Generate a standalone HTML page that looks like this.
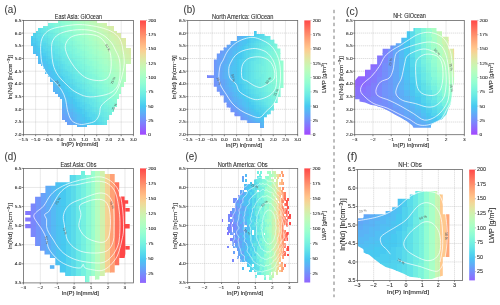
<!DOCTYPE html>
<html><head><meta charset="utf-8"><style>html,body{margin:0;padding:0;background:#fff;overflow:hidden}svg{display:block;will-change:transform}</style></head>
<body><svg width="500" height="305" viewBox="0 0 500 305" font-family='"Liberation Sans", sans-serif'>
<defs><clipPath id="cb"><path d="M236.50 35.80 L253.80 35.80 L253.80 30.90 L256.70 30.90 L256.70 33.90 L264.60 33.90 L264.60 35.80 L270.50 35.80 L270.50 39.80 L274.40 39.80 L274.40 43.70 L277.40 43.70 L277.40 48.60 L280.40 48.60 L280.40 60.40 L283.50 60.40 L283.50 88.00 L280.60 88.00 L280.60 97.00 L277.70 97.00 L277.70 103.00 L273.80 103.00 L273.80 110.40 L270.80 110.40 L270.80 114.30 L266.90 114.30 L266.90 117.30 L264.00 117.30 L264.00 128.00 L260.00 128.00 L260.00 123.10 L247.20 123.10 L247.20 120.20 L240.40 120.20 L240.40 116.30 L234.50 116.30 L234.50 112.30 L230.50 112.30 L230.50 107.40 L226.60 107.40 L226.60 102.50 L223.70 102.50 L223.70 95.60 L219.70 95.60 L219.70 91.70 L216.80 91.70 L216.80 86.80 L213.80 86.80 L213.80 78.00 L207.00 78.00 L207.00 75.20 L213.90 75.20 L213.90 59.40 L216.80 59.40 L216.80 53.50 L219.80 53.50 L219.80 50.50 L223.70 50.50 L223.70 47.60 L226.70 47.60 L226.70 44.70 L230.60 44.70 L230.60 40.70 L236.50 40.70Z"/></clipPath><clipPath id="cc"><path d="M413.40 27.90 L436.50 27.90 L436.50 31.20 L442.00 31.20 L442.00 36.70 L448.60 36.70 L448.60 48.80 L454.10 48.80 L454.10 80.00 L453.00 86.00 L451.90 97.00 L450.80 104.00 L448.60 108.00 L446.40 114.60 L442.00 119.00 L437.60 121.20 L431.00 124.50 L431.00 127.80 L413.40 127.80 L412.30 125.60 L406.80 121.20 L401.30 117.90 L394.70 114.60 L389.20 111.30 L382.60 108.00 L376.00 105.80 L370.50 104.70 L365.00 102.50 L359.50 101.40 L359.50 99.20 L355.10 99.20 L355.10 80.50 L358.40 76.30 L365.00 76.30 L365.00 69.70 L370.50 69.70 L370.50 64.20 L377.10 64.20 L377.10 55.40 L382.60 55.40 L382.60 48.80 L390.30 48.80 L390.30 45.50 L395.80 45.50 L395.80 43.30 L401.30 43.30 L401.30 37.80 L406.80 37.80 L406.80 31.20 L413.40 31.20Z"/></clipPath><clipPath id="cd"><path d="M80.50 171.00 L85.00 171.00 L85.00 175.00 L90.40 175.00 L90.40 171.00 L104.80 171.00 L104.80 174.10 L114.70 174.10 L114.70 182.20 L119.20 182.20 L119.20 196.60 L124.60 196.60 L124.60 200.20 L128.20 200.20 L128.20 203.80 L125.30 203.80 L125.30 224.00 L129.70 224.00 L129.70 228.40 L125.30 228.40 L125.30 253.70 L124.60 258.00 L119.20 258.00 L119.20 265.20 L114.70 265.20 L114.70 272.40 L104.80 272.40 L104.80 276.00 L99.40 276.00 L99.40 279.60 L95.00 279.60 L95.00 276.00 L89.50 276.00 L89.50 282.30 L85.00 282.30 L85.00 276.00 L65.20 276.00 L65.20 272.40 L59.80 272.40 L59.80 265.20 L55.30 265.20 L55.30 258.00 L49.90 258.00 L49.90 254.40 L44.50 254.40 L44.50 250.80 L40.00 250.80 L40.00 246.00 L35.10 246.00 L35.10 237.00 L30.70 237.00 L30.70 228.20 L25.20 228.20 L25.20 211.10 L30.70 211.10 L30.70 203.40 L35.10 203.40 L35.10 196.80 L40.60 196.80 L40.60 193.00 L45.40 193.00 L45.40 185.80 L55.30 185.80 L55.30 182.20 L69.70 182.20 L69.70 175.00 L80.50 175.00Z"/></clipPath><clipPath id="cf"><path d="M357.80 218.20 L363.60 218.20 L363.60 214.20 L385.60 214.20 L385.60 210.90 L392.20 210.90 L392.20 207.20 L397.70 207.20 L397.70 198.80 L409.80 198.80 L409.80 194.40 L415.30 194.40 L415.30 190.70 L437.30 190.70 L437.30 194.40 L442.80 194.40 L442.80 214.20 L449.40 214.20 L449.40 257.00 L442.80 257.00 L442.80 275.70 L438.40 276.80 L431.80 279.00 L420.80 279.00 L420.80 277.90 L409.80 276.80 L403.20 273.50 L397.70 271.30 L392.20 269.10 L385.60 266.90 L380.10 263.60 L374.60 259.20 L369.10 254.80 L363.60 252.60 L363.60 249.30 L357.80 246.00Z"/></clipPath><linearGradient id="cbga" x1="0" y1="0" x2="0" y2="1"><stop offset="0.000" stop-color="#ff4747"/><stop offset="0.050" stop-color="#ff6456"/><stop offset="0.100" stop-color="#ff8064"/><stop offset="0.150" stop-color="#ff9b72"/><stop offset="0.200" stop-color="#ffb380"/><stop offset="0.250" stop-color="#ffc98e"/><stop offset="0.300" stop-color="#eddc9b"/><stop offset="0.350" stop-color="#daeba7"/><stop offset="0.400" stop-color="#c8f6b3"/><stop offset="0.450" stop-color="#b6fdbf"/><stop offset="0.500" stop-color="#a3ffc9"/><stop offset="0.550" stop-color="#91fdd3"/><stop offset="0.600" stop-color="#7ef6dc"/><stop offset="0.650" stop-color="#6cebe4"/><stop offset="0.700" stop-color="#5adceb"/><stop offset="0.750" stop-color="#47c9f1"/><stop offset="0.800" stop-color="#5ab3f6"/><stop offset="0.850" stop-color="#6c9bfa"/><stop offset="0.900" stop-color="#7e80fd"/><stop offset="0.950" stop-color="#9164fe"/><stop offset="1.000" stop-color="#a347ff"/></linearGradient><linearGradient id="cbgb" x1="0" y1="0" x2="0" y2="1"><stop offset="0.000" stop-color="#ff4747"/><stop offset="0.050" stop-color="#ff6456"/><stop offset="0.100" stop-color="#ff8064"/><stop offset="0.150" stop-color="#ff9b72"/><stop offset="0.200" stop-color="#ffb380"/><stop offset="0.250" stop-color="#ffc98e"/><stop offset="0.300" stop-color="#eddc9b"/><stop offset="0.350" stop-color="#daeba7"/><stop offset="0.400" stop-color="#c8f6b3"/><stop offset="0.450" stop-color="#b6fdbf"/><stop offset="0.500" stop-color="#a3ffc9"/><stop offset="0.550" stop-color="#91fdd3"/><stop offset="0.600" stop-color="#7ef6dc"/><stop offset="0.650" stop-color="#6cebe4"/><stop offset="0.700" stop-color="#5adceb"/><stop offset="0.750" stop-color="#47c9f1"/><stop offset="0.800" stop-color="#5ab3f6"/><stop offset="0.850" stop-color="#6c9bfa"/><stop offset="0.900" stop-color="#7e80fd"/><stop offset="0.950" stop-color="#9164fe"/><stop offset="1.000" stop-color="#a347ff"/></linearGradient><linearGradient id="cbgc" x1="0" y1="0" x2="0" y2="1"><stop offset="0.000" stop-color="#ff4747"/><stop offset="0.050" stop-color="#ff6456"/><stop offset="0.100" stop-color="#ff8064"/><stop offset="0.150" stop-color="#ff9b72"/><stop offset="0.200" stop-color="#ffb380"/><stop offset="0.250" stop-color="#ffc98e"/><stop offset="0.300" stop-color="#eddc9b"/><stop offset="0.350" stop-color="#daeba7"/><stop offset="0.400" stop-color="#c8f6b3"/><stop offset="0.450" stop-color="#b6fdbf"/><stop offset="0.500" stop-color="#a3ffc9"/><stop offset="0.550" stop-color="#91fdd3"/><stop offset="0.600" stop-color="#7ef6dc"/><stop offset="0.650" stop-color="#6cebe4"/><stop offset="0.700" stop-color="#5adceb"/><stop offset="0.750" stop-color="#47c9f1"/><stop offset="0.800" stop-color="#5ab3f6"/><stop offset="0.850" stop-color="#6c9bfa"/><stop offset="0.900" stop-color="#7e80fd"/><stop offset="0.950" stop-color="#9164fe"/><stop offset="1.000" stop-color="#a347ff"/></linearGradient><linearGradient id="cbgd" x1="0" y1="0" x2="0" y2="1"><stop offset="0.000" stop-color="#ff4747"/><stop offset="0.050" stop-color="#ff6355"/><stop offset="0.100" stop-color="#ff7d63"/><stop offset="0.150" stop-color="#ff9770"/><stop offset="0.200" stop-color="#ffaf7d"/><stop offset="0.250" stop-color="#ffc48a"/><stop offset="0.300" stop-color="#f2d797"/><stop offset="0.350" stop-color="#e1e6a3"/><stop offset="0.400" stop-color="#cff2af"/><stop offset="0.450" stop-color="#befaba"/><stop offset="0.500" stop-color="#acfec4"/><stop offset="0.550" stop-color="#9bffce"/><stop offset="0.600" stop-color="#89fbd7"/><stop offset="0.650" stop-color="#78f3df"/><stop offset="0.700" stop-color="#67e7e6"/><stop offset="0.750" stop-color="#55d8ed"/><stop offset="0.800" stop-color="#4bc5f2"/><stop offset="0.850" stop-color="#5db0f7"/><stop offset="0.900" stop-color="#6e98fa"/><stop offset="0.950" stop-color="#7f7ffd"/><stop offset="1.000" stop-color="#9164fe"/></linearGradient><linearGradient id="cbge" x1="0" y1="0" x2="0" y2="1"><stop offset="0.000" stop-color="#ff4747"/><stop offset="0.050" stop-color="#ff6355"/><stop offset="0.100" stop-color="#ff7d63"/><stop offset="0.150" stop-color="#ff9770"/><stop offset="0.200" stop-color="#ffaf7d"/><stop offset="0.250" stop-color="#ffc48a"/><stop offset="0.300" stop-color="#f2d797"/><stop offset="0.350" stop-color="#e1e6a3"/><stop offset="0.400" stop-color="#cff2af"/><stop offset="0.450" stop-color="#befaba"/><stop offset="0.500" stop-color="#acfec4"/><stop offset="0.550" stop-color="#9bffce"/><stop offset="0.600" stop-color="#89fbd7"/><stop offset="0.650" stop-color="#78f3df"/><stop offset="0.700" stop-color="#67e7e6"/><stop offset="0.750" stop-color="#55d8ed"/><stop offset="0.800" stop-color="#4bc5f2"/><stop offset="0.850" stop-color="#5db0f7"/><stop offset="0.900" stop-color="#6e98fa"/><stop offset="0.950" stop-color="#7f7ffd"/><stop offset="1.000" stop-color="#9164fe"/></linearGradient><linearGradient id="cbgf" x1="0" y1="0" x2="0" y2="1"><stop offset="0.000" stop-color="#ff4747"/><stop offset="0.050" stop-color="#ff6355"/><stop offset="0.100" stop-color="#ff7d63"/><stop offset="0.150" stop-color="#ff9770"/><stop offset="0.200" stop-color="#ffaf7d"/><stop offset="0.250" stop-color="#ffc48a"/><stop offset="0.300" stop-color="#f2d797"/><stop offset="0.350" stop-color="#e1e6a3"/><stop offset="0.400" stop-color="#cff2af"/><stop offset="0.450" stop-color="#befaba"/><stop offset="0.500" stop-color="#acfec4"/><stop offset="0.550" stop-color="#9bffce"/><stop offset="0.600" stop-color="#89fbd7"/><stop offset="0.650" stop-color="#78f3df"/><stop offset="0.700" stop-color="#67e7e6"/><stop offset="0.750" stop-color="#55d8ed"/><stop offset="0.800" stop-color="#4bc5f2"/><stop offset="0.850" stop-color="#5db0f7"/><stop offset="0.900" stop-color="#6e98fa"/><stop offset="0.950" stop-color="#7f7ffd"/><stop offset="1.000" stop-color="#9164fe"/></linearGradient></defs>
<rect width="500" height="305" fill="#fff"/>
<path d="M35.62 20.40V134.70M47.84 20.40V134.70M60.07 20.40V134.70M72.29 20.40V134.70M84.51 20.40V134.70M96.73 20.40V134.70M108.96 20.40V134.70M121.18 20.40V134.70M23.40 122.00H133.40M23.40 109.30H133.40M23.40 96.60H133.40M23.40 83.90H133.40M23.40 71.20H133.40M23.40 58.50H133.40M23.40 45.80H133.40M23.40 33.10H133.40" stroke="#c8c8c8" stroke-width="0.5" stroke-dasharray="1.2,0.8" fill="none"/>
<path d="M199.92 20.40V134.70M212.14 20.40V134.70M224.37 20.40V134.70M236.59 20.40V134.70M248.81 20.40V134.70M261.03 20.40V134.70M273.26 20.40V134.70M285.48 20.40V134.70M187.70 122.00H297.70M187.70 109.30H297.70M187.70 96.60H297.70M187.70 83.90H297.70M187.70 71.20H297.70M187.70 58.50H297.70M187.70 45.80H297.70M187.70 33.10H297.70" stroke="#c8c8c8" stroke-width="0.5" stroke-dasharray="1.2,0.8" fill="none"/>
<path d="M372.97 20.40V134.70M391.23 20.40V134.70M409.50 20.40V134.70M427.77 20.40V134.70M446.03 20.40V134.70M354.70 122.00H464.30M354.70 109.30H464.30M354.70 96.60H464.30M354.70 83.90H464.30M354.70 71.20H464.30M354.70 58.50H464.30M354.70 45.80H464.30M354.70 33.10H464.30" stroke="#c8c8c8" stroke-width="0.5" stroke-dasharray="1.2,0.8" fill="none"/>
<path d="M40.32 168.40V282.90M57.25 168.40V282.90M74.17 168.40V282.90M91.09 168.40V282.90M108.02 168.40V282.90M124.94 168.40V282.90M23.40 263.82H133.40M23.40 244.73H133.40M23.40 225.65H133.40M23.40 206.57H133.40M23.40 187.48H133.40" stroke="#c8c8c8" stroke-width="0.5" stroke-dasharray="1.2,0.8" fill="none"/>
<path d="M204.62 168.40V282.50M221.55 168.40V282.50M238.47 168.40V282.50M255.39 168.40V282.50M272.32 168.40V282.50M289.24 168.40V282.50M187.70 263.48H297.70M187.70 244.47H297.70M187.70 225.45H297.70M187.70 206.43H297.70M187.70 187.42H297.70" stroke="#c8c8c8" stroke-width="0.5" stroke-dasharray="1.2,0.8" fill="none"/>
<path d="M373.67 169.60V280.40M389.84 169.60V280.40M406.01 169.60V280.40M422.18 169.60V280.40M438.35 169.60V280.40M454.52 169.60V280.40M357.50 261.93H462.60M357.50 243.47H462.60M357.50 225.00H462.60M357.50 206.53H462.60M357.50 188.07H462.60" stroke="#c8c8c8" stroke-width="0.5" stroke-dasharray="1.2,0.8" fill="none"/>
<g shape-rendering="crispEdges"><path fill="#88fad8" d="M57.6 20.4h2.74v2.84h-2.74zM60.1 22.9h2.74v2.84h-2.74zM60.1 25.5h2.74v2.84h-2.74zM62.5 28.0h2.74v2.84h-2.74zM64.9 30.6h2.74v2.84h-2.74zM64.9 33.1h2.74v2.84h-2.74zM67.4 33.1h2.74v2.84h-2.74zM67.4 35.6h2.74v2.84h-2.74zM69.8 38.2h2.74v2.84h-2.74zM72.3 40.7h2.74v2.84h-2.74zM72.3 43.3h2.74v2.84h-2.74zM74.7 45.8h2.74v2.84h-2.74zM77.2 48.3h2.74v2.84h-2.74zM77.2 50.9h2.74v2.84h-2.74zM79.6 50.9h2.74v2.84h-2.74zM79.6 53.4h2.74v2.84h-2.74zM82.1 56.0h2.74v2.84h-2.74zM84.5 58.5h2.74v2.84h-2.74zM84.5 61.0h2.74v2.84h-2.74zM86.9 63.6h2.74v2.84h-2.74zM89.4 66.1h2.74v2.84h-2.74zM89.4 68.7h2.74v2.84h-2.74zM91.8 68.7h2.74v2.84h-2.74zM91.8 71.2h2.74v2.84h-2.74zM94.3 73.7h2.74v2.84h-2.74zM96.7 76.3h2.74v2.84h-2.74zM96.7 78.8h2.74v2.84h-2.74zM99.2 81.4h2.74v2.84h-2.74zM101.6 83.9h2.74v2.84h-2.74zM101.6 86.4h2.74v2.84h-2.74zM104.1 86.4h2.74v2.84h-2.74zM104.1 89.0h2.74v2.84h-2.74zM106.5 91.5h2.74v2.84h-2.74zM108.9 94.1h2.74v2.84h-2.74zM108.9 96.6h2.74v2.84h-2.74zM111.4 99.1h2.74v2.84h-2.74zM113.8 101.7h2.74v2.84h-2.74zM113.8 104.2h2.74v2.84h-2.74z"/><path fill="#8cfbd5" d="M60.1 20.4h2.74v2.84h-2.74zM62.5 22.9h2.74v2.84h-2.74zM62.5 25.5h2.74v2.84h-2.74zM64.9 25.5h2.74v2.84h-2.74zM64.9 28.0h2.74v2.84h-2.74zM67.4 30.6h2.74v2.84h-2.74zM69.8 33.1h2.74v2.84h-2.74zM69.8 35.6h2.74v2.84h-2.74zM72.3 38.2h2.74v2.84h-2.74zM74.7 40.7h2.74v2.84h-2.74zM74.7 43.3h2.74v2.84h-2.74zM77.2 43.3h2.74v2.84h-2.74zM77.2 45.8h2.74v2.84h-2.74zM79.6 48.3h2.74v2.84h-2.74zM82.1 50.9h2.74v2.84h-2.74zM82.1 53.4h2.74v2.84h-2.74zM84.5 56.0h2.74v2.84h-2.74zM86.9 58.5h2.74v2.84h-2.74zM86.9 61.0h2.74v2.84h-2.74zM89.4 61.0h2.74v2.84h-2.74zM89.4 63.6h2.74v2.84h-2.74zM91.8 66.1h2.74v2.84h-2.74zM94.3 68.7h2.74v2.84h-2.74zM94.3 71.2h2.74v2.84h-2.74zM96.7 73.7h2.74v2.84h-2.74zM99.2 76.3h2.74v2.84h-2.74zM99.2 78.8h2.74v2.84h-2.74zM101.6 78.8h2.74v2.84h-2.74zM101.6 81.4h2.74v2.84h-2.74zM104.1 83.9h2.74v2.84h-2.74zM106.5 86.4h2.74v2.84h-2.74zM106.5 89.0h2.74v2.84h-2.74zM108.9 91.5h2.74v2.84h-2.74zM111.4 94.1h2.74v2.84h-2.74zM111.4 96.6h2.74v2.84h-2.74zM113.8 96.6h2.74v2.84h-2.74zM113.8 99.1h2.74v2.84h-2.74z"/><path fill="#91fdd3" d="M62.5 20.4h2.74v2.84h-2.74zM64.9 22.9h2.74v2.84h-2.74zM67.4 25.5h2.74v2.84h-2.74zM67.4 28.0h2.74v2.84h-2.74zM69.8 30.6h2.74v2.84h-2.74zM72.3 33.1h2.74v2.84h-2.74zM72.3 35.6h2.74v2.84h-2.74zM74.7 35.6h2.74v2.84h-2.74zM74.7 38.2h2.74v2.84h-2.74zM77.2 40.7h2.74v2.84h-2.74zM79.6 43.3h2.74v2.84h-2.74zM79.6 45.8h2.74v2.84h-2.74zM82.1 48.3h2.74v2.84h-2.74zM84.5 50.9h2.74v2.84h-2.74zM84.5 53.4h2.74v2.84h-2.74zM86.9 53.4h2.74v2.84h-2.74zM86.9 56.0h2.74v2.84h-2.74zM89.4 58.5h2.74v2.84h-2.74zM91.8 61.0h2.74v2.84h-2.74zM91.8 63.6h2.74v2.84h-2.74zM94.3 66.1h2.74v2.84h-2.74zM96.7 68.7h2.74v2.84h-2.74zM96.7 71.2h2.74v2.84h-2.74zM99.2 71.2h2.74v2.84h-2.74zM99.2 73.7h2.74v2.84h-2.74zM101.6 76.3h2.74v2.84h-2.74zM104.1 78.8h2.74v2.84h-2.74zM104.1 81.4h2.74v2.84h-2.74zM106.5 83.9h2.74v2.84h-2.74zM108.9 86.4h2.74v2.84h-2.74zM108.9 89.0h2.74v2.84h-2.74zM111.4 89.0h2.74v2.84h-2.74zM111.4 91.5h2.74v2.84h-2.74zM113.8 94.1h2.74v2.84h-2.74zM116.3 96.6h2.74v2.84h-2.74z"/><path fill="#95fed1" d="M64.9 20.4h2.74v2.84h-2.74zM67.4 20.4h2.74v2.84h-2.74zM67.4 22.9h2.74v2.84h-2.74zM69.8 25.5h2.74v2.84h-2.74zM69.8 28.0h2.74v2.84h-2.74zM72.3 28.0h2.74v2.84h-2.74zM72.3 30.6h2.74v2.84h-2.74zM74.7 33.1h2.74v2.84h-2.74zM77.2 35.6h2.74v2.84h-2.74zM77.2 38.2h2.74v2.84h-2.74zM79.6 40.7h2.74v2.84h-2.74zM82.1 43.3h2.74v2.84h-2.74zM82.1 45.8h2.74v2.84h-2.74zM84.5 45.8h2.74v2.84h-2.74zM84.5 48.3h2.74v2.84h-2.74zM86.9 50.9h2.74v2.84h-2.74zM89.4 53.4h2.74v2.84h-2.74zM89.4 56.0h2.74v2.84h-2.74zM91.8 58.5h2.74v2.84h-2.74zM94.3 61.0h2.74v2.84h-2.74zM94.3 63.6h2.74v2.84h-2.74zM96.7 63.6h2.74v2.84h-2.74zM96.7 66.1h2.74v2.84h-2.74zM99.2 68.7h2.74v2.84h-2.74zM101.6 71.2h2.74v2.84h-2.74zM101.6 73.7h2.74v2.84h-2.74zM104.1 76.3h2.74v2.84h-2.74zM106.5 78.8h2.74v2.84h-2.74zM106.5 81.4h2.74v2.84h-2.74zM108.9 81.4h2.74v2.84h-2.74zM108.9 83.9h2.74v2.84h-2.74zM111.4 86.4h2.74v2.84h-2.74zM113.8 89.0h2.74v2.84h-2.74zM113.8 91.5h2.74v2.84h-2.74zM116.3 94.1h2.74v2.84h-2.74z"/><path fill="#9afece" d="M69.8 20.4h2.74v2.84h-2.74zM69.8 22.9h2.74v2.84h-2.74zM72.3 25.5h2.74v2.84h-2.74zM74.7 28.0h2.74v2.84h-2.74zM74.7 30.6h2.74v2.84h-2.74zM77.2 30.6h2.74v2.84h-2.74zM77.2 33.1h2.74v2.84h-2.74zM79.6 35.6h2.74v2.84h-2.74zM79.6 38.2h2.74v2.84h-2.74zM82.1 38.2h2.74v2.84h-2.74zM82.1 40.7h2.74v2.84h-2.74zM84.5 43.3h2.74v2.84h-2.74zM86.9 45.8h2.74v2.84h-2.74zM86.9 48.3h2.74v2.84h-2.74zM89.4 48.3h2.74v2.84h-2.74zM89.4 50.9h2.74v2.84h-2.74zM91.8 53.4h2.74v2.84h-2.74zM91.8 56.0h2.74v2.84h-2.74zM94.3 56.0h2.74v2.84h-2.74zM94.3 58.5h2.74v2.84h-2.74zM96.7 61.0h2.74v2.84h-2.74zM99.2 63.6h2.74v2.84h-2.74zM99.2 66.1h2.74v2.84h-2.74zM101.6 68.7h2.74v2.84h-2.74zM104.1 71.2h2.74v2.84h-2.74zM104.1 73.7h2.74v2.84h-2.74zM106.5 73.7h2.74v2.84h-2.74zM106.5 76.3h2.74v2.84h-2.74zM108.9 78.8h2.74v2.84h-2.74zM111.4 81.4h2.74v2.84h-2.74zM111.4 83.9h2.74v2.84h-2.74zM113.8 86.4h2.74v2.84h-2.74zM116.3 89.0h2.74v2.84h-2.74zM116.3 91.5h2.74v2.84h-2.74zM118.7 91.5h2.74v2.84h-2.74z"/><path fill="#9fffcc" d="M72.3 20.4h2.74v2.84h-2.74zM72.3 22.9h2.74v2.84h-2.74zM74.7 22.9h2.74v2.84h-2.74zM74.7 25.5h2.74v2.84h-2.74zM77.2 28.0h2.74v2.84h-2.74zM79.6 30.6h2.74v2.84h-2.74zM79.6 33.1h2.74v2.84h-2.74zM82.1 35.6h2.74v2.84h-2.74zM84.5 38.2h2.74v2.84h-2.74zM84.5 40.7h2.74v2.84h-2.74zM86.9 40.7h2.74v2.84h-2.74zM86.9 43.3h2.74v2.84h-2.74zM89.4 45.8h2.74v2.84h-2.74zM91.8 48.3h2.74v2.84h-2.74zM91.8 50.9h2.74v2.84h-2.74zM94.3 53.4h2.74v2.84h-2.74zM96.7 56.0h2.74v2.84h-2.74zM96.7 58.5h2.74v2.84h-2.74zM99.2 58.5h2.74v2.84h-2.74zM99.2 61.0h2.74v2.84h-2.74zM101.6 63.6h2.74v2.84h-2.74zM101.6 66.1h2.74v2.84h-2.74zM104.1 66.1h2.74v2.84h-2.74zM104.1 68.7h2.74v2.84h-2.74zM106.5 71.2h2.74v2.84h-2.74zM108.9 73.7h2.74v2.84h-2.74zM108.9 76.3h2.74v2.84h-2.74zM111.4 78.8h2.74v2.84h-2.74zM113.8 81.4h2.74v2.84h-2.74zM113.8 83.9h2.74v2.84h-2.74zM116.3 83.9h2.74v2.84h-2.74zM116.3 86.4h2.74v2.84h-2.74zM118.7 89.0h2.74v2.84h-2.74z"/><path fill="#a3ffc9" d="M74.7 20.4h2.74v2.84h-2.74zM77.2 22.9h2.74v2.84h-2.74zM77.2 25.5h2.74v2.84h-2.74zM79.6 28.0h2.74v2.84h-2.74zM82.1 30.6h2.74v2.84h-2.74zM82.1 33.1h2.74v2.84h-2.74zM84.5 33.1h2.74v2.84h-2.74zM84.5 35.6h2.74v2.84h-2.74zM86.9 38.2h2.74v2.84h-2.74zM89.4 40.7h2.74v2.84h-2.74zM89.4 43.3h2.74v2.84h-2.74zM91.8 45.8h2.74v2.84h-2.74zM94.3 48.3h2.74v2.84h-2.74zM94.3 50.9h2.74v2.84h-2.74zM96.7 50.9h2.74v2.84h-2.74zM96.7 53.4h2.74v2.84h-2.74zM99.2 56.0h2.74v2.84h-2.74zM101.6 58.5h2.74v2.84h-2.74zM101.6 61.0h2.74v2.84h-2.74zM104.1 63.6h2.74v2.84h-2.74zM106.5 66.1h2.74v2.84h-2.74zM106.5 68.7h2.74v2.84h-2.74zM108.9 68.7h2.74v2.84h-2.74zM108.9 71.2h2.74v2.84h-2.74zM111.4 73.7h2.74v2.84h-2.74zM111.4 76.3h2.74v2.84h-2.74zM113.8 76.3h2.74v2.84h-2.74zM113.8 78.8h2.74v2.84h-2.74zM116.3 81.4h2.74v2.84h-2.74zM118.7 83.9h2.74v2.84h-2.74zM118.7 86.4h2.74v2.84h-2.74z"/><path fill="#a8ffc7" d="M77.2 20.4h2.74v2.84h-2.74zM79.6 22.9h2.74v2.84h-2.74zM79.6 25.5h2.74v2.84h-2.74zM82.1 25.5h2.74v2.84h-2.74zM82.1 28.0h2.74v2.84h-2.74zM84.5 30.6h2.74v2.84h-2.74zM86.9 33.1h2.74v2.84h-2.74zM86.9 35.6h2.74v2.84h-2.74zM89.4 38.2h2.74v2.84h-2.74zM91.8 40.7h2.74v2.84h-2.74zM91.8 43.3h2.74v2.84h-2.74zM94.3 43.3h2.74v2.84h-2.74zM94.3 45.8h2.74v2.84h-2.74zM96.7 48.3h2.74v2.84h-2.74zM99.2 50.9h2.74v2.84h-2.74zM99.2 53.4h2.74v2.84h-2.74zM101.6 56.0h2.74v2.84h-2.74zM104.1 58.5h2.74v2.84h-2.74zM104.1 61.0h2.74v2.84h-2.74zM106.5 61.0h2.74v2.84h-2.74zM106.5 63.6h2.74v2.84h-2.74zM108.9 66.1h2.74v2.84h-2.74zM111.4 68.7h2.74v2.84h-2.74zM111.4 71.2h2.74v2.84h-2.74zM113.8 73.7h2.74v2.84h-2.74zM116.3 76.3h2.74v2.84h-2.74zM116.3 78.8h2.74v2.84h-2.74zM118.7 78.8h2.74v2.84h-2.74zM118.7 81.4h2.74v2.84h-2.74zM121.2 83.9h2.74v2.84h-2.74z"/><path fill="#acfec4" d="M79.6 20.4h2.74v2.84h-2.74zM82.1 22.9h2.74v2.84h-2.74zM84.5 25.5h2.74v2.84h-2.74zM84.5 28.0h2.74v2.84h-2.74zM86.9 30.6h2.74v2.84h-2.74zM89.4 33.1h2.74v2.84h-2.74zM89.4 35.6h2.74v2.84h-2.74zM91.8 35.6h2.74v2.84h-2.74zM91.8 38.2h2.74v2.84h-2.74zM94.3 40.7h2.74v2.84h-2.74zM96.7 43.3h2.74v2.84h-2.74zM96.7 45.8h2.74v2.84h-2.74zM99.2 48.3h2.74v2.84h-2.74zM101.6 50.9h2.74v2.84h-2.74zM101.6 53.4h2.74v2.84h-2.74zM104.1 53.4h2.74v2.84h-2.74zM104.1 56.0h2.74v2.84h-2.74zM106.5 58.5h2.74v2.84h-2.74zM108.9 61.0h2.74v2.84h-2.74zM108.9 63.6h2.74v2.84h-2.74zM111.4 66.1h2.74v2.84h-2.74zM113.8 68.7h2.74v2.84h-2.74zM113.8 71.2h2.74v2.84h-2.74zM116.3 71.2h2.74v2.84h-2.74zM116.3 73.7h2.74v2.84h-2.74zM118.7 76.3h2.74v2.84h-2.74zM121.2 78.8h2.74v2.84h-2.74zM121.2 81.4h2.74v2.84h-2.74z"/><path fill="#b1fec1" d="M82.1 20.4h2.74v2.84h-2.74zM84.5 22.9h2.74v2.84h-2.74zM86.9 25.5h2.74v2.84h-2.74zM86.9 28.0h2.74v2.84h-2.74zM89.4 28.0h2.74v2.84h-2.74zM89.4 30.6h2.74v2.84h-2.74zM91.8 33.1h2.74v2.84h-2.74zM94.3 35.6h2.74v2.84h-2.74zM94.3 38.2h2.74v2.84h-2.74zM96.7 40.7h2.74v2.84h-2.74zM99.2 43.3h2.74v2.84h-2.74zM99.2 45.8h2.74v2.84h-2.74zM101.6 45.8h2.74v2.84h-2.74zM101.6 48.3h2.74v2.84h-2.74zM104.1 50.9h2.74v2.84h-2.74zM106.5 53.4h2.74v2.84h-2.74zM106.5 56.0h2.74v2.84h-2.74zM108.9 58.5h2.74v2.84h-2.74zM111.4 61.0h2.74v2.84h-2.74zM111.4 63.6h2.74v2.84h-2.74zM113.8 63.6h2.74v2.84h-2.74zM113.8 66.1h2.74v2.84h-2.74zM116.3 68.7h2.74v2.84h-2.74zM118.7 71.2h2.74v2.84h-2.74zM118.7 73.7h2.74v2.84h-2.74zM121.2 76.3h2.74v2.84h-2.74zM123.6 78.8h2.74v2.84h-2.74z"/><path fill="#b6fdbf" d="M84.5 20.4h2.74v2.84h-2.74zM86.9 20.4h2.74v2.84h-2.74zM86.9 22.9h2.74v2.84h-2.74zM89.4 25.5h2.74v2.84h-2.74zM91.8 28.0h2.74v2.84h-2.74zM91.8 30.6h2.74v2.84h-2.74zM94.3 30.6h2.74v2.84h-2.74zM94.3 33.1h2.74v2.84h-2.74zM96.7 35.6h2.74v2.84h-2.74zM96.7 38.2h2.74v2.84h-2.74zM99.2 38.2h2.74v2.84h-2.74zM99.2 40.7h2.74v2.84h-2.74zM101.6 43.3h2.74v2.84h-2.74zM104.1 45.8h2.74v2.84h-2.74zM104.1 48.3h2.74v2.84h-2.74zM106.5 50.9h2.74v2.84h-2.74zM108.9 53.4h2.74v2.84h-2.74zM108.9 56.0h2.74v2.84h-2.74zM111.4 56.0h2.74v2.84h-2.74zM111.4 58.5h2.74v2.84h-2.74zM113.8 61.0h2.74v2.84h-2.74zM116.3 63.6h2.74v2.84h-2.74zM116.3 66.1h2.74v2.84h-2.74zM118.7 68.7h2.74v2.84h-2.74zM121.2 71.2h2.74v2.84h-2.74zM121.2 73.7h2.74v2.84h-2.74zM123.6 73.7h2.74v2.84h-2.74zM123.6 76.3h2.74v2.84h-2.74z"/><path fill="#bafbbc" d="M89.4 20.4h2.74v2.84h-2.74zM89.4 22.9h2.74v2.84h-2.74zM91.8 22.9h2.74v2.84h-2.74zM91.8 25.5h2.74v2.84h-2.74zM94.3 28.0h2.74v2.84h-2.74zM96.7 30.6h2.74v2.84h-2.74zM96.7 33.1h2.74v2.84h-2.74zM99.2 35.6h2.74v2.84h-2.74zM101.6 38.2h2.74v2.84h-2.74zM101.6 40.7h2.74v2.84h-2.74zM104.1 40.7h2.74v2.84h-2.74zM104.1 43.3h2.74v2.84h-2.74zM106.5 45.8h2.74v2.84h-2.74zM106.5 48.3h2.74v2.84h-2.74zM108.9 48.3h2.74v2.84h-2.74zM108.9 50.9h2.74v2.84h-2.74zM111.4 53.4h2.74v2.84h-2.74zM113.8 56.0h2.74v2.84h-2.74zM113.8 58.5h2.74v2.84h-2.74zM116.3 61.0h2.74v2.84h-2.74zM118.7 63.6h2.74v2.84h-2.74zM118.7 66.1h2.74v2.84h-2.74zM121.2 66.1h2.74v2.84h-2.74zM121.2 68.7h2.74v2.84h-2.74zM123.6 71.2h2.74v2.84h-2.74z"/><path fill="#bffab9" d="M91.8 20.4h2.74v2.84h-2.74zM94.3 22.9h2.74v2.84h-2.74zM94.3 25.5h2.74v2.84h-2.74zM96.7 28.0h2.74v2.84h-2.74zM99.2 30.6h2.74v2.84h-2.74zM99.2 33.1h2.74v2.84h-2.74zM101.6 33.1h2.74v2.84h-2.74zM101.6 35.6h2.74v2.84h-2.74zM104.1 38.2h2.74v2.84h-2.74zM106.5 40.7h2.74v2.84h-2.74zM106.5 43.3h2.74v2.84h-2.74zM108.9 45.8h2.74v2.84h-2.74zM111.4 48.3h2.74v2.84h-2.74zM111.4 50.9h2.74v2.84h-2.74zM113.8 50.9h2.74v2.84h-2.74zM113.8 53.4h2.74v2.84h-2.74zM116.3 56.0h2.74v2.84h-2.74zM116.3 58.5h2.74v2.84h-2.74zM118.7 58.5h2.74v2.84h-2.74zM118.7 61.0h2.74v2.84h-2.74zM121.2 63.6h2.74v2.84h-2.74zM123.6 66.1h2.74v2.84h-2.74zM123.6 68.7h2.74v2.84h-2.74z"/><path fill="#c3f8b6" d="M94.3 20.4h2.74v2.84h-2.74zM96.7 22.9h2.74v2.84h-2.74zM96.7 25.5h2.74v2.84h-2.74zM99.2 25.5h2.74v2.84h-2.74zM99.2 28.0h2.74v2.84h-2.74zM101.6 30.6h2.74v2.84h-2.74zM104.1 33.1h2.74v2.84h-2.74zM104.1 35.6h2.74v2.84h-2.74zM106.5 38.2h2.74v2.84h-2.74zM108.9 40.7h2.74v2.84h-2.74zM108.9 43.3h2.74v2.84h-2.74zM111.4 43.3h2.74v2.84h-2.74zM111.4 45.8h2.74v2.84h-2.74zM113.8 48.3h2.74v2.84h-2.74zM116.3 50.9h2.74v2.84h-2.74zM116.3 53.4h2.74v2.84h-2.74zM118.7 56.0h2.74v2.84h-2.74zM121.2 58.5h2.74v2.84h-2.74zM121.2 61.0h2.74v2.84h-2.74zM123.6 61.0h2.74v2.84h-2.74zM123.6 63.6h2.74v2.84h-2.74z"/><path fill="#75f1e0" d="M47.8 22.9h2.74v2.84h-2.74zM50.3 25.5h2.74v2.84h-2.74zM50.3 28.0h2.74v2.84h-2.74zM52.7 28.0h2.74v2.84h-2.74zM52.7 30.6h2.74v2.84h-2.74zM55.2 33.1h2.74v2.84h-2.74zM55.2 35.6h2.74v2.84h-2.74zM57.6 35.6h2.74v2.84h-2.74zM57.6 38.2h2.74v2.84h-2.74zM60.1 40.7h2.74v2.84h-2.74zM62.5 43.3h2.74v2.84h-2.74zM62.5 45.8h2.74v2.84h-2.74zM64.9 48.3h2.74v2.84h-2.74zM67.4 50.9h2.74v2.84h-2.74zM67.4 53.4h2.74v2.84h-2.74zM69.8 53.4h2.74v2.84h-2.74zM69.8 56.0h2.74v2.84h-2.74zM72.3 58.5h2.74v2.84h-2.74zM74.7 61.0h2.74v2.84h-2.74zM74.7 63.6h2.74v2.84h-2.74zM77.2 66.1h2.74v2.84h-2.74zM79.6 68.7h2.74v2.84h-2.74zM79.6 71.2h2.74v2.84h-2.74zM82.1 71.2h2.74v2.84h-2.74zM82.1 73.7h2.74v2.84h-2.74zM84.5 76.3h2.74v2.84h-2.74zM86.9 78.8h2.74v2.84h-2.74zM86.9 81.4h2.74v2.84h-2.74zM89.4 83.9h2.74v2.84h-2.74zM91.8 86.4h2.74v2.84h-2.74zM91.8 89.0h2.74v2.84h-2.74zM94.3 89.0h2.74v2.84h-2.74zM94.3 91.5h2.74v2.84h-2.74zM96.7 94.1h2.74v2.84h-2.74zM99.2 96.6h2.74v2.84h-2.74zM99.2 99.1h2.74v2.84h-2.74zM101.6 101.7h2.74v2.84h-2.74zM104.1 104.2h2.74v2.84h-2.74zM104.1 106.8h2.74v2.84h-2.74zM106.5 106.8h2.74v2.84h-2.74zM106.5 109.3h2.74v2.84h-2.74zM108.9 111.8h2.74v2.84h-2.74z"/><path fill="#7af4de" d="M50.3 22.9h2.74v2.84h-2.74zM52.7 25.5h2.74v2.84h-2.74zM55.2 28.0h2.74v2.84h-2.74zM55.2 30.6h2.74v2.84h-2.74zM57.6 33.1h2.74v2.84h-2.74zM60.1 35.6h2.74v2.84h-2.74zM60.1 38.2h2.74v2.84h-2.74zM62.5 38.2h2.74v2.84h-2.74zM62.5 40.7h2.74v2.84h-2.74zM64.9 43.3h2.74v2.84h-2.74zM64.9 45.8h2.74v2.84h-2.74zM67.4 45.8h2.74v2.84h-2.74zM67.4 48.3h2.74v2.84h-2.74zM69.8 50.9h2.74v2.84h-2.74zM72.3 53.4h2.74v2.84h-2.74zM72.3 56.0h2.74v2.84h-2.74zM74.7 56.0h2.74v2.84h-2.74zM74.7 58.5h2.74v2.84h-2.74zM77.2 61.0h2.74v2.84h-2.74zM77.2 63.6h2.74v2.84h-2.74zM79.6 63.6h2.74v2.84h-2.74zM79.6 66.1h2.74v2.84h-2.74zM82.1 68.7h2.74v2.84h-2.74zM84.5 71.2h2.74v2.84h-2.74zM84.5 73.7h2.74v2.84h-2.74zM86.9 76.3h2.74v2.84h-2.74zM89.4 78.8h2.74v2.84h-2.74zM89.4 81.4h2.74v2.84h-2.74zM91.8 81.4h2.74v2.84h-2.74zM91.8 83.9h2.74v2.84h-2.74zM94.3 86.4h2.74v2.84h-2.74zM96.7 89.0h2.74v2.84h-2.74zM96.7 91.5h2.74v2.84h-2.74zM99.2 94.1h2.74v2.84h-2.74zM101.6 96.6h2.74v2.84h-2.74zM101.6 99.1h2.74v2.84h-2.74zM104.1 99.1h2.74v2.84h-2.74zM104.1 101.7h2.74v2.84h-2.74zM106.5 104.2h2.74v2.84h-2.74zM108.9 106.8h2.74v2.84h-2.74zM108.9 109.3h2.74v2.84h-2.74z"/><path fill="#7ef6dc" d="M52.7 22.9h2.74v2.84h-2.74zM55.2 25.5h2.74v2.84h-2.74zM57.6 28.0h2.74v2.84h-2.74zM57.6 30.6h2.74v2.84h-2.74zM60.1 30.6h2.74v2.84h-2.74zM60.1 33.1h2.74v2.84h-2.74zM62.5 35.6h2.74v2.84h-2.74zM64.9 38.2h2.74v2.84h-2.74zM64.9 40.7h2.74v2.84h-2.74zM67.4 43.3h2.74v2.84h-2.74zM69.8 45.8h2.74v2.84h-2.74zM69.8 48.3h2.74v2.84h-2.74zM72.3 48.3h2.74v2.84h-2.74zM72.3 50.9h2.74v2.84h-2.74zM74.7 53.4h2.74v2.84h-2.74zM77.2 56.0h2.74v2.84h-2.74zM77.2 58.5h2.74v2.84h-2.74zM79.6 61.0h2.74v2.84h-2.74zM82.1 63.6h2.74v2.84h-2.74zM82.1 66.1h2.74v2.84h-2.74zM84.5 66.1h2.74v2.84h-2.74zM84.5 68.7h2.74v2.84h-2.74zM86.9 71.2h2.74v2.84h-2.74zM86.9 73.7h2.74v2.84h-2.74zM89.4 73.7h2.74v2.84h-2.74zM89.4 76.3h2.74v2.84h-2.74zM91.8 78.8h2.74v2.84h-2.74zM94.3 81.4h2.74v2.84h-2.74zM94.3 83.9h2.74v2.84h-2.74zM96.7 86.4h2.74v2.84h-2.74zM99.2 89.0h2.74v2.84h-2.74zM99.2 91.5h2.74v2.84h-2.74zM101.6 91.5h2.74v2.84h-2.74zM101.6 94.1h2.74v2.84h-2.74zM104.1 96.6h2.74v2.84h-2.74zM106.5 99.1h2.74v2.84h-2.74zM106.5 101.7h2.74v2.84h-2.74zM108.9 104.2h2.74v2.84h-2.74zM111.4 106.8h2.74v2.84h-2.74zM111.4 109.3h2.74v2.84h-2.74z"/><path fill="#83f8da" d="M55.2 22.9h2.74v2.84h-2.74zM57.6 22.9h2.74v2.84h-2.74zM57.6 25.5h2.74v2.84h-2.74zM60.1 28.0h2.74v2.84h-2.74zM62.5 30.6h2.74v2.84h-2.74zM62.5 33.1h2.74v2.84h-2.74zM64.9 35.6h2.74v2.84h-2.74zM67.4 38.2h2.74v2.84h-2.74zM67.4 40.7h2.74v2.84h-2.74zM69.8 40.7h2.74v2.84h-2.74zM69.8 43.3h2.74v2.84h-2.74zM72.3 45.8h2.74v2.84h-2.74zM74.7 48.3h2.74v2.84h-2.74zM74.7 50.9h2.74v2.84h-2.74zM77.2 53.4h2.74v2.84h-2.74zM79.6 56.0h2.74v2.84h-2.74zM79.6 58.5h2.74v2.84h-2.74zM82.1 58.5h2.74v2.84h-2.74zM82.1 61.0h2.74v2.84h-2.74zM84.5 63.6h2.74v2.84h-2.74zM86.9 66.1h2.74v2.84h-2.74zM86.9 68.7h2.74v2.84h-2.74zM89.4 71.2h2.74v2.84h-2.74zM91.8 73.7h2.74v2.84h-2.74zM91.8 76.3h2.74v2.84h-2.74zM94.3 76.3h2.74v2.84h-2.74zM94.3 78.8h2.74v2.84h-2.74zM96.7 81.4h2.74v2.84h-2.74zM96.7 83.9h2.74v2.84h-2.74zM99.2 83.9h2.74v2.84h-2.74zM99.2 86.4h2.74v2.84h-2.74zM101.6 89.0h2.74v2.84h-2.74zM104.1 91.5h2.74v2.84h-2.74zM104.1 94.1h2.74v2.84h-2.74zM106.5 94.1h2.74v2.84h-2.74zM106.5 96.6h2.74v2.84h-2.74zM108.9 99.1h2.74v2.84h-2.74zM108.9 101.7h2.74v2.84h-2.74zM111.4 101.7h2.74v2.84h-2.74zM111.4 104.2h2.74v2.84h-2.74z"/><path fill="#c8f6b3" d="M99.2 22.9h2.74v2.84h-2.74zM101.6 25.5h2.74v2.84h-2.74zM101.6 28.0h2.74v2.84h-2.74zM104.1 30.6h2.74v2.84h-2.74zM106.5 33.1h2.74v2.84h-2.74zM106.5 35.6h2.74v2.84h-2.74zM108.9 35.6h2.74v2.84h-2.74zM108.9 38.2h2.74v2.84h-2.74zM111.4 40.7h2.74v2.84h-2.74zM113.8 43.3h2.74v2.84h-2.74zM113.8 45.8h2.74v2.84h-2.74zM116.3 48.3h2.74v2.84h-2.74zM118.7 50.9h2.74v2.84h-2.74zM118.7 53.4h2.74v2.84h-2.74zM121.2 53.4h2.74v2.84h-2.74zM121.2 56.0h2.74v2.84h-2.74zM123.6 58.5h2.74v2.84h-2.74zM126.0 61.0h2.74v2.84h-2.74z"/><path fill="#cdf4b0" d="M101.6 22.9h2.74v2.84h-2.74zM104.1 25.5h2.74v2.84h-2.74zM104.1 28.0h2.74v2.84h-2.74zM106.5 28.0h2.74v2.84h-2.74zM106.5 30.6h2.74v2.84h-2.74zM108.9 33.1h2.74v2.84h-2.74zM111.4 35.6h2.74v2.84h-2.74zM111.4 38.2h2.74v2.84h-2.74zM113.8 40.7h2.74v2.84h-2.74zM116.3 43.3h2.74v2.84h-2.74zM116.3 45.8h2.74v2.84h-2.74zM118.7 45.8h2.74v2.84h-2.74zM118.7 48.3h2.74v2.84h-2.74zM121.2 50.9h2.74v2.84h-2.74zM123.6 53.4h2.74v2.84h-2.74zM123.6 56.0h2.74v2.84h-2.74zM126.0 58.5h2.74v2.84h-2.74zM128.5 61.0h2.74v2.84h-2.74z"/><path fill="#d1f1ad" d="M104.1 22.9h2.74v2.84h-2.74zM106.5 25.5h2.74v2.84h-2.74zM108.9 28.0h2.74v2.84h-2.74zM108.9 30.6h2.74v2.84h-2.74zM111.4 33.1h2.74v2.84h-2.74zM113.8 35.6h2.74v2.84h-2.74zM113.8 38.2h2.74v2.84h-2.74zM116.3 38.2h2.74v2.84h-2.74zM116.3 40.7h2.74v2.84h-2.74zM118.7 43.3h2.74v2.84h-2.74zM121.2 45.8h2.74v2.84h-2.74zM121.2 48.3h2.74v2.84h-2.74zM123.6 50.9h2.74v2.84h-2.74zM126.0 53.4h2.74v2.84h-2.74zM126.0 56.0h2.74v2.84h-2.74zM128.5 56.0h2.74v2.84h-2.74zM128.5 58.5h2.74v2.84h-2.74z"/><path fill="#6cebe4" d="M43.0 25.5h2.74v2.84h-2.74zM45.4 28.0h2.74v2.84h-2.74zM47.8 30.6h2.74v2.84h-2.74zM47.8 33.1h2.74v2.84h-2.74zM50.3 33.1h2.74v2.84h-2.74zM50.3 35.6h2.74v2.84h-2.74zM52.7 38.2h2.74v2.84h-2.74zM55.2 40.7h2.74v2.84h-2.74zM55.2 43.3h2.74v2.84h-2.74zM57.6 45.8h2.74v2.84h-2.74zM60.1 48.3h2.74v2.84h-2.74zM60.1 50.9h2.74v2.84h-2.74zM62.5 50.9h2.74v2.84h-2.74zM62.5 53.4h2.74v2.84h-2.74zM64.9 56.0h2.74v2.84h-2.74zM67.4 58.5h2.74v2.84h-2.74zM67.4 61.0h2.74v2.84h-2.74zM69.8 63.6h2.74v2.84h-2.74zM72.3 66.1h2.74v2.84h-2.74zM72.3 68.7h2.74v2.84h-2.74zM74.7 68.7h2.74v2.84h-2.74zM74.7 71.2h2.74v2.84h-2.74zM77.2 73.7h2.74v2.84h-2.74zM79.6 76.3h2.74v2.84h-2.74zM79.6 78.8h2.74v2.84h-2.74zM82.1 81.4h2.74v2.84h-2.74zM84.5 83.9h2.74v2.84h-2.74zM84.5 86.4h2.74v2.84h-2.74zM86.9 86.4h2.74v2.84h-2.74zM86.9 89.0h2.74v2.84h-2.74zM89.4 91.5h2.74v2.84h-2.74zM91.8 94.1h2.74v2.84h-2.74zM91.8 96.6h2.74v2.84h-2.74zM94.3 99.1h2.74v2.84h-2.74zM96.7 101.7h2.74v2.84h-2.74zM96.7 104.2h2.74v2.84h-2.74zM99.2 104.2h2.74v2.84h-2.74zM99.2 106.8h2.74v2.84h-2.74zM101.6 109.3h2.74v2.84h-2.74zM104.1 111.8h2.74v2.84h-2.74zM104.1 114.4h2.74v2.84h-2.74zM106.5 116.9h2.74v2.84h-2.74z"/><path fill="#71eee2" d="M45.4 25.5h2.74v2.84h-2.74zM47.8 25.5h2.74v2.84h-2.74zM47.8 28.0h2.74v2.84h-2.74zM50.3 30.6h2.74v2.84h-2.74zM52.7 33.1h2.74v2.84h-2.74zM52.7 35.6h2.74v2.84h-2.74zM55.2 38.2h2.74v2.84h-2.74zM57.6 40.7h2.74v2.84h-2.74zM57.6 43.3h2.74v2.84h-2.74zM60.1 43.3h2.74v2.84h-2.74zM60.1 45.8h2.74v2.84h-2.74zM62.5 48.3h2.74v2.84h-2.74zM64.9 50.9h2.74v2.84h-2.74zM64.9 53.4h2.74v2.84h-2.74zM67.4 56.0h2.74v2.84h-2.74zM69.8 58.5h2.74v2.84h-2.74zM69.8 61.0h2.74v2.84h-2.74zM72.3 61.0h2.74v2.84h-2.74zM72.3 63.6h2.74v2.84h-2.74zM74.7 66.1h2.74v2.84h-2.74zM77.2 68.7h2.74v2.84h-2.74zM77.2 71.2h2.74v2.84h-2.74zM79.6 73.7h2.74v2.84h-2.74zM82.1 76.3h2.74v2.84h-2.74zM82.1 78.8h2.74v2.84h-2.74zM84.5 78.8h2.74v2.84h-2.74zM84.5 81.4h2.74v2.84h-2.74zM86.9 83.9h2.74v2.84h-2.74zM89.4 86.4h2.74v2.84h-2.74zM89.4 89.0h2.74v2.84h-2.74zM91.8 91.5h2.74v2.84h-2.74zM94.3 94.1h2.74v2.84h-2.74zM94.3 96.6h2.74v2.84h-2.74zM96.7 96.6h2.74v2.84h-2.74zM96.7 99.1h2.74v2.84h-2.74zM99.2 101.7h2.74v2.84h-2.74zM101.6 104.2h2.74v2.84h-2.74zM101.6 106.8h2.74v2.84h-2.74zM104.1 109.3h2.74v2.84h-2.74zM106.5 111.8h2.74v2.84h-2.74zM106.5 114.4h2.74v2.84h-2.74z"/><path fill="#d6eeaa" d="M108.9 25.5h2.74v2.84h-2.74zM111.4 28.0h2.74v2.84h-2.74zM111.4 30.6h2.74v2.84h-2.74zM113.8 30.6h2.74v2.84h-2.74zM113.8 33.1h2.74v2.84h-2.74zM116.3 35.6h2.74v2.84h-2.74zM118.7 38.2h2.74v2.84h-2.74zM118.7 40.7h2.74v2.84h-2.74zM121.2 43.3h2.74v2.84h-2.74zM123.6 45.8h2.74v2.84h-2.74zM123.6 48.3h2.74v2.84h-2.74zM126.0 48.3h2.74v2.84h-2.74zM126.0 50.9h2.74v2.84h-2.74zM128.5 53.4h2.74v2.84h-2.74z"/><path fill="#daeba7" d="M111.4 25.5h2.74v2.84h-2.74zM116.3 33.1h2.74v2.84h-2.74zM118.7 33.1h2.74v2.84h-2.74zM118.7 35.6h2.74v2.84h-2.74zM121.2 38.2h2.74v2.84h-2.74zM121.2 40.7h2.74v2.84h-2.74zM123.6 40.7h2.74v2.84h-2.74zM123.6 43.3h2.74v2.84h-2.74zM128.5 48.3h2.74v2.84h-2.74zM128.5 50.9h2.74v2.84h-2.74z"/><path fill="#5ee0e9" d="M38.1 28.0h2.74v2.84h-2.74zM38.1 30.6h2.74v2.84h-2.74zM40.5 33.1h2.74v2.84h-2.74zM43.0 35.6h2.74v2.84h-2.74zM43.0 38.2h2.74v2.84h-2.74zM45.4 38.2h2.74v2.84h-2.74zM45.4 40.7h2.74v2.84h-2.74zM47.8 43.3h2.74v2.84h-2.74zM50.3 45.8h2.74v2.84h-2.74zM50.3 48.3h2.74v2.84h-2.74zM52.7 50.9h2.74v2.84h-2.74zM55.2 53.4h2.74v2.84h-2.74zM55.2 56.0h2.74v2.84h-2.74zM57.6 56.0h2.74v2.84h-2.74zM57.6 58.5h2.74v2.84h-2.74zM60.1 61.0h2.74v2.84h-2.74zM62.5 63.6h2.74v2.84h-2.74zM62.5 66.1h2.74v2.84h-2.74zM64.9 68.7h2.74v2.84h-2.74zM67.4 71.2h2.74v2.84h-2.74zM67.4 73.7h2.74v2.84h-2.74zM69.8 73.7h2.74v2.84h-2.74zM69.8 76.3h2.74v2.84h-2.74zM72.3 78.8h2.74v2.84h-2.74zM72.3 81.4h2.74v2.84h-2.74zM74.7 81.4h2.74v2.84h-2.74zM74.7 83.9h2.74v2.84h-2.74zM77.2 86.4h2.74v2.84h-2.74zM79.6 89.0h2.74v2.84h-2.74zM79.6 91.5h2.74v2.84h-2.74zM82.1 94.1h2.74v2.84h-2.74zM84.5 96.6h2.74v2.84h-2.74zM84.5 99.1h2.74v2.84h-2.74zM86.9 99.1h2.74v2.84h-2.74zM86.9 101.7h2.74v2.84h-2.74zM89.4 104.2h2.74v2.84h-2.74zM91.8 106.8h2.74v2.84h-2.74zM91.8 109.3h2.74v2.84h-2.74zM94.3 111.8h2.74v2.84h-2.74zM96.7 114.4h2.74v2.84h-2.74zM96.7 116.9h2.74v2.84h-2.74zM99.2 116.9h2.74v2.84h-2.74zM99.2 119.5h2.74v2.84h-2.74zM101.6 122.0h2.74v2.84h-2.74z"/><path fill="#63e4e8" d="M40.5 28.0h2.74v2.84h-2.74zM40.5 30.6h2.74v2.84h-2.74zM43.0 30.6h2.74v2.84h-2.74zM43.0 33.1h2.74v2.84h-2.74zM45.4 35.6h2.74v2.84h-2.74zM47.8 38.2h2.74v2.84h-2.74zM47.8 40.7h2.74v2.84h-2.74zM50.3 43.3h2.74v2.84h-2.74zM52.7 45.8h2.74v2.84h-2.74zM52.7 48.3h2.74v2.84h-2.74zM55.2 48.3h2.74v2.84h-2.74zM55.2 50.9h2.74v2.84h-2.74zM57.6 53.4h2.74v2.84h-2.74zM60.1 56.0h2.74v2.84h-2.74zM60.1 58.5h2.74v2.84h-2.74zM62.5 61.0h2.74v2.84h-2.74zM64.9 63.6h2.74v2.84h-2.74zM64.9 66.1h2.74v2.84h-2.74zM67.4 66.1h2.74v2.84h-2.74zM67.4 68.7h2.74v2.84h-2.74zM69.8 71.2h2.74v2.84h-2.74zM72.3 73.7h2.74v2.84h-2.74zM72.3 76.3h2.74v2.84h-2.74zM74.7 78.8h2.74v2.84h-2.74zM77.2 81.4h2.74v2.84h-2.74zM77.2 83.9h2.74v2.84h-2.74zM79.6 83.9h2.74v2.84h-2.74zM79.6 86.4h2.74v2.84h-2.74zM82.1 89.0h2.74v2.84h-2.74zM82.1 91.5h2.74v2.84h-2.74zM84.5 91.5h2.74v2.84h-2.74zM84.5 94.1h2.74v2.84h-2.74zM86.9 96.6h2.74v2.84h-2.74zM89.4 99.1h2.74v2.84h-2.74zM89.4 101.7h2.74v2.84h-2.74zM91.8 101.7h2.74v2.84h-2.74zM91.8 104.2h2.74v2.84h-2.74zM94.3 106.8h2.74v2.84h-2.74zM94.3 109.3h2.74v2.84h-2.74zM96.7 109.3h2.74v2.84h-2.74zM96.7 111.8h2.74v2.84h-2.74zM99.2 114.4h2.74v2.84h-2.74zM101.6 116.9h2.74v2.84h-2.74zM101.6 119.5h2.74v2.84h-2.74zM104.1 122.0h2.74v2.84h-2.74z"/><path fill="#68e8e6" d="M43.0 28.0h2.74v2.84h-2.74zM45.4 30.6h2.74v2.84h-2.74zM45.4 33.1h2.74v2.84h-2.74zM47.8 35.6h2.74v2.84h-2.74zM50.3 38.2h2.74v2.84h-2.74zM50.3 40.7h2.74v2.84h-2.74zM52.7 40.7h2.74v2.84h-2.74zM52.7 43.3h2.74v2.84h-2.74zM55.2 45.8h2.74v2.84h-2.74zM57.6 48.3h2.74v2.84h-2.74zM57.6 50.9h2.74v2.84h-2.74zM60.1 53.4h2.74v2.84h-2.74zM62.5 56.0h2.74v2.84h-2.74zM62.5 58.5h2.74v2.84h-2.74zM64.9 58.5h2.74v2.84h-2.74zM64.9 61.0h2.74v2.84h-2.74zM67.4 63.6h2.74v2.84h-2.74zM69.8 66.1h2.74v2.84h-2.74zM69.8 68.7h2.74v2.84h-2.74zM72.3 71.2h2.74v2.84h-2.74zM74.7 73.7h2.74v2.84h-2.74zM74.7 76.3h2.74v2.84h-2.74zM77.2 76.3h2.74v2.84h-2.74zM77.2 78.8h2.74v2.84h-2.74zM79.6 81.4h2.74v2.84h-2.74zM82.1 83.9h2.74v2.84h-2.74zM82.1 86.4h2.74v2.84h-2.74zM84.5 89.0h2.74v2.84h-2.74zM86.9 91.5h2.74v2.84h-2.74zM86.9 94.1h2.74v2.84h-2.74zM89.4 94.1h2.74v2.84h-2.74zM89.4 96.6h2.74v2.84h-2.74zM91.8 99.1h2.74v2.84h-2.74zM94.3 101.7h2.74v2.84h-2.74zM94.3 104.2h2.74v2.84h-2.74zM96.7 106.8h2.74v2.84h-2.74zM99.2 109.3h2.74v2.84h-2.74zM99.2 111.8h2.74v2.84h-2.74zM101.6 111.8h2.74v2.84h-2.74zM101.6 114.4h2.74v2.84h-2.74zM104.1 116.9h2.74v2.84h-2.74zM104.1 119.5h2.74v2.84h-2.74z"/><path fill="#5adceb" d="M35.6 30.6h2.74v2.84h-2.74zM38.1 33.1h2.74v2.84h-2.74zM40.5 35.6h2.74v2.84h-2.74zM40.5 38.2h2.74v2.84h-2.74zM43.0 40.7h2.74v2.84h-2.74zM45.4 43.3h2.74v2.84h-2.74zM45.4 45.8h2.74v2.84h-2.74zM47.8 45.8h2.74v2.84h-2.74zM47.8 48.3h2.74v2.84h-2.74zM50.3 50.9h2.74v2.84h-2.74zM50.3 53.4h2.74v2.84h-2.74zM52.7 53.4h2.74v2.84h-2.74zM52.7 56.0h2.74v2.84h-2.74zM55.2 58.5h2.74v2.84h-2.74zM57.6 61.0h2.74v2.84h-2.74zM57.6 63.6h2.74v2.84h-2.74zM60.1 63.6h2.74v2.84h-2.74zM60.1 66.1h2.74v2.84h-2.74zM62.5 68.7h2.74v2.84h-2.74zM62.5 71.2h2.74v2.84h-2.74zM64.9 71.2h2.74v2.84h-2.74zM64.9 73.7h2.74v2.84h-2.74zM67.4 76.3h2.74v2.84h-2.74zM69.8 78.8h2.74v2.84h-2.74zM69.8 81.4h2.74v2.84h-2.74zM72.3 83.9h2.74v2.84h-2.74zM74.7 86.4h2.74v2.84h-2.74zM74.7 89.0h2.74v2.84h-2.74zM77.2 89.0h2.74v2.84h-2.74zM77.2 91.5h2.74v2.84h-2.74zM79.6 94.1h2.74v2.84h-2.74zM82.1 96.6h2.74v2.84h-2.74zM82.1 99.1h2.74v2.84h-2.74zM84.5 101.7h2.74v2.84h-2.74zM86.9 104.2h2.74v2.84h-2.74zM86.9 106.8h2.74v2.84h-2.74zM89.4 106.8h2.74v2.84h-2.74zM89.4 109.3h2.74v2.84h-2.74zM91.8 111.8h2.74v2.84h-2.74zM94.3 114.4h2.74v2.84h-2.74zM94.3 116.9h2.74v2.84h-2.74zM96.7 119.5h2.74v2.84h-2.74zM99.2 122.0h2.74v2.84h-2.74z"/><path fill="#51d3ee" d="M33.2 33.1h2.74v2.84h-2.74zM33.2 35.6h2.74v2.84h-2.74zM35.6 38.2h2.74v2.84h-2.74zM38.1 40.7h2.74v2.84h-2.74zM38.1 43.3h2.74v2.84h-2.74zM40.5 45.8h2.74v2.84h-2.74zM43.0 48.3h2.74v2.84h-2.74zM43.0 50.9h2.74v2.84h-2.74zM45.4 50.9h2.74v2.84h-2.74zM45.4 53.4h2.74v2.84h-2.74zM47.8 56.0h2.74v2.84h-2.74zM50.3 58.5h2.74v2.84h-2.74zM50.3 61.0h2.74v2.84h-2.74zM52.7 63.6h2.74v2.84h-2.74zM55.2 66.1h2.74v2.84h-2.74zM55.2 68.7h2.74v2.84h-2.74zM57.6 68.7h2.74v2.84h-2.74zM57.6 71.2h2.74v2.84h-2.74zM60.1 73.7h2.74v2.84h-2.74zM62.5 76.3h2.74v2.84h-2.74zM62.5 78.8h2.74v2.84h-2.74zM64.9 81.4h2.74v2.84h-2.74zM67.4 83.9h2.74v2.84h-2.74zM67.4 86.4h2.74v2.84h-2.74zM69.8 86.4h2.74v2.84h-2.74zM69.8 89.0h2.74v2.84h-2.74zM72.3 91.5h2.74v2.84h-2.74zM74.7 94.1h2.74v2.84h-2.74zM74.7 96.6h2.74v2.84h-2.74zM77.2 99.1h2.74v2.84h-2.74zM79.6 101.7h2.74v2.84h-2.74zM79.6 104.2h2.74v2.84h-2.74zM82.1 104.2h2.74v2.84h-2.74zM82.1 106.8h2.74v2.84h-2.74zM84.5 109.3h2.74v2.84h-2.74zM86.9 111.8h2.74v2.84h-2.74zM86.9 114.4h2.74v2.84h-2.74zM89.4 116.9h2.74v2.84h-2.74zM91.8 119.5h2.74v2.84h-2.74zM91.8 122.0h2.74v2.84h-2.74zM94.3 122.0h2.74v2.84h-2.74z"/><path fill="#55d8ed" d="M35.6 33.1h2.74v2.84h-2.74zM35.6 35.6h2.74v2.84h-2.74zM38.1 35.6h2.74v2.84h-2.74zM38.1 38.2h2.74v2.84h-2.74zM40.5 40.7h2.74v2.84h-2.74zM40.5 43.3h2.74v2.84h-2.74zM43.0 43.3h2.74v2.84h-2.74zM43.0 45.8h2.74v2.84h-2.74zM45.4 48.3h2.74v2.84h-2.74zM47.8 50.9h2.74v2.84h-2.74zM47.8 53.4h2.74v2.84h-2.74zM50.3 56.0h2.74v2.84h-2.74zM52.7 58.5h2.74v2.84h-2.74zM52.7 61.0h2.74v2.84h-2.74zM55.2 61.0h2.74v2.84h-2.74zM55.2 63.6h2.74v2.84h-2.74zM57.6 66.1h2.74v2.84h-2.74zM60.1 68.7h2.74v2.84h-2.74zM60.1 71.2h2.74v2.84h-2.74zM62.5 73.7h2.74v2.84h-2.74zM64.9 76.3h2.74v2.84h-2.74zM64.9 78.8h2.74v2.84h-2.74zM67.4 78.8h2.74v2.84h-2.74zM67.4 81.4h2.74v2.84h-2.74zM69.8 83.9h2.74v2.84h-2.74zM72.3 86.4h2.74v2.84h-2.74zM72.3 89.0h2.74v2.84h-2.74zM74.7 91.5h2.74v2.84h-2.74zM77.2 94.1h2.74v2.84h-2.74zM77.2 96.6h2.74v2.84h-2.74zM79.6 96.6h2.74v2.84h-2.74zM79.6 99.1h2.74v2.84h-2.74zM82.1 101.7h2.74v2.84h-2.74zM84.5 104.2h2.74v2.84h-2.74zM84.5 106.8h2.74v2.84h-2.74zM86.9 109.3h2.74v2.84h-2.74zM89.4 111.8h2.74v2.84h-2.74zM89.4 114.4h2.74v2.84h-2.74zM91.8 114.4h2.74v2.84h-2.74zM91.8 116.9h2.74v2.84h-2.74zM94.3 119.5h2.74v2.84h-2.74zM96.7 122.0h2.74v2.84h-2.74z"/><path fill="#4ccef0" d="M30.7 35.6h2.74v2.84h-2.74zM33.2 38.2h2.74v2.84h-2.74zM33.2 40.7h2.74v2.84h-2.74zM35.6 40.7h2.74v2.84h-2.74zM35.6 43.3h2.74v2.84h-2.74zM38.1 45.8h2.74v2.84h-2.74zM40.5 48.3h2.74v2.84h-2.74zM40.5 50.9h2.74v2.84h-2.74zM43.0 53.4h2.74v2.84h-2.74zM45.4 56.0h2.74v2.84h-2.74zM45.4 58.5h2.74v2.84h-2.74zM47.8 58.5h2.74v2.84h-2.74zM47.8 61.0h2.74v2.84h-2.74zM50.3 63.6h2.74v2.84h-2.74zM52.7 66.1h2.74v2.84h-2.74zM52.7 68.7h2.74v2.84h-2.74zM55.2 71.2h2.74v2.84h-2.74zM57.6 73.7h2.74v2.84h-2.74zM57.6 76.3h2.74v2.84h-2.74zM60.1 76.3h2.74v2.84h-2.74zM60.1 78.8h2.74v2.84h-2.74zM62.5 81.4h2.74v2.84h-2.74zM64.9 83.9h2.74v2.84h-2.74zM64.9 86.4h2.74v2.84h-2.74zM67.4 89.0h2.74v2.84h-2.74zM69.8 91.5h2.74v2.84h-2.74zM69.8 94.1h2.74v2.84h-2.74zM72.3 94.1h2.74v2.84h-2.74zM72.3 96.6h2.74v2.84h-2.74zM74.7 99.1h2.74v2.84h-2.74zM77.2 101.7h2.74v2.84h-2.74zM77.2 104.2h2.74v2.84h-2.74zM79.6 106.8h2.74v2.84h-2.74zM82.1 109.3h2.74v2.84h-2.74zM82.1 111.8h2.74v2.84h-2.74zM84.5 111.8h2.74v2.84h-2.74zM84.5 114.4h2.74v2.84h-2.74zM86.9 116.9h2.74v2.84h-2.74zM89.4 119.5h2.74v2.84h-2.74zM89.4 122.0h2.74v2.84h-2.74z"/><path fill="#47c9f1" d="M30.7 38.2h2.74v2.84h-2.74zM30.7 40.7h2.74v2.84h-2.74zM33.2 43.3h2.74v2.84h-2.74zM35.6 45.8h2.74v2.84h-2.74zM35.6 48.3h2.74v2.84h-2.74zM38.1 48.3h2.74v2.84h-2.74zM38.1 50.9h2.74v2.84h-2.74zM40.5 53.4h2.74v2.84h-2.74zM43.0 56.0h2.74v2.84h-2.74zM43.0 58.5h2.74v2.84h-2.74zM45.4 61.0h2.74v2.84h-2.74zM47.8 63.6h2.74v2.84h-2.74zM47.8 66.1h2.74v2.84h-2.74zM50.3 66.1h2.74v2.84h-2.74zM50.3 68.7h2.74v2.84h-2.74zM52.7 71.2h2.74v2.84h-2.74zM55.2 73.7h2.74v2.84h-2.74zM55.2 76.3h2.74v2.84h-2.74zM57.6 78.8h2.74v2.84h-2.74zM60.1 81.4h2.74v2.84h-2.74zM60.1 83.9h2.74v2.84h-2.74zM62.5 83.9h2.74v2.84h-2.74zM62.5 86.4h2.74v2.84h-2.74zM64.9 89.0h2.74v2.84h-2.74zM67.4 91.5h2.74v2.84h-2.74zM67.4 94.1h2.74v2.84h-2.74zM69.8 96.6h2.74v2.84h-2.74zM72.3 99.1h2.74v2.84h-2.74zM72.3 101.7h2.74v2.84h-2.74zM74.7 101.7h2.74v2.84h-2.74zM74.7 104.2h2.74v2.84h-2.74zM77.2 106.8h2.74v2.84h-2.74zM77.2 109.3h2.74v2.84h-2.74zM79.6 109.3h2.74v2.84h-2.74zM79.6 111.8h2.74v2.84h-2.74zM82.1 114.4h2.74v2.84h-2.74zM84.5 116.9h2.74v2.84h-2.74zM84.5 119.5h2.74v2.84h-2.74zM86.9 119.5h2.74v2.84h-2.74zM86.9 122.0h2.74v2.84h-2.74z"/><path fill="#dfe8a4" d="M123.6 38.2h2.74v2.84h-2.74z"/><path fill="#4cc4f2" d="M30.7 43.3h2.74v2.84h-2.74zM33.2 45.8h2.74v2.84h-2.74zM33.2 48.3h2.74v2.84h-2.74zM35.6 50.9h2.74v2.84h-2.74zM38.1 53.4h2.74v2.84h-2.74zM38.1 56.0h2.74v2.84h-2.74zM40.5 56.0h2.74v2.84h-2.74zM40.5 58.5h2.74v2.84h-2.74zM43.0 61.0h2.74v2.84h-2.74zM45.4 63.6h2.74v2.84h-2.74zM45.4 66.1h2.74v2.84h-2.74zM47.8 68.7h2.74v2.84h-2.74zM50.3 71.2h2.74v2.84h-2.74zM50.3 73.7h2.74v2.84h-2.74zM52.7 73.7h2.74v2.84h-2.74zM52.7 76.3h2.74v2.84h-2.74zM55.2 78.8h2.74v2.84h-2.74zM57.6 81.4h2.74v2.84h-2.74zM57.6 83.9h2.74v2.84h-2.74zM60.1 86.4h2.74v2.84h-2.74zM62.5 89.0h2.74v2.84h-2.74zM62.5 91.5h2.74v2.84h-2.74zM64.9 91.5h2.74v2.84h-2.74zM64.9 94.1h2.74v2.84h-2.74zM67.4 96.6h2.74v2.84h-2.74zM67.4 99.1h2.74v2.84h-2.74zM69.8 99.1h2.74v2.84h-2.74zM69.8 101.7h2.74v2.84h-2.74zM72.3 104.2h2.74v2.84h-2.74zM74.7 106.8h2.74v2.84h-2.74zM74.7 109.3h2.74v2.84h-2.74zM77.2 111.8h2.74v2.84h-2.74zM79.6 114.4h2.74v2.84h-2.74zM79.6 116.9h2.74v2.84h-2.74zM82.1 116.9h2.74v2.84h-2.74zM82.1 119.5h2.74v2.84h-2.74zM84.5 122.0h2.74v2.84h-2.74z"/><path fill="#51bff4" d="M33.2 50.9h2.74v2.84h-2.74zM35.6 53.4h2.74v2.84h-2.74zM38.1 58.5h2.74v2.84h-2.74zM40.5 61.0h2.74v2.84h-2.74zM40.5 63.6h2.74v2.84h-2.74zM43.0 63.6h2.74v2.84h-2.74zM43.0 66.1h2.74v2.84h-2.74zM45.4 68.7h2.74v2.84h-2.74zM45.4 71.2h2.74v2.84h-2.74zM47.8 71.2h2.74v2.84h-2.74zM47.8 73.7h2.74v2.84h-2.74zM50.3 76.3h2.74v2.84h-2.74zM52.7 78.8h2.74v2.84h-2.74zM52.7 81.4h2.74v2.84h-2.74zM55.2 81.4h2.74v2.84h-2.74zM55.2 83.9h2.74v2.84h-2.74zM57.6 86.4h2.74v2.84h-2.74zM57.6 89.0h2.74v2.84h-2.74zM60.1 89.0h2.74v2.84h-2.74zM60.1 91.5h2.74v2.84h-2.74zM62.5 94.1h2.74v2.84h-2.74zM64.9 96.6h2.74v2.84h-2.74zM64.9 99.1h2.74v2.84h-2.74zM67.4 101.7h2.74v2.84h-2.74zM69.8 104.2h2.74v2.84h-2.74zM69.8 106.8h2.74v2.84h-2.74zM72.3 106.8h2.74v2.84h-2.74zM72.3 109.3h2.74v2.84h-2.74zM74.7 111.8h2.74v2.84h-2.74zM77.2 114.4h2.74v2.84h-2.74zM77.2 116.9h2.74v2.84h-2.74zM79.6 119.5h2.74v2.84h-2.74zM82.1 122.0h2.74v2.84h-2.74zM82.1 124.5h2.74v2.84h-2.74zM84.5 124.5h2.74v2.84h-2.74z"/><path fill="#55b9f5" d="M38.1 61.0h2.74v2.84h-2.74zM50.3 78.8h2.74v2.84h-2.74zM52.7 83.9h2.74v2.84h-2.74zM55.2 86.4h2.74v2.84h-2.74zM55.2 89.0h2.74v2.84h-2.74zM57.6 91.5h2.74v2.84h-2.74zM60.1 94.1h2.74v2.84h-2.74zM60.1 96.6h2.74v2.84h-2.74zM62.5 96.6h2.74v2.84h-2.74zM62.5 99.1h2.74v2.84h-2.74zM64.9 101.7h2.74v2.84h-2.74zM67.4 104.2h2.74v2.84h-2.74zM67.4 106.8h2.74v2.84h-2.74zM69.8 109.3h2.74v2.84h-2.74zM72.3 111.8h2.74v2.84h-2.74zM72.3 114.4h2.74v2.84h-2.74zM74.7 114.4h2.74v2.84h-2.74zM74.7 116.9h2.74v2.84h-2.74zM77.2 119.5h2.74v2.84h-2.74zM79.6 122.0h2.74v2.84h-2.74zM79.6 124.5h2.74v2.84h-2.74z"/><path fill="#5ab3f6" d="M52.7 86.4h2.74v2.84h-2.74zM52.7 89.0h2.74v2.84h-2.74zM55.2 91.5h2.74v2.84h-2.74zM57.6 94.1h2.74v2.84h-2.74zM62.5 101.7h2.74v2.84h-2.74zM62.5 104.2h2.74v2.84h-2.74zM64.9 104.2h2.74v2.84h-2.74zM64.9 106.8h2.74v2.84h-2.74zM67.4 109.3h2.74v2.84h-2.74zM69.8 111.8h2.74v2.84h-2.74zM69.8 114.4h2.74v2.84h-2.74zM72.3 116.9h2.74v2.84h-2.74zM74.7 119.5h2.74v2.84h-2.74zM74.7 122.0h2.74v2.84h-2.74zM77.2 122.0h2.74v2.84h-2.74zM77.2 124.5h2.74v2.84h-2.74z"/><path fill="#5eadf7" d="M62.5 106.8h2.74v2.84h-2.74zM64.9 109.3h2.74v2.84h-2.74zM64.9 111.8h2.74v2.84h-2.74zM67.4 111.8h2.74v2.84h-2.74zM67.4 114.4h2.74v2.84h-2.74zM69.8 116.9h2.74v2.84h-2.74zM72.3 119.5h2.74v2.84h-2.74zM72.3 122.0h2.74v2.84h-2.74z"/><path fill="#63a7f8" d="M62.5 109.3h2.74v2.84h-2.74zM62.5 111.8h2.74v2.84h-2.74zM64.9 114.4h2.74v2.84h-2.74zM67.4 116.9h2.74v2.84h-2.74zM67.4 119.5h2.74v2.84h-2.74zM69.8 119.5h2.74v2.84h-2.74zM69.8 122.0h2.74v2.84h-2.74z"/><path fill="#68a1f9" d="M62.5 114.4h2.74v2.84h-2.74zM62.5 116.9h2.74v2.84h-2.74zM64.9 116.9h2.74v2.84h-2.74zM64.9 119.5h2.74v2.84h-2.74zM67.4 122.0h2.74v2.84h-2.74z"/></g>
<path d="M40.60 46.60C40.42 50.82 41.03 58.10 41.70 62.00C42.37 65.90 43.32 67.50 44.60 70.00C45.88 72.50 47.68 75.00 49.40 77.00C51.12 79.00 52.87 79.83 54.90 82.00C56.93 84.17 59.80 87.03 61.60 90.00C63.40 92.97 64.75 96.53 65.70 99.80C66.65 103.07 66.35 106.20 67.30 109.60C68.25 113.00 69.35 117.75 71.40 120.20C73.45 122.65 76.87 123.75 79.60 124.30C82.33 124.85 85.20 124.05 87.80 123.50C90.40 122.95 93.28 122.50 95.20 121.00C97.12 119.50 98.35 116.95 99.30 114.50C100.25 112.05 99.53 108.75 100.90 106.30C102.27 103.85 105.32 101.72 107.50 99.80C109.68 97.88 112.23 96.72 114.00 94.80C115.77 92.88 116.85 91.10 118.10 88.30C119.35 85.50 120.48 82.02 121.50 78.00C122.52 73.98 123.93 68.70 124.20 64.20C124.47 59.70 123.83 55.22 123.10 51.00C122.37 46.78 121.82 42.20 119.80 38.90C117.78 35.60 115.03 33.28 111.00 31.20C106.97 29.12 101.10 27.50 95.60 26.40C90.10 25.30 83.87 24.53 78.00 24.60C72.13 24.67 65.17 25.88 60.40 26.80C55.63 27.72 52.33 28.45 49.40 30.10C46.47 31.75 44.27 33.95 42.80 36.70C41.33 39.45 40.78 42.38 40.60 46.60Z" fill="none" stroke="#fff" stroke-width="0.75" stroke-opacity="0.95"/>
<path d="M51.60 46.60C51.42 50.45 51.97 57.77 52.70 62.00C53.43 66.23 54.62 69.17 56.00 72.00C57.38 74.83 59.17 76.83 61.00 79.00C62.83 81.17 64.72 82.92 67.00 85.00C69.28 87.08 71.40 89.57 74.70 91.50C78.00 93.43 82.58 95.87 86.80 96.60C91.02 97.33 95.97 96.57 100.00 95.90C104.03 95.23 108.07 94.25 111.00 92.60C113.93 90.95 116.10 88.93 117.60 86.00C119.10 83.07 119.68 79.33 120.00 75.00C120.32 70.67 120.27 64.17 119.50 60.00C118.73 55.83 116.82 52.97 115.40 50.00C113.98 47.03 113.20 44.78 111.00 42.20C108.80 39.62 105.87 36.52 102.20 34.50C98.53 32.48 93.77 30.83 89.00 30.10C84.23 29.37 78.37 29.55 73.60 30.10C68.83 30.65 63.70 31.93 60.40 33.40C57.10 34.87 55.27 36.70 53.80 38.90C52.33 41.10 51.78 42.75 51.60 46.60Z" fill="none" stroke="#fff" stroke-width="0.75" stroke-opacity="0.95"/>
<path d="M65.30 45.70C65.68 43.33 67.07 40.53 68.80 38.80C70.53 37.07 72.65 36.07 75.70 35.30C78.75 34.53 83.28 34.00 87.10 34.20C90.92 34.40 95.53 34.97 98.60 36.50C101.67 38.03 103.58 40.73 105.50 43.40C107.42 46.07 109.15 49.07 110.10 52.50C111.05 55.93 111.20 60.55 111.20 64.00C111.20 67.45 110.87 70.72 110.10 73.20C109.33 75.68 108.52 77.67 106.60 78.90C104.68 80.13 101.85 80.70 98.60 80.60C95.35 80.50 90.53 79.83 87.10 78.30C83.67 76.77 80.67 74.08 78.00 71.40C75.33 68.72 73.02 65.27 71.10 62.20C69.18 59.13 67.47 55.75 66.50 53.00C65.53 50.25 64.92 48.07 65.30 45.70Z" fill="none" stroke="#fff" stroke-width="0.75" stroke-opacity="0.95"/>
<g clip-path="url(#cb)"><g shape-rendering="crispEdges"><path fill="#47c9f1" d="M253.7 30.6h2.74v2.84h-2.74zM248.8 35.6h2.74v2.84h-2.74zM246.4 38.2h2.74v2.84h-2.74zM246.4 40.7h2.74v2.84h-2.74zM243.9 43.3h2.74v2.84h-2.74zM241.5 45.8h2.74v2.84h-2.74zM241.5 48.3h2.74v2.84h-2.74zM239.0 50.9h2.74v2.84h-2.74zM239.0 53.4h2.74v2.84h-2.74zM236.6 56.0h2.74v2.84h-2.74zM239.0 56.0h2.74v2.84h-2.74zM236.6 58.5h2.74v2.84h-2.74zM236.6 61.0h2.74v2.84h-2.74zM236.6 63.6h2.74v2.84h-2.74zM236.6 66.1h2.74v2.84h-2.74zM236.6 68.7h2.74v2.84h-2.74zM236.6 71.2h2.74v2.84h-2.74zM236.6 73.7h2.74v2.84h-2.74zM236.6 76.3h2.74v2.84h-2.74zM236.6 78.8h2.74v2.84h-2.74zM236.6 81.4h2.74v2.84h-2.74zM239.0 83.9h2.74v2.84h-2.74zM239.0 86.4h2.74v2.84h-2.74zM239.0 89.0h2.74v2.84h-2.74zM241.5 91.5h2.74v2.84h-2.74zM241.5 94.1h2.74v2.84h-2.74zM243.9 94.1h2.74v2.84h-2.74zM243.9 96.6h2.74v2.84h-2.74zM246.4 99.1h2.74v2.84h-2.74zM248.8 101.7h2.74v2.84h-2.74zM248.8 104.2h2.74v2.84h-2.74zM251.2 104.2h2.74v2.84h-2.74zM251.2 106.8h2.74v2.84h-2.74zM253.7 109.3h2.74v2.84h-2.74zM256.1 111.8h2.74v2.84h-2.74zM258.6 114.4h2.74v2.84h-2.74zM263.5 116.9h2.74v2.84h-2.74z"/><path fill="#4ccef0" d="M256.1 30.6h2.74v2.84h-2.74zM253.7 33.1h2.74v2.84h-2.74zM251.2 35.6h2.74v2.84h-2.74zM248.8 38.2h2.74v2.84h-2.74zM248.8 40.7h2.74v2.84h-2.74zM246.4 43.3h2.74v2.84h-2.74zM243.9 45.8h2.74v2.84h-2.74zM243.9 48.3h2.74v2.84h-2.74zM241.5 50.9h2.74v2.84h-2.74zM241.5 53.4h2.74v2.84h-2.74zM241.5 56.0h2.74v2.84h-2.74zM239.0 58.5h2.74v2.84h-2.74zM239.0 61.0h2.74v2.84h-2.74zM239.0 63.6h2.74v2.84h-2.74zM239.0 66.1h2.74v2.84h-2.74zM239.0 68.7h2.74v2.84h-2.74zM239.0 71.2h2.74v2.84h-2.74zM239.0 73.7h2.74v2.84h-2.74zM239.0 76.3h2.74v2.84h-2.74zM239.0 78.8h2.74v2.84h-2.74zM239.0 81.4h2.74v2.84h-2.74zM241.5 83.9h2.74v2.84h-2.74zM241.5 86.4h2.74v2.84h-2.74zM241.5 89.0h2.74v2.84h-2.74zM243.9 89.0h2.74v2.84h-2.74zM243.9 91.5h2.74v2.84h-2.74zM246.4 94.1h2.74v2.84h-2.74zM246.4 96.6h2.74v2.84h-2.74zM248.8 99.1h2.74v2.84h-2.74zM251.2 101.7h2.74v2.84h-2.74zM253.7 104.2h2.74v2.84h-2.74zM253.7 106.8h2.74v2.84h-2.74zM256.1 109.3h2.74v2.84h-2.74zM258.6 111.8h2.74v2.84h-2.74zM261.0 114.4h2.74v2.84h-2.74zM263.5 114.4h2.74v2.84h-2.74zM265.9 116.9h2.74v2.84h-2.74z"/><path fill="#51d3ee" d="M256.1 33.1h2.74v2.84h-2.74zM253.7 35.6h2.74v2.84h-2.74zM251.2 38.2h2.74v2.84h-2.74zM253.7 38.2h2.74v2.84h-2.74zM251.2 40.7h2.74v2.84h-2.74zM248.8 43.3h2.74v2.84h-2.74zM246.4 45.8h2.74v2.84h-2.74zM248.8 45.8h2.74v2.84h-2.74zM246.4 48.3h2.74v2.84h-2.74zM243.9 50.9h2.74v2.84h-2.74zM243.9 53.4h2.74v2.84h-2.74zM243.9 56.0h2.74v2.84h-2.74zM241.5 58.5h2.74v2.84h-2.74zM241.5 61.0h2.74v2.84h-2.74zM241.5 63.6h2.74v2.84h-2.74zM241.5 66.1h2.74v2.84h-2.74zM241.5 68.7h2.74v2.84h-2.74zM241.5 71.2h2.74v2.84h-2.74zM241.5 73.7h2.74v2.84h-2.74zM241.5 76.3h2.74v2.84h-2.74zM241.5 78.8h2.74v2.84h-2.74zM241.5 81.4h2.74v2.84h-2.74zM243.9 83.9h2.74v2.84h-2.74zM243.9 86.4h2.74v2.84h-2.74zM246.4 89.0h2.74v2.84h-2.74zM246.4 91.5h2.74v2.84h-2.74zM248.8 94.1h2.74v2.84h-2.74zM248.8 96.6h2.74v2.84h-2.74zM251.2 99.1h2.74v2.84h-2.74zM253.7 101.7h2.74v2.84h-2.74zM256.1 104.2h2.74v2.84h-2.74zM256.1 106.8h2.74v2.84h-2.74zM258.6 106.8h2.74v2.84h-2.74zM258.6 109.3h2.74v2.84h-2.74zM261.0 109.3h2.74v2.84h-2.74zM261.0 111.8h2.74v2.84h-2.74zM263.5 111.8h2.74v2.84h-2.74zM265.9 114.4h2.74v2.84h-2.74z"/><path fill="#55d8ed" d="M258.6 33.1h2.74v2.84h-2.74zM256.1 35.6h2.74v2.84h-2.74zM256.1 38.2h2.74v2.84h-2.74zM253.7 40.7h2.74v2.84h-2.74zM251.2 43.3h2.74v2.84h-2.74zM251.2 45.8h2.74v2.84h-2.74zM248.8 48.3h2.74v2.84h-2.74zM246.4 50.9h2.74v2.84h-2.74zM248.8 50.9h2.74v2.84h-2.74zM246.4 53.4h2.74v2.84h-2.74zM246.4 56.0h2.74v2.84h-2.74zM243.9 58.5h2.74v2.84h-2.74zM243.9 61.0h2.74v2.84h-2.74zM243.9 63.6h2.74v2.84h-2.74zM243.9 66.1h2.74v2.84h-2.74zM243.9 68.7h2.74v2.84h-2.74zM243.9 71.2h2.74v2.84h-2.74zM243.9 73.7h2.74v2.84h-2.74zM243.9 76.3h2.74v2.84h-2.74zM243.9 78.8h2.74v2.84h-2.74zM243.9 81.4h2.74v2.84h-2.74zM246.4 81.4h2.74v2.84h-2.74zM246.4 83.9h2.74v2.84h-2.74zM246.4 86.4h2.74v2.84h-2.74zM248.8 89.0h2.74v2.84h-2.74zM248.8 91.5h2.74v2.84h-2.74zM251.2 94.1h2.74v2.84h-2.74zM251.2 96.6h2.74v2.84h-2.74zM253.7 99.1h2.74v2.84h-2.74zM256.1 101.7h2.74v2.84h-2.74zM258.6 104.2h2.74v2.84h-2.74zM261.0 106.8h2.74v2.84h-2.74zM263.5 109.3h2.74v2.84h-2.74zM265.9 111.8h2.74v2.84h-2.74z"/><path fill="#5adceb" d="M261.0 33.1h2.74v2.84h-2.74zM258.6 35.6h2.74v2.84h-2.74zM261.0 35.6h2.74v2.84h-2.74zM258.6 38.2h2.74v2.84h-2.74zM256.1 40.7h2.74v2.84h-2.74zM253.7 43.3h2.74v2.84h-2.74zM253.7 45.8h2.74v2.84h-2.74zM251.2 48.3h2.74v2.84h-2.74zM251.2 50.9h2.74v2.84h-2.74zM248.8 53.4h2.74v2.84h-2.74zM248.8 56.0h2.74v2.84h-2.74zM246.4 58.5h2.74v2.84h-2.74zM248.8 58.5h2.74v2.84h-2.74zM246.4 61.0h2.74v2.84h-2.74zM246.4 63.6h2.74v2.84h-2.74zM246.4 66.1h2.74v2.84h-2.74zM246.4 68.7h2.74v2.84h-2.74zM246.4 71.2h2.74v2.84h-2.74zM246.4 73.7h2.74v2.84h-2.74zM246.4 76.3h2.74v2.84h-2.74zM246.4 78.8h2.74v2.84h-2.74zM248.8 81.4h2.74v2.84h-2.74zM248.8 83.9h2.74v2.84h-2.74zM248.8 86.4h2.74v2.84h-2.74zM251.2 89.0h2.74v2.84h-2.74zM251.2 91.5h2.74v2.84h-2.74zM253.7 94.1h2.74v2.84h-2.74zM253.7 96.6h2.74v2.84h-2.74zM256.1 96.6h2.74v2.84h-2.74zM256.1 99.1h2.74v2.84h-2.74zM258.6 101.7h2.74v2.84h-2.74zM261.0 104.2h2.74v2.84h-2.74zM263.5 106.8h2.74v2.84h-2.74zM265.9 109.3h2.74v2.84h-2.74zM268.4 111.8h2.74v2.84h-2.74z"/><path fill="#5ee0e9" d="M263.5 33.1h2.74v2.84h-2.74zM263.5 35.6h2.74v2.84h-2.74zM261.0 38.2h2.74v2.84h-2.74zM258.6 40.7h2.74v2.84h-2.74zM256.1 43.3h2.74v2.84h-2.74zM256.1 45.8h2.74v2.84h-2.74zM253.7 48.3h2.74v2.84h-2.74zM253.7 50.9h2.74v2.84h-2.74zM251.2 53.4h2.74v2.84h-2.74zM251.2 56.0h2.74v2.84h-2.74zM251.2 58.5h2.74v2.84h-2.74zM248.8 61.0h2.74v2.84h-2.74zM248.8 63.6h2.74v2.84h-2.74zM248.8 66.1h2.74v2.84h-2.74zM248.8 68.7h2.74v2.84h-2.74zM248.8 71.2h2.74v2.84h-2.74zM248.8 73.7h2.74v2.84h-2.74zM248.8 76.3h2.74v2.84h-2.74zM248.8 78.8h2.74v2.84h-2.74zM251.2 81.4h2.74v2.84h-2.74zM251.2 83.9h2.74v2.84h-2.74zM251.2 86.4h2.74v2.84h-2.74zM253.7 89.0h2.74v2.84h-2.74zM253.7 91.5h2.74v2.84h-2.74zM256.1 94.1h2.74v2.84h-2.74zM258.6 96.6h2.74v2.84h-2.74zM258.6 99.1h2.74v2.84h-2.74zM261.0 101.7h2.74v2.84h-2.74zM263.5 104.2h2.74v2.84h-2.74zM265.9 106.8h2.74v2.84h-2.74zM268.4 109.3h2.74v2.84h-2.74z"/><path fill="#5eadf7" d="M236.6 35.6h2.74v2.84h-2.74zM231.7 40.7h2.74v2.84h-2.74zM229.2 43.3h2.74v2.84h-2.74zM231.7 43.3h2.74v2.84h-2.74zM229.2 45.8h2.74v2.84h-2.74zM226.8 48.3h2.74v2.84h-2.74zM226.8 50.9h2.74v2.84h-2.74zM224.4 53.4h2.74v2.84h-2.74zM224.4 56.0h2.74v2.84h-2.74zM224.4 58.5h2.74v2.84h-2.74zM221.9 61.0h2.74v2.84h-2.74zM224.4 61.0h2.74v2.84h-2.74zM221.9 63.6h2.74v2.84h-2.74zM221.9 66.1h2.74v2.84h-2.74zM221.9 68.7h2.74v2.84h-2.74zM221.9 71.2h2.74v2.84h-2.74zM221.9 73.7h2.74v2.84h-2.74zM221.9 76.3h2.74v2.84h-2.74zM224.4 78.8h2.74v2.84h-2.74zM224.4 81.4h2.74v2.84h-2.74zM224.4 83.9h2.74v2.84h-2.74zM224.4 86.4h2.74v2.84h-2.74zM226.8 86.4h2.74v2.84h-2.74zM226.8 89.0h2.74v2.84h-2.74zM226.8 91.5h2.74v2.84h-2.74zM229.2 91.5h2.74v2.84h-2.74zM229.2 94.1h2.74v2.84h-2.74zM231.7 96.6h2.74v2.84h-2.74zM231.7 99.1h2.74v2.84h-2.74zM234.1 101.7h2.74v2.84h-2.74zM236.6 104.2h2.74v2.84h-2.74zM239.0 106.8h2.74v2.84h-2.74zM241.5 109.3h2.74v2.84h-2.74zM243.9 111.8h2.74v2.84h-2.74zM246.4 114.4h2.74v2.84h-2.74zM248.8 116.9h2.74v2.84h-2.74zM251.2 119.5h2.74v2.84h-2.74zM256.1 122.0h2.74v2.84h-2.74zM258.6 124.5h2.74v2.84h-2.74zM261.0 127.1h2.74v2.84h-2.74z"/><path fill="#5ab3f6" d="M239.0 35.6h2.74v2.84h-2.74zM236.6 38.2h2.74v2.84h-2.74zM234.1 40.7h2.74v2.84h-2.74zM234.1 43.3h2.74v2.84h-2.74zM231.7 45.8h2.74v2.84h-2.74zM229.2 48.3h2.74v2.84h-2.74zM229.2 50.9h2.74v2.84h-2.74zM226.8 53.4h2.74v2.84h-2.74zM229.2 53.4h2.74v2.84h-2.74zM226.8 56.0h2.74v2.84h-2.74zM226.8 58.5h2.74v2.84h-2.74zM226.8 61.0h2.74v2.84h-2.74zM224.4 63.6h2.74v2.84h-2.74zM224.4 66.1h2.74v2.84h-2.74zM224.4 68.7h2.74v2.84h-2.74zM224.4 71.2h2.74v2.84h-2.74zM224.4 73.7h2.74v2.84h-2.74zM224.4 76.3h2.74v2.84h-2.74zM226.8 78.8h2.74v2.84h-2.74zM226.8 81.4h2.74v2.84h-2.74zM226.8 83.9h2.74v2.84h-2.74zM229.2 86.4h2.74v2.84h-2.74zM229.2 89.0h2.74v2.84h-2.74zM231.7 91.5h2.74v2.84h-2.74zM231.7 94.1h2.74v2.84h-2.74zM234.1 96.6h2.74v2.84h-2.74zM234.1 99.1h2.74v2.84h-2.74zM236.6 99.1h2.74v2.84h-2.74zM236.6 101.7h2.74v2.84h-2.74zM239.0 104.2h2.74v2.84h-2.74zM241.5 106.8h2.74v2.84h-2.74zM243.9 109.3h2.74v2.84h-2.74zM246.4 111.8h2.74v2.84h-2.74zM248.8 114.4h2.74v2.84h-2.74zM251.2 116.9h2.74v2.84h-2.74zM253.7 119.5h2.74v2.84h-2.74zM258.6 122.0h2.74v2.84h-2.74zM261.0 124.5h2.74v2.84h-2.74zM263.5 127.1h2.74v2.84h-2.74z"/><path fill="#55b9f5" d="M241.5 35.6h2.74v2.84h-2.74zM239.0 38.2h2.74v2.84h-2.74zM236.6 40.7h2.74v2.84h-2.74zM236.6 43.3h2.74v2.84h-2.74zM234.1 45.8h2.74v2.84h-2.74zM231.7 48.3h2.74v2.84h-2.74zM234.1 48.3h2.74v2.84h-2.74zM231.7 50.9h2.74v2.84h-2.74zM231.7 53.4h2.74v2.84h-2.74zM229.2 56.0h2.74v2.84h-2.74zM229.2 58.5h2.74v2.84h-2.74zM229.2 61.0h2.74v2.84h-2.74zM226.8 63.6h2.74v2.84h-2.74zM229.2 63.6h2.74v2.84h-2.74zM226.8 66.1h2.74v2.84h-2.74zM226.8 68.7h2.74v2.84h-2.74zM226.8 71.2h2.74v2.84h-2.74zM226.8 73.7h2.74v2.84h-2.74zM226.8 76.3h2.74v2.84h-2.74zM229.2 76.3h2.74v2.84h-2.74zM229.2 78.8h2.74v2.84h-2.74zM229.2 81.4h2.74v2.84h-2.74zM229.2 83.9h2.74v2.84h-2.74zM231.7 86.4h2.74v2.84h-2.74zM231.7 89.0h2.74v2.84h-2.74zM234.1 91.5h2.74v2.84h-2.74zM234.1 94.1h2.74v2.84h-2.74zM236.6 96.6h2.74v2.84h-2.74zM239.0 99.1h2.74v2.84h-2.74zM239.0 101.7h2.74v2.84h-2.74zM241.5 104.2h2.74v2.84h-2.74zM243.9 106.8h2.74v2.84h-2.74zM246.4 109.3h2.74v2.84h-2.74zM248.8 111.8h2.74v2.84h-2.74zM251.2 114.4h2.74v2.84h-2.74zM253.7 116.9h2.74v2.84h-2.74zM256.1 119.5h2.74v2.84h-2.74zM258.6 119.5h2.74v2.84h-2.74zM261.0 122.0h2.74v2.84h-2.74zM263.5 124.5h2.74v2.84h-2.74z"/><path fill="#51bff4" d="M243.9 35.6h2.74v2.84h-2.74zM241.5 38.2h2.74v2.84h-2.74zM239.0 40.7h2.74v2.84h-2.74zM239.0 43.3h2.74v2.84h-2.74zM236.6 45.8h2.74v2.84h-2.74zM236.6 48.3h2.74v2.84h-2.74zM234.1 50.9h2.74v2.84h-2.74zM234.1 53.4h2.74v2.84h-2.74zM231.7 56.0h2.74v2.84h-2.74zM231.7 58.5h2.74v2.84h-2.74zM231.7 61.0h2.74v2.84h-2.74zM231.7 63.6h2.74v2.84h-2.74zM229.2 66.1h2.74v2.84h-2.74zM229.2 68.7h2.74v2.84h-2.74zM229.2 71.2h2.74v2.84h-2.74zM229.2 73.7h2.74v2.84h-2.74zM231.7 73.7h2.74v2.84h-2.74zM231.7 76.3h2.74v2.84h-2.74zM231.7 78.8h2.74v2.84h-2.74zM231.7 81.4h2.74v2.84h-2.74zM231.7 83.9h2.74v2.84h-2.74zM234.1 86.4h2.74v2.84h-2.74zM234.1 89.0h2.74v2.84h-2.74zM236.6 91.5h2.74v2.84h-2.74zM236.6 94.1h2.74v2.84h-2.74zM239.0 96.6h2.74v2.84h-2.74zM241.5 99.1h2.74v2.84h-2.74zM241.5 101.7h2.74v2.84h-2.74zM243.9 101.7h2.74v2.84h-2.74zM243.9 104.2h2.74v2.84h-2.74zM246.4 106.8h2.74v2.84h-2.74zM248.8 109.3h2.74v2.84h-2.74zM251.2 111.8h2.74v2.84h-2.74zM253.7 114.4h2.74v2.84h-2.74zM256.1 116.9h2.74v2.84h-2.74zM261.0 119.5h2.74v2.84h-2.74zM263.5 122.0h2.74v2.84h-2.74z"/><path fill="#4cc4f2" d="M246.4 35.6h2.74v2.84h-2.74zM243.9 38.2h2.74v2.84h-2.74zM241.5 40.7h2.74v2.84h-2.74zM243.9 40.7h2.74v2.84h-2.74zM241.5 43.3h2.74v2.84h-2.74zM239.0 45.8h2.74v2.84h-2.74zM239.0 48.3h2.74v2.84h-2.74zM236.6 50.9h2.74v2.84h-2.74zM236.6 53.4h2.74v2.84h-2.74zM234.1 56.0h2.74v2.84h-2.74zM234.1 58.5h2.74v2.84h-2.74zM234.1 61.0h2.74v2.84h-2.74zM234.1 63.6h2.74v2.84h-2.74zM231.7 66.1h2.74v2.84h-2.74zM234.1 66.1h2.74v2.84h-2.74zM231.7 68.7h2.74v2.84h-2.74zM234.1 68.7h2.74v2.84h-2.74zM231.7 71.2h2.74v2.84h-2.74zM234.1 71.2h2.74v2.84h-2.74zM234.1 73.7h2.74v2.84h-2.74zM234.1 76.3h2.74v2.84h-2.74zM234.1 78.8h2.74v2.84h-2.74zM234.1 81.4h2.74v2.84h-2.74zM234.1 83.9h2.74v2.84h-2.74zM236.6 83.9h2.74v2.84h-2.74zM236.6 86.4h2.74v2.84h-2.74zM236.6 89.0h2.74v2.84h-2.74zM239.0 91.5h2.74v2.84h-2.74zM239.0 94.1h2.74v2.84h-2.74zM241.5 96.6h2.74v2.84h-2.74zM243.9 99.1h2.74v2.84h-2.74zM246.4 101.7h2.74v2.84h-2.74zM246.4 104.2h2.74v2.84h-2.74zM248.8 106.8h2.74v2.84h-2.74zM251.2 109.3h2.74v2.84h-2.74zM253.7 111.8h2.74v2.84h-2.74zM256.1 114.4h2.74v2.84h-2.74zM258.6 116.9h2.74v2.84h-2.74zM261.0 116.9h2.74v2.84h-2.74zM263.5 119.5h2.74v2.84h-2.74z"/><path fill="#63e4e8" d="M265.9 35.6h2.74v2.84h-2.74zM263.5 38.2h2.74v2.84h-2.74zM261.0 40.7h2.74v2.84h-2.74zM258.6 43.3h2.74v2.84h-2.74zM258.6 45.8h2.74v2.84h-2.74zM256.1 48.3h2.74v2.84h-2.74zM256.1 50.9h2.74v2.84h-2.74zM253.7 53.4h2.74v2.84h-2.74zM253.7 56.0h2.74v2.84h-2.74zM253.7 58.5h2.74v2.84h-2.74zM251.2 61.0h2.74v2.84h-2.74zM251.2 63.6h2.74v2.84h-2.74zM251.2 66.1h2.74v2.84h-2.74zM251.2 68.7h2.74v2.84h-2.74zM251.2 71.2h2.74v2.84h-2.74zM251.2 73.7h2.74v2.84h-2.74zM251.2 76.3h2.74v2.84h-2.74zM251.2 78.8h2.74v2.84h-2.74zM253.7 78.8h2.74v2.84h-2.74zM253.7 81.4h2.74v2.84h-2.74zM253.7 83.9h2.74v2.84h-2.74zM253.7 86.4h2.74v2.84h-2.74zM256.1 86.4h2.74v2.84h-2.74zM256.1 89.0h2.74v2.84h-2.74zM256.1 91.5h2.74v2.84h-2.74zM258.6 91.5h2.74v2.84h-2.74zM258.6 94.1h2.74v2.84h-2.74zM261.0 96.6h2.74v2.84h-2.74zM261.0 99.1h2.74v2.84h-2.74zM263.5 101.7h2.74v2.84h-2.74zM265.9 104.2h2.74v2.84h-2.74zM268.4 106.8h2.74v2.84h-2.74zM270.8 109.3h2.74v2.84h-2.74z"/><path fill="#68e8e6" d="M268.4 35.6h2.74v2.84h-2.74zM265.9 38.2h2.74v2.84h-2.74zM263.5 40.7h2.74v2.84h-2.74zM261.0 43.3h2.74v2.84h-2.74zM263.5 43.3h2.74v2.84h-2.74zM261.0 45.8h2.74v2.84h-2.74zM258.6 48.3h2.74v2.84h-2.74zM258.6 50.9h2.74v2.84h-2.74zM256.1 53.4h2.74v2.84h-2.74zM256.1 56.0h2.74v2.84h-2.74zM256.1 58.5h2.74v2.84h-2.74zM253.7 61.0h2.74v2.84h-2.74zM256.1 61.0h2.74v2.84h-2.74zM253.7 63.6h2.74v2.84h-2.74zM253.7 66.1h2.74v2.84h-2.74zM253.7 68.7h2.74v2.84h-2.74zM253.7 71.2h2.74v2.84h-2.74zM253.7 73.7h2.74v2.84h-2.74zM253.7 76.3h2.74v2.84h-2.74zM256.1 78.8h2.74v2.84h-2.74zM256.1 81.4h2.74v2.84h-2.74zM256.1 83.9h2.74v2.84h-2.74zM258.6 86.4h2.74v2.84h-2.74zM258.6 89.0h2.74v2.84h-2.74zM261.0 91.5h2.74v2.84h-2.74zM261.0 94.1h2.74v2.84h-2.74zM263.5 96.6h2.74v2.84h-2.74zM263.5 99.1h2.74v2.84h-2.74zM265.9 99.1h2.74v2.84h-2.74zM265.9 101.7h2.74v2.84h-2.74zM268.4 104.2h2.74v2.84h-2.74zM270.8 106.8h2.74v2.84h-2.74zM273.2 109.3h2.74v2.84h-2.74z"/><path fill="#6cebe4" d="M268.4 38.2h2.74v2.84h-2.74zM265.9 40.7h2.74v2.84h-2.74zM265.9 43.3h2.74v2.84h-2.74zM263.5 45.8h2.74v2.84h-2.74zM261.0 48.3h2.74v2.84h-2.74zM261.0 50.9h2.74v2.84h-2.74zM258.6 53.4h2.74v2.84h-2.74zM261.0 53.4h2.74v2.84h-2.74zM258.6 56.0h2.74v2.84h-2.74zM258.6 58.5h2.74v2.84h-2.74zM258.6 61.0h2.74v2.84h-2.74zM256.1 63.6h2.74v2.84h-2.74zM256.1 66.1h2.74v2.84h-2.74zM256.1 68.7h2.74v2.84h-2.74zM256.1 71.2h2.74v2.84h-2.74zM256.1 73.7h2.74v2.84h-2.74zM256.1 76.3h2.74v2.84h-2.74zM258.6 76.3h2.74v2.84h-2.74zM258.6 78.8h2.74v2.84h-2.74zM258.6 81.4h2.74v2.84h-2.74zM258.6 83.9h2.74v2.84h-2.74zM261.0 86.4h2.74v2.84h-2.74zM261.0 89.0h2.74v2.84h-2.74zM263.5 91.5h2.74v2.84h-2.74zM263.5 94.1h2.74v2.84h-2.74zM265.9 96.6h2.74v2.84h-2.74zM268.4 99.1h2.74v2.84h-2.74zM268.4 101.7h2.74v2.84h-2.74zM270.8 104.2h2.74v2.84h-2.74zM273.2 106.8h2.74v2.84h-2.74z"/><path fill="#71eee2" d="M270.8 38.2h2.74v2.84h-2.74zM268.4 40.7h2.74v2.84h-2.74zM268.4 43.3h2.74v2.84h-2.74zM265.9 45.8h2.74v2.84h-2.74zM263.5 48.3h2.74v2.84h-2.74zM265.9 48.3h2.74v2.84h-2.74zM263.5 50.9h2.74v2.84h-2.74zM263.5 53.4h2.74v2.84h-2.74zM261.0 56.0h2.74v2.84h-2.74zM261.0 58.5h2.74v2.84h-2.74zM261.0 61.0h2.74v2.84h-2.74zM258.6 63.6h2.74v2.84h-2.74zM261.0 63.6h2.74v2.84h-2.74zM258.6 66.1h2.74v2.84h-2.74zM258.6 68.7h2.74v2.84h-2.74zM258.6 71.2h2.74v2.84h-2.74zM258.6 73.7h2.74v2.84h-2.74zM261.0 73.7h2.74v2.84h-2.74zM261.0 76.3h2.74v2.84h-2.74zM261.0 78.8h2.74v2.84h-2.74zM261.0 81.4h2.74v2.84h-2.74zM261.0 83.9h2.74v2.84h-2.74zM263.5 86.4h2.74v2.84h-2.74zM263.5 89.0h2.74v2.84h-2.74zM265.9 91.5h2.74v2.84h-2.74zM265.9 94.1h2.74v2.84h-2.74zM268.4 96.6h2.74v2.84h-2.74zM270.8 99.1h2.74v2.84h-2.74zM270.8 101.7h2.74v2.84h-2.74zM273.2 104.2h2.74v2.84h-2.74z"/><path fill="#75f1e0" d="M273.2 38.2h2.74v2.84h-2.74zM270.8 40.7h2.74v2.84h-2.74zM273.2 40.7h2.74v2.84h-2.74zM270.8 43.3h2.74v2.84h-2.74zM268.4 45.8h2.74v2.84h-2.74zM268.4 48.3h2.74v2.84h-2.74zM265.9 50.9h2.74v2.84h-2.74zM265.9 53.4h2.74v2.84h-2.74zM263.5 56.0h2.74v2.84h-2.74zM263.5 58.5h2.74v2.84h-2.74zM263.5 61.0h2.74v2.84h-2.74zM263.5 63.6h2.74v2.84h-2.74zM261.0 66.1h2.74v2.84h-2.74zM263.5 66.1h2.74v2.84h-2.74zM261.0 68.7h2.74v2.84h-2.74zM263.5 68.7h2.74v2.84h-2.74zM261.0 71.2h2.74v2.84h-2.74zM263.5 71.2h2.74v2.84h-2.74zM263.5 73.7h2.74v2.84h-2.74zM263.5 76.3h2.74v2.84h-2.74zM263.5 78.8h2.74v2.84h-2.74zM263.5 81.4h2.74v2.84h-2.74zM263.5 83.9h2.74v2.84h-2.74zM265.9 83.9h2.74v2.84h-2.74zM265.9 86.4h2.74v2.84h-2.74zM265.9 89.0h2.74v2.84h-2.74zM268.4 91.5h2.74v2.84h-2.74zM268.4 94.1h2.74v2.84h-2.74zM270.8 96.6h2.74v2.84h-2.74zM273.2 99.1h2.74v2.84h-2.74zM273.2 101.7h2.74v2.84h-2.74zM275.7 101.7h2.74v2.84h-2.74z"/><path fill="#63a7f8" d="M229.2 40.7h2.74v2.84h-2.74zM226.8 43.3h2.74v2.84h-2.74zM226.8 45.8h2.74v2.84h-2.74zM224.4 48.3h2.74v2.84h-2.74zM224.4 50.9h2.74v2.84h-2.74zM221.9 53.4h2.74v2.84h-2.74zM221.9 56.0h2.74v2.84h-2.74zM221.9 58.5h2.74v2.84h-2.74zM219.5 61.0h2.74v2.84h-2.74zM219.5 63.6h2.74v2.84h-2.74zM219.5 66.1h2.74v2.84h-2.74zM219.5 68.7h2.74v2.84h-2.74zM219.5 71.2h2.74v2.84h-2.74zM219.5 73.7h2.74v2.84h-2.74zM219.5 76.3h2.74v2.84h-2.74zM219.5 78.8h2.74v2.84h-2.74zM221.9 78.8h2.74v2.84h-2.74zM221.9 81.4h2.74v2.84h-2.74zM221.9 83.9h2.74v2.84h-2.74zM221.9 86.4h2.74v2.84h-2.74zM224.4 89.0h2.74v2.84h-2.74zM224.4 91.5h2.74v2.84h-2.74zM226.8 94.1h2.74v2.84h-2.74zM229.2 96.6h2.74v2.84h-2.74zM229.2 99.1h2.74v2.84h-2.74zM231.7 101.7h2.74v2.84h-2.74zM234.1 104.2h2.74v2.84h-2.74zM236.6 106.8h2.74v2.84h-2.74zM239.0 109.3h2.74v2.84h-2.74zM241.5 111.8h2.74v2.84h-2.74zM243.9 114.4h2.74v2.84h-2.74zM246.4 116.9h2.74v2.84h-2.74zM248.8 119.5h2.74v2.84h-2.74zM251.2 122.0h2.74v2.84h-2.74zM253.7 122.0h2.74v2.84h-2.74zM258.6 127.1h2.74v2.84h-2.74z"/><path fill="#68a1f9" d="M224.4 43.3h2.74v2.84h-2.74zM224.4 45.8h2.74v2.84h-2.74zM221.9 48.3h2.74v2.84h-2.74zM221.9 50.9h2.74v2.84h-2.74zM219.5 53.4h2.74v2.84h-2.74zM219.5 56.0h2.74v2.84h-2.74zM217.0 58.5h2.74v2.84h-2.74zM219.5 58.5h2.74v2.84h-2.74zM217.0 61.0h2.74v2.84h-2.74zM217.0 63.6h2.74v2.84h-2.74zM217.0 66.1h2.74v2.84h-2.74zM217.0 68.7h2.74v2.84h-2.74zM217.0 71.2h2.74v2.84h-2.74zM217.0 73.7h2.74v2.84h-2.74zM217.0 76.3h2.74v2.84h-2.74zM217.0 78.8h2.74v2.84h-2.74zM219.5 81.4h2.74v2.84h-2.74zM219.5 83.9h2.74v2.84h-2.74zM219.5 86.4h2.74v2.84h-2.74zM221.9 89.0h2.74v2.84h-2.74zM221.9 91.5h2.74v2.84h-2.74zM224.4 94.1h2.74v2.84h-2.74zM226.8 96.6h2.74v2.84h-2.74zM226.8 99.1h2.74v2.84h-2.74zM229.2 101.7h2.74v2.84h-2.74zM231.7 104.2h2.74v2.84h-2.74zM234.1 106.8h2.74v2.84h-2.74zM236.6 109.3h2.74v2.84h-2.74zM239.0 111.8h2.74v2.84h-2.74zM241.5 114.4h2.74v2.84h-2.74zM243.9 116.9h2.74v2.84h-2.74zM246.4 119.5h2.74v2.84h-2.74zM248.8 122.0h2.74v2.84h-2.74z"/><path fill="#7af4de" d="M273.2 43.3h2.74v2.84h-2.74zM270.8 45.8h2.74v2.84h-2.74zM270.8 48.3h2.74v2.84h-2.74zM268.4 50.9h2.74v2.84h-2.74zM268.4 53.4h2.74v2.84h-2.74zM265.9 56.0h2.74v2.84h-2.74zM265.9 58.5h2.74v2.84h-2.74zM265.9 61.0h2.74v2.84h-2.74zM265.9 63.6h2.74v2.84h-2.74zM265.9 66.1h2.74v2.84h-2.74zM265.9 68.7h2.74v2.84h-2.74zM265.9 71.2h2.74v2.84h-2.74zM265.9 73.7h2.74v2.84h-2.74zM265.9 76.3h2.74v2.84h-2.74zM265.9 78.8h2.74v2.84h-2.74zM265.9 81.4h2.74v2.84h-2.74zM268.4 83.9h2.74v2.84h-2.74zM268.4 86.4h2.74v2.84h-2.74zM268.4 89.0h2.74v2.84h-2.74zM270.8 91.5h2.74v2.84h-2.74zM270.8 94.1h2.74v2.84h-2.74zM273.2 94.1h2.74v2.84h-2.74zM273.2 96.6h2.74v2.84h-2.74zM275.7 99.1h2.74v2.84h-2.74z"/><path fill="#7ef6dc" d="M275.7 43.3h2.74v2.84h-2.74zM273.2 45.8h2.74v2.84h-2.74zM273.2 48.3h2.74v2.84h-2.74zM270.8 50.9h2.74v2.84h-2.74zM270.8 53.4h2.74v2.84h-2.74zM268.4 56.0h2.74v2.84h-2.74zM270.8 56.0h2.74v2.84h-2.74zM268.4 58.5h2.74v2.84h-2.74zM268.4 61.0h2.74v2.84h-2.74zM268.4 63.6h2.74v2.84h-2.74zM268.4 66.1h2.74v2.84h-2.74zM268.4 68.7h2.74v2.84h-2.74zM268.4 71.2h2.74v2.84h-2.74zM268.4 73.7h2.74v2.84h-2.74zM268.4 76.3h2.74v2.84h-2.74zM268.4 78.8h2.74v2.84h-2.74zM268.4 81.4h2.74v2.84h-2.74zM270.8 83.9h2.74v2.84h-2.74zM270.8 86.4h2.74v2.84h-2.74zM270.8 89.0h2.74v2.84h-2.74zM273.2 89.0h2.74v2.84h-2.74zM273.2 91.5h2.74v2.84h-2.74zM275.7 94.1h2.74v2.84h-2.74zM275.7 96.6h2.74v2.84h-2.74z"/><path fill="#6c9bfa" d="M221.9 45.8h2.74v2.84h-2.74zM219.5 48.3h2.74v2.84h-2.74zM219.5 50.9h2.74v2.84h-2.74zM217.0 53.4h2.74v2.84h-2.74zM217.0 56.0h2.74v2.84h-2.74zM214.6 58.5h2.74v2.84h-2.74zM214.6 61.0h2.74v2.84h-2.74zM214.6 63.6h2.74v2.84h-2.74zM214.6 66.1h2.74v2.84h-2.74zM214.6 68.7h2.74v2.84h-2.74zM214.6 71.2h2.74v2.84h-2.74zM214.6 73.7h2.74v2.84h-2.74zM214.6 76.3h2.74v2.84h-2.74zM214.6 78.8h2.74v2.84h-2.74zM217.0 81.4h2.74v2.84h-2.74zM217.0 83.9h2.74v2.84h-2.74zM217.0 86.4h2.74v2.84h-2.74zM219.5 89.0h2.74v2.84h-2.74zM219.5 91.5h2.74v2.84h-2.74zM221.9 94.1h2.74v2.84h-2.74zM221.9 96.6h2.74v2.84h-2.74zM224.4 96.6h2.74v2.84h-2.74zM224.4 99.1h2.74v2.84h-2.74zM226.8 101.7h2.74v2.84h-2.74zM229.2 104.2h2.74v2.84h-2.74zM231.7 106.8h2.74v2.84h-2.74zM234.1 109.3h2.74v2.84h-2.74zM236.6 111.8h2.74v2.84h-2.74zM239.0 114.4h2.74v2.84h-2.74zM241.5 116.9h2.74v2.84h-2.74zM243.9 119.5h2.74v2.84h-2.74zM246.4 122.0h2.74v2.84h-2.74z"/><path fill="#83f8da" d="M275.7 45.8h2.74v2.84h-2.74zM275.7 48.3h2.74v2.84h-2.74zM273.2 50.9h2.74v2.84h-2.74zM273.2 53.4h2.74v2.84h-2.74zM273.2 56.0h2.74v2.84h-2.74zM270.8 58.5h2.74v2.84h-2.74zM270.8 61.0h2.74v2.84h-2.74zM270.8 63.6h2.74v2.84h-2.74zM270.8 66.1h2.74v2.84h-2.74zM270.8 68.7h2.74v2.84h-2.74zM270.8 71.2h2.74v2.84h-2.74zM270.8 73.7h2.74v2.84h-2.74zM270.8 76.3h2.74v2.84h-2.74zM270.8 78.8h2.74v2.84h-2.74zM270.8 81.4h2.74v2.84h-2.74zM273.2 83.9h2.74v2.84h-2.74zM273.2 86.4h2.74v2.84h-2.74zM275.7 89.0h2.74v2.84h-2.74zM275.7 91.5h2.74v2.84h-2.74zM278.1 94.1h2.74v2.84h-2.74zM278.1 96.6h2.74v2.84h-2.74z"/><path fill="#88fad8" d="M278.1 48.3h2.74v2.84h-2.74zM275.7 50.9h2.74v2.84h-2.74zM278.1 50.9h2.74v2.84h-2.74zM275.7 53.4h2.74v2.84h-2.74zM275.7 56.0h2.74v2.84h-2.74zM273.2 58.5h2.74v2.84h-2.74zM273.2 61.0h2.74v2.84h-2.74zM273.2 63.6h2.74v2.84h-2.74zM273.2 66.1h2.74v2.84h-2.74zM273.2 68.7h2.74v2.84h-2.74zM273.2 71.2h2.74v2.84h-2.74zM273.2 73.7h2.74v2.84h-2.74zM273.2 76.3h2.74v2.84h-2.74zM273.2 78.8h2.74v2.84h-2.74zM273.2 81.4h2.74v2.84h-2.74zM275.7 81.4h2.74v2.84h-2.74zM275.7 83.9h2.74v2.84h-2.74zM275.7 86.4h2.74v2.84h-2.74zM278.1 89.0h2.74v2.84h-2.74zM278.1 91.5h2.74v2.84h-2.74z"/><path fill="#7194fb" d="M214.6 53.4h2.74v2.84h-2.74zM214.6 56.0h2.74v2.84h-2.74zM212.1 58.5h2.74v2.84h-2.74zM212.1 61.0h2.74v2.84h-2.74zM212.1 63.6h2.74v2.84h-2.74zM212.1 66.1h2.74v2.84h-2.74zM212.1 68.7h2.74v2.84h-2.74zM212.1 71.2h2.74v2.84h-2.74zM212.1 73.7h2.74v2.84h-2.74zM212.1 76.3h2.74v2.84h-2.74zM212.1 78.8h2.74v2.84h-2.74zM212.1 81.4h2.74v2.84h-2.74zM214.6 81.4h2.74v2.84h-2.74zM214.6 83.9h2.74v2.84h-2.74zM214.6 86.4h2.74v2.84h-2.74zM217.0 89.0h2.74v2.84h-2.74zM217.0 91.5h2.74v2.84h-2.74zM219.5 94.1h2.74v2.84h-2.74zM221.9 99.1h2.74v2.84h-2.74zM224.4 101.7h2.74v2.84h-2.74zM226.8 104.2h2.74v2.84h-2.74zM229.2 106.8h2.74v2.84h-2.74zM229.2 109.3h2.74v2.84h-2.74zM231.7 109.3h2.74v2.84h-2.74zM231.7 111.8h2.74v2.84h-2.74zM234.1 111.8h2.74v2.84h-2.74zM236.6 114.4h2.74v2.84h-2.74zM239.0 116.9h2.74v2.84h-2.74zM241.5 119.5h2.74v2.84h-2.74z"/><path fill="#8cfbd5" d="M278.1 53.4h2.74v2.84h-2.74zM278.1 56.0h2.74v2.84h-2.74zM275.7 58.5h2.74v2.84h-2.74zM278.1 58.5h2.74v2.84h-2.74zM275.7 61.0h2.74v2.84h-2.74zM275.7 63.6h2.74v2.84h-2.74zM275.7 66.1h2.74v2.84h-2.74zM275.7 68.7h2.74v2.84h-2.74zM275.7 71.2h2.74v2.84h-2.74zM275.7 73.7h2.74v2.84h-2.74zM275.7 76.3h2.74v2.84h-2.74zM275.7 78.8h2.74v2.84h-2.74zM278.1 81.4h2.74v2.84h-2.74zM278.1 83.9h2.74v2.84h-2.74zM278.1 86.4h2.74v2.84h-2.74z"/><path fill="#91fdd3" d="M280.6 58.5h2.74v2.84h-2.74zM278.1 61.0h2.74v2.84h-2.74zM278.1 63.6h2.74v2.84h-2.74zM278.1 66.1h2.74v2.84h-2.74zM278.1 68.7h2.74v2.84h-2.74zM278.1 71.2h2.74v2.84h-2.74zM278.1 73.7h2.74v2.84h-2.74zM278.1 76.3h2.74v2.84h-2.74zM278.1 78.8h2.74v2.84h-2.74zM280.6 81.4h2.74v2.84h-2.74zM280.6 83.9h2.74v2.84h-2.74zM280.6 86.4h2.74v2.84h-2.74z"/><path fill="#95fed1" d="M283.0 58.5h2.74v2.84h-2.74zM280.6 61.0h2.74v2.84h-2.74zM280.6 63.6h2.74v2.84h-2.74zM280.6 66.1h2.74v2.84h-2.74zM280.6 68.7h2.74v2.84h-2.74zM280.6 71.2h2.74v2.84h-2.74zM280.6 73.7h2.74v2.84h-2.74zM280.6 76.3h2.74v2.84h-2.74zM280.6 78.8h2.74v2.84h-2.74zM283.0 78.8h2.74v2.84h-2.74zM283.0 81.4h2.74v2.84h-2.74zM283.0 83.9h2.74v2.84h-2.74zM283.0 86.4h2.74v2.84h-2.74z"/><path fill="#9afece" d="M283.0 61.0h2.74v2.84h-2.74zM283.0 63.6h2.74v2.84h-2.74zM283.0 66.1h2.74v2.84h-2.74zM283.0 68.7h2.74v2.84h-2.74zM283.0 71.2h2.74v2.84h-2.74zM283.0 73.7h2.74v2.84h-2.74zM283.0 76.3h2.74v2.84h-2.74z"/><path fill="#7e80fd" d="M204.8 73.7h2.74v2.84h-2.74zM204.8 76.3h2.74v2.84h-2.74z"/><path fill="#7a87fc" d="M207.3 73.7h2.74v2.84h-2.74zM207.3 76.3h2.74v2.84h-2.74z"/><path fill="#758efb" d="M209.7 73.7h2.74v2.84h-2.74zM209.7 76.3h2.74v2.84h-2.74zM212.1 83.9h2.74v2.84h-2.74zM212.1 86.4h2.74v2.84h-2.74zM214.6 89.0h2.74v2.84h-2.74zM214.6 91.5h2.74v2.84h-2.74zM221.9 101.7h2.74v2.84h-2.74zM224.4 104.2h2.74v2.84h-2.74zM224.4 106.8h2.74v2.84h-2.74zM226.8 106.8h2.74v2.84h-2.74zM229.2 111.8h2.74v2.84h-2.74zM234.1 114.4h2.74v2.84h-2.74zM239.0 119.5h2.74v2.84h-2.74z"/></g></g>
<path d="M218.90 78.00C218.73 74.73 219.27 69.43 220.00 66.40C220.73 63.37 222.02 62.37 223.30 59.80C224.58 57.23 225.68 53.75 227.70 51.00C229.72 48.25 232.65 45.32 235.40 43.30C238.15 41.28 241.27 39.88 244.20 38.90C247.13 37.92 250.07 37.22 253.00 37.40C255.93 37.58 259.05 38.83 261.80 40.00C264.55 41.17 267.30 42.57 269.50 44.40C271.70 46.23 273.35 48.07 275.00 51.00C276.65 53.93 278.48 57.50 279.40 62.00C280.32 66.50 280.68 72.90 280.50 78.00C280.32 83.10 279.40 88.33 278.30 92.60C277.20 96.87 275.92 100.48 273.90 103.60C271.88 106.72 268.58 108.98 266.20 111.30C263.82 113.62 262.30 116.88 259.60 117.50C256.90 118.12 253.27 116.25 250.00 115.00C246.73 113.75 243.00 112.00 240.00 110.00C237.00 108.00 234.33 105.67 232.00 103.00C229.67 100.33 227.83 96.83 226.00 94.00C224.17 91.17 222.18 88.67 221.00 86.00C219.82 83.33 219.07 81.27 218.90 78.00Z" fill="none" stroke="#fff" stroke-width="0.75" stroke-opacity="0.95"/>
<path d="M229.90 78.00C228.70 75.43 228.62 71.27 228.80 68.60C228.98 65.93 229.90 64.20 231.00 62.00C232.10 59.80 233.57 57.23 235.40 55.40C237.23 53.57 239.43 52.10 242.00 51.00C244.57 49.90 248.23 49.17 250.80 48.80C253.37 48.43 254.83 48.25 257.40 48.80C259.97 49.35 263.63 50.27 266.20 52.10C268.77 53.93 271.15 56.68 272.80 59.80C274.45 62.92 275.55 66.43 276.10 70.80C276.65 75.17 276.83 82.18 276.10 86.00C275.37 89.82 273.72 91.68 271.70 93.70C269.68 95.72 266.75 97.12 264.00 98.10C261.25 99.08 258.20 99.95 255.20 99.60C252.20 99.25 248.70 97.43 246.00 96.00C243.30 94.57 240.67 93.00 239.00 91.00C237.33 89.00 237.52 86.17 236.00 84.00C234.48 81.83 231.10 80.57 229.90 78.00Z" fill="none" stroke="#fff" stroke-width="0.75" stroke-opacity="0.95"/>
<path d="M242.00 78.00C241.17 75.57 241.27 69.43 242.00 66.40C242.73 63.37 244.57 61.33 246.40 59.80C248.23 58.27 250.43 57.63 253.00 57.20C255.57 56.77 259.05 56.58 261.80 57.20C264.55 57.82 267.48 59.00 269.50 60.90C271.52 62.80 273.07 65.75 273.90 68.60C274.73 71.45 275.23 75.65 274.50 78.00C273.77 80.35 271.25 81.37 269.50 82.70C267.75 84.03 265.65 85.20 264.00 86.00C262.35 86.80 261.43 87.67 259.60 87.50C257.77 87.33 255.10 86.08 253.00 85.00C250.90 83.92 248.83 82.17 247.00 81.00C245.17 79.83 242.83 80.43 242.00 78.00Z" fill="none" stroke="#fff" stroke-width="0.75" stroke-opacity="0.95"/>
<g clip-path="url(#cc)"><g shape-rendering="crispEdges"><path fill="#5adceb" d="M409.5 27.0h5.78v3.60h-5.78zM409.5 30.3h5.78v3.60h-5.78zM409.5 33.6h5.78v3.60h-5.78zM409.5 36.9h5.78v3.60h-5.78zM409.5 40.2h5.78v3.60h-5.78zM409.5 43.5h5.78v3.60h-5.78zM409.5 46.8h5.78v3.60h-5.78zM409.5 50.1h5.78v3.60h-5.78zM409.5 53.4h5.78v3.60h-5.78zM415.0 73.2h5.78v3.60h-5.78zM415.0 76.5h5.78v3.60h-5.78zM420.5 89.7h5.78v3.60h-5.78zM425.9 99.6h5.78v3.60h-5.78zM431.4 106.2h5.78v3.60h-5.78zM436.9 112.8h5.78v3.60h-5.78z"/><path fill="#71eee2" d="M415.0 27.0h5.78v3.60h-5.78zM415.0 30.3h5.78v3.60h-5.78zM420.5 63.3h5.78v3.60h-5.78zM425.9 79.8h5.78v3.60h-5.78zM431.4 89.7h5.78v3.60h-5.78zM436.9 99.6h5.78v3.60h-5.78zM442.4 106.2h5.78v3.60h-5.78z"/><path fill="#83f8da" d="M420.5 27.0h5.78v3.60h-5.78zM420.5 30.3h5.78v3.60h-5.78zM420.5 33.6h5.78v3.60h-5.78zM425.9 60.0h5.78v3.60h-5.78zM431.4 76.5h5.78v3.60h-5.78zM436.9 86.4h5.78v3.60h-5.78zM447.9 102.9h5.78v3.60h-5.78z"/><path fill="#9afece" d="M425.9 27.0h5.78v3.60h-5.78zM431.4 53.4h5.78v3.60h-5.78zM436.9 69.9h5.78v3.60h-5.78zM442.4 79.8h5.78v3.60h-5.78zM447.9 89.7h5.78v3.60h-5.78z"/><path fill="#acfec4" d="M431.4 27.0h5.78v3.60h-5.78zM431.4 30.3h5.78v3.60h-5.78zM436.9 53.4h5.78v3.60h-5.78zM442.4 66.6h5.78v3.60h-5.78zM447.9 79.8h5.78v3.60h-5.78z"/><path fill="#47c9f1" d="M404.0 30.3h5.78v3.60h-5.78zM404.0 33.6h5.78v3.60h-5.78zM404.0 36.9h5.78v3.60h-5.78zM404.0 40.2h5.78v3.60h-5.78zM404.0 43.5h5.78v3.60h-5.78zM404.0 46.8h5.78v3.60h-5.78zM404.0 50.1h5.78v3.60h-5.78zM404.0 53.4h5.78v3.60h-5.78zM404.0 56.7h5.78v3.60h-5.78zM404.0 60.0h5.78v3.60h-5.78zM404.0 63.3h5.78v3.60h-5.78zM404.0 66.6h5.78v3.60h-5.78zM409.5 83.1h5.78v3.60h-5.78zM409.5 86.4h5.78v3.60h-5.78zM415.0 96.3h5.78v3.60h-5.78zM420.5 106.2h5.78v3.60h-5.78zM425.9 112.8h5.78v3.60h-5.78zM431.4 116.1h5.78v3.60h-5.78z"/><path fill="#95fed1" d="M425.9 30.3h5.78v3.60h-5.78zM425.9 33.6h5.78v3.60h-5.78zM431.4 56.7h5.78v3.60h-5.78zM431.4 60.0h5.78v3.60h-5.78zM436.9 73.2h5.78v3.60h-5.78zM442.4 83.1h5.78v3.60h-5.78zM447.9 93.0h5.78v3.60h-5.78z"/><path fill="#c3f8b6" d="M436.9 30.3h5.78v3.60h-5.78zM442.4 50.1h5.78v3.60h-5.78zM447.9 63.3h5.78v3.60h-5.78zM453.3 76.5h5.78v3.60h-5.78z"/><path fill="#6cebe4" d="M415.0 33.6h5.78v3.60h-5.78zM415.0 36.9h5.78v3.60h-5.78zM415.0 40.2h5.78v3.60h-5.78zM415.0 43.5h5.78v3.60h-5.78zM420.5 66.6h5.78v3.60h-5.78zM420.5 69.9h5.78v3.60h-5.78zM425.9 83.1h5.78v3.60h-5.78zM431.4 93.0h5.78v3.60h-5.78z"/><path fill="#a8ffc7" d="M431.4 33.6h5.78v3.60h-5.78zM431.4 36.9h5.78v3.60h-5.78zM436.9 56.7h5.78v3.60h-5.78zM442.4 69.9h5.78v3.60h-5.78z"/><path fill="#bffab9" d="M436.9 33.6h5.78v3.60h-5.78zM442.4 53.4h5.78v3.60h-5.78zM447.9 66.6h5.78v3.60h-5.78z"/><path fill="#d6eeaa" d="M442.4 33.6h5.78v3.60h-5.78zM447.9 50.1h5.78v3.60h-5.78zM453.3 63.3h5.78v3.60h-5.78z"/><path fill="#eddc9b" d="M447.9 33.6h5.78v3.60h-5.78zM453.3 50.1h5.78v3.60h-5.78z"/><path fill="#55b9f5" d="M398.5 36.9h5.78v3.60h-5.78zM398.5 40.2h5.78v3.60h-5.78zM398.5 43.5h5.78v3.60h-5.78zM398.5 46.8h5.78v3.60h-5.78zM398.5 50.1h5.78v3.60h-5.78zM398.5 53.4h5.78v3.60h-5.78zM398.5 56.7h5.78v3.60h-5.78zM398.5 60.0h5.78v3.60h-5.78zM398.5 63.3h5.78v3.60h-5.78zM398.5 66.6h5.78v3.60h-5.78zM398.5 69.9h5.78v3.60h-5.78zM398.5 73.2h5.78v3.60h-5.78zM404.0 89.7h5.78v3.60h-5.78zM404.0 93.0h5.78v3.60h-5.78zM409.5 102.9h5.78v3.60h-5.78zM415.0 109.5h5.78v3.60h-5.78zM420.5 116.1h5.78v3.60h-5.78z"/><path fill="#7ef6dc" d="M420.5 36.9h5.78v3.60h-5.78zM420.5 40.2h5.78v3.60h-5.78zM420.5 43.5h5.78v3.60h-5.78zM425.9 63.3h5.78v3.60h-5.78zM425.9 66.6h5.78v3.60h-5.78zM431.4 79.8h5.78v3.60h-5.78zM436.9 89.7h5.78v3.60h-5.78zM442.4 96.3h5.78v3.60h-5.78z"/><path fill="#91fdd3" d="M425.9 36.9h5.78v3.60h-5.78zM425.9 40.2h5.78v3.60h-5.78zM425.9 43.5h5.78v3.60h-5.78zM431.4 63.3h5.78v3.60h-5.78zM436.9 76.5h5.78v3.60h-5.78zM442.4 86.4h5.78v3.60h-5.78z"/><path fill="#bafbbc" d="M436.9 36.9h5.78v3.60h-5.78zM436.9 40.2h5.78v3.60h-5.78zM442.4 56.7h5.78v3.60h-5.78zM447.9 69.9h5.78v3.60h-5.78zM453.3 79.8h5.78v3.60h-5.78z"/><path fill="#d1f1ad" d="M442.4 36.9h5.78v3.60h-5.78zM447.9 53.4h5.78v3.60h-5.78zM453.3 66.6h5.78v3.60h-5.78z"/><path fill="#e8e09e" d="M447.9 36.9h5.78v3.60h-5.78zM453.3 53.4h5.78v3.60h-5.78z"/><path fill="#63a7f8" d="M393.1 40.2h5.78v3.60h-5.78zM393.1 43.5h5.78v3.60h-5.78zM393.1 46.8h5.78v3.60h-5.78zM393.1 50.1h5.78v3.60h-5.78zM393.1 53.4h5.78v3.60h-5.78zM393.1 56.7h5.78v3.60h-5.78zM393.1 60.0h5.78v3.60h-5.78zM393.1 63.3h5.78v3.60h-5.78zM393.1 66.6h5.78v3.60h-5.78zM393.1 69.9h5.78v3.60h-5.78zM393.1 73.2h5.78v3.60h-5.78zM393.1 76.5h5.78v3.60h-5.78zM393.1 79.8h5.78v3.60h-5.78zM393.1 83.1h5.78v3.60h-5.78zM393.1 86.4h5.78v3.60h-5.78zM393.1 89.7h5.78v3.60h-5.78zM398.5 99.6h5.78v3.60h-5.78zM398.5 102.9h5.78v3.60h-5.78zM404.0 109.5h5.78v3.60h-5.78zM404.0 112.8h5.78v3.60h-5.78zM409.5 116.1h5.78v3.60h-5.78zM415.0 122.7h5.78v3.60h-5.78zM420.5 126.0h5.78v3.60h-5.78z"/><path fill="#a3ffc9" d="M431.4 40.2h5.78v3.60h-5.78zM431.4 43.5h5.78v3.60h-5.78zM436.9 60.0h5.78v3.60h-5.78zM436.9 63.3h5.78v3.60h-5.78zM442.4 73.2h5.78v3.60h-5.78zM447.9 83.1h5.78v3.60h-5.78z"/><path fill="#cdf4b0" d="M442.4 40.2h5.78v3.60h-5.78zM442.4 43.5h5.78v3.60h-5.78zM447.9 56.7h5.78v3.60h-5.78zM453.3 69.9h5.78v3.60h-5.78z"/><path fill="#e3e4a1" d="M447.9 40.2h5.78v3.60h-5.78zM453.3 56.7h5.78v3.60h-5.78z"/><path fill="#7194fb" d="M387.6 43.5h5.78v3.60h-5.78zM387.6 46.8h5.78v3.60h-5.78zM387.6 50.1h5.78v3.60h-5.78zM387.6 53.4h5.78v3.60h-5.78zM382.1 83.1h5.78v3.60h-5.78zM382.1 86.4h5.78v3.60h-5.78zM382.1 89.7h5.78v3.60h-5.78zM382.1 93.0h5.78v3.60h-5.78zM382.1 96.3h5.78v3.60h-5.78zM387.6 102.9h5.78v3.60h-5.78zM387.6 106.2h5.78v3.60h-5.78zM387.6 109.5h5.78v3.60h-5.78zM387.6 112.8h5.78v3.60h-5.78zM393.1 112.8h5.78v3.60h-5.78zM393.1 116.1h5.78v3.60h-5.78z"/><path fill="#b6fdbf" d="M436.9 43.5h5.78v3.60h-5.78zM442.4 60.0h5.78v3.60h-5.78zM447.9 73.2h5.78v3.60h-5.78zM453.3 83.1h5.78v3.60h-5.78z"/><path fill="#dfe8a4" d="M447.9 43.5h5.78v3.60h-5.78zM453.3 60.0h5.78v3.60h-5.78z"/><path fill="#7e80fd" d="M382.1 46.8h5.78v3.60h-5.78zM382.1 50.1h5.78v3.60h-5.78zM376.6 66.6h5.78v3.60h-5.78zM376.6 69.9h5.78v3.60h-5.78zM376.6 73.2h5.78v3.60h-5.78zM371.1 83.1h5.78v3.60h-5.78zM371.1 86.4h5.78v3.60h-5.78zM371.1 89.7h5.78v3.60h-5.78zM371.1 93.0h5.78v3.60h-5.78zM365.7 96.3h5.78v3.60h-5.78zM365.7 99.6h5.78v3.60h-5.78zM365.7 102.9h5.78v3.60h-5.78z"/><path fill="#68e8e6" d="M415.0 46.8h5.78v3.60h-5.78zM415.0 50.1h5.78v3.60h-5.78zM415.0 53.4h5.78v3.60h-5.78zM415.0 56.7h5.78v3.60h-5.78zM420.5 73.2h5.78v3.60h-5.78zM420.5 76.5h5.78v3.60h-5.78zM425.9 86.4h5.78v3.60h-5.78zM431.4 96.3h5.78v3.60h-5.78zM436.9 102.9h5.78v3.60h-5.78zM442.4 109.5h5.78v3.60h-5.78z"/><path fill="#7af4de" d="M420.5 46.8h5.78v3.60h-5.78zM420.5 50.1h5.78v3.60h-5.78zM425.9 69.9h5.78v3.60h-5.78zM431.4 83.1h5.78v3.60h-5.78zM436.9 93.0h5.78v3.60h-5.78zM442.4 99.6h5.78v3.60h-5.78zM447.9 106.2h5.78v3.60h-5.78z"/><path fill="#8cfbd5" d="M425.9 46.8h5.78v3.60h-5.78zM425.9 50.1h5.78v3.60h-5.78zM431.4 66.6h5.78v3.60h-5.78zM436.9 79.8h5.78v3.60h-5.78zM442.4 89.7h5.78v3.60h-5.78zM447.9 96.3h5.78v3.60h-5.78z"/><path fill="#9fffcc" d="M431.4 46.8h5.78v3.60h-5.78zM431.4 50.1h5.78v3.60h-5.78zM436.9 66.6h5.78v3.60h-5.78zM442.4 76.5h5.78v3.60h-5.78zM447.9 86.4h5.78v3.60h-5.78z"/><path fill="#b1fec1" d="M436.9 46.8h5.78v3.60h-5.78zM436.9 50.1h5.78v3.60h-5.78zM442.4 63.3h5.78v3.60h-5.78zM447.9 76.5h5.78v3.60h-5.78z"/><path fill="#c8f6b3" d="M442.4 46.8h5.78v3.60h-5.78zM447.9 60.0h5.78v3.60h-5.78zM453.3 73.2h5.78v3.60h-5.78z"/><path fill="#daeba7" d="M447.9 46.8h5.78v3.60h-5.78z"/><path fill="#f1d898" d="M453.3 46.8h5.78v3.60h-5.78z"/><path fill="#8872fe" d="M376.6 53.4h5.78v3.60h-5.78zM371.1 66.6h5.78v3.60h-5.78zM371.1 69.9h5.78v3.60h-5.78zM365.7 76.5h5.78v3.60h-5.78zM365.7 79.8h5.78v3.60h-5.78zM365.7 83.1h5.78v3.60h-5.78zM360.2 86.4h5.78v3.60h-5.78zM354.7 89.7h5.78v3.60h-5.78zM360.2 89.7h5.78v3.60h-5.78zM354.7 93.0h5.78v3.60h-5.78z"/><path fill="#7a87fc" d="M382.1 53.4h5.78v3.60h-5.78zM382.1 56.7h5.78v3.60h-5.78zM382.1 60.0h5.78v3.60h-5.78zM376.6 76.5h5.78v3.60h-5.78zM376.6 79.8h5.78v3.60h-5.78zM376.6 83.1h5.78v3.60h-5.78zM376.6 86.4h5.78v3.60h-5.78zM376.6 89.7h5.78v3.60h-5.78zM376.6 93.0h5.78v3.60h-5.78zM371.1 96.3h5.78v3.60h-5.78zM376.6 96.3h5.78v3.60h-5.78zM371.1 99.6h5.78v3.60h-5.78zM376.6 99.6h5.78v3.60h-5.78zM371.1 102.9h5.78v3.60h-5.78zM376.6 106.2h5.78v3.60h-5.78z"/><path fill="#75f1e0" d="M420.5 53.4h5.78v3.60h-5.78zM420.5 56.7h5.78v3.60h-5.78zM420.5 60.0h5.78v3.60h-5.78zM425.9 73.2h5.78v3.60h-5.78zM425.9 76.5h5.78v3.60h-5.78zM431.4 86.4h5.78v3.60h-5.78zM436.9 96.3h5.78v3.60h-5.78zM442.4 102.9h5.78v3.60h-5.78zM447.9 109.5h5.78v3.60h-5.78z"/><path fill="#88fad8" d="M425.9 53.4h5.78v3.60h-5.78zM425.9 56.7h5.78v3.60h-5.78zM431.4 69.9h5.78v3.60h-5.78zM431.4 73.2h5.78v3.60h-5.78zM436.9 83.1h5.78v3.60h-5.78zM442.4 93.0h5.78v3.60h-5.78zM447.9 99.6h5.78v3.60h-5.78z"/><path fill="#8379fd" d="M376.6 56.7h5.78v3.60h-5.78zM376.6 60.0h5.78v3.60h-5.78zM376.6 63.3h5.78v3.60h-5.78zM371.1 73.2h5.78v3.60h-5.78zM371.1 76.5h5.78v3.60h-5.78zM371.1 79.8h5.78v3.60h-5.78zM365.7 86.4h5.78v3.60h-5.78zM365.7 89.7h5.78v3.60h-5.78zM360.2 93.0h5.78v3.60h-5.78zM365.7 93.0h5.78v3.60h-5.78zM354.7 96.3h5.78v3.60h-5.78zM360.2 96.3h5.78v3.60h-5.78zM354.7 99.6h5.78v3.60h-5.78zM360.2 99.6h5.78v3.60h-5.78z"/><path fill="#6c9bfa" d="M387.6 56.7h5.78v3.60h-5.78zM387.6 60.0h5.78v3.60h-5.78zM387.6 63.3h5.78v3.60h-5.78zM387.6 66.6h5.78v3.60h-5.78zM387.6 69.9h5.78v3.60h-5.78zM387.6 73.2h5.78v3.60h-5.78zM387.6 76.5h5.78v3.60h-5.78zM387.6 79.8h5.78v3.60h-5.78zM387.6 83.1h5.78v3.60h-5.78zM387.6 86.4h5.78v3.60h-5.78zM387.6 89.7h5.78v3.60h-5.78zM387.6 93.0h5.78v3.60h-5.78zM387.6 96.3h5.78v3.60h-5.78zM387.6 99.6h5.78v3.60h-5.78zM393.1 106.2h5.78v3.60h-5.78zM393.1 109.5h5.78v3.60h-5.78zM398.5 112.8h5.78v3.60h-5.78zM398.5 116.1h5.78v3.60h-5.78zM404.0 119.4h5.78v3.60h-5.78zM404.0 122.7h5.78v3.60h-5.78zM409.5 126.0h5.78v3.60h-5.78z"/><path fill="#55d8ed" d="M409.5 56.7h5.78v3.60h-5.78zM409.5 60.0h5.78v3.60h-5.78zM409.5 63.3h5.78v3.60h-5.78zM415.0 79.8h5.78v3.60h-5.78zM415.0 83.1h5.78v3.60h-5.78zM420.5 93.0h5.78v3.60h-5.78zM425.9 102.9h5.78v3.60h-5.78zM431.4 109.5h5.78v3.60h-5.78z"/><path fill="#63e4e8" d="M415.0 60.0h5.78v3.60h-5.78zM415.0 63.3h5.78v3.60h-5.78zM420.5 79.8h5.78v3.60h-5.78zM425.9 89.7h5.78v3.60h-5.78zM425.9 93.0h5.78v3.60h-5.78zM431.4 99.6h5.78v3.60h-5.78zM436.9 106.2h5.78v3.60h-5.78zM442.4 112.8h5.78v3.60h-5.78z"/><path fill="#9164fe" d="M365.7 63.3h5.78v3.60h-5.78zM365.7 66.6h5.78v3.60h-5.78zM360.2 73.2h5.78v3.60h-5.78zM360.2 76.5h5.78v3.60h-5.78zM354.7 79.8h5.78v3.60h-5.78zM354.7 83.1h5.78v3.60h-5.78z"/><path fill="#8c6bfe" d="M371.1 63.3h5.78v3.60h-5.78zM365.7 69.9h5.78v3.60h-5.78zM365.7 73.2h5.78v3.60h-5.78zM360.2 79.8h5.78v3.60h-5.78zM360.2 83.1h5.78v3.60h-5.78zM354.7 86.4h5.78v3.60h-5.78z"/><path fill="#758efb" d="M382.1 63.3h5.78v3.60h-5.78zM382.1 66.6h5.78v3.60h-5.78zM382.1 69.9h5.78v3.60h-5.78zM382.1 73.2h5.78v3.60h-5.78zM382.1 76.5h5.78v3.60h-5.78zM382.1 79.8h5.78v3.60h-5.78zM382.1 99.6h5.78v3.60h-5.78zM376.6 102.9h5.78v3.60h-5.78zM382.1 102.9h5.78v3.60h-5.78zM382.1 106.2h5.78v3.60h-5.78zM382.1 109.5h5.78v3.60h-5.78z"/><path fill="#955dff" d="M360.2 66.6h5.78v3.60h-5.78zM360.2 69.9h5.78v3.60h-5.78zM354.7 73.2h5.78v3.60h-5.78zM354.7 76.5h5.78v3.60h-5.78z"/><path fill="#51d3ee" d="M409.5 66.6h5.78v3.60h-5.78zM409.5 69.9h5.78v3.60h-5.78zM409.5 73.2h5.78v3.60h-5.78zM415.0 86.4h5.78v3.60h-5.78zM415.0 89.7h5.78v3.60h-5.78zM420.5 96.3h5.78v3.60h-5.78zM420.5 99.6h5.78v3.60h-5.78zM425.9 106.2h5.78v3.60h-5.78zM431.4 112.8h5.78v3.60h-5.78zM436.9 116.1h5.78v3.60h-5.78z"/><path fill="#5ee0e9" d="M415.0 66.6h5.78v3.60h-5.78zM415.0 69.9h5.78v3.60h-5.78zM420.5 83.1h5.78v3.60h-5.78zM420.5 86.4h5.78v3.60h-5.78zM425.9 96.3h5.78v3.60h-5.78zM431.4 102.9h5.78v3.60h-5.78zM436.9 109.5h5.78v3.60h-5.78zM442.4 116.1h5.78v3.60h-5.78z"/><path fill="#4cc4f2" d="M404.0 69.9h5.78v3.60h-5.78zM404.0 73.2h5.78v3.60h-5.78zM404.0 76.5h5.78v3.60h-5.78zM409.5 89.7h5.78v3.60h-5.78zM409.5 93.0h5.78v3.60h-5.78zM415.0 99.6h5.78v3.60h-5.78zM415.0 102.9h5.78v3.60h-5.78zM420.5 109.5h5.78v3.60h-5.78zM425.9 116.1h5.78v3.60h-5.78zM431.4 119.4h5.78v3.60h-5.78z"/><path fill="#5ab3f6" d="M398.5 76.5h5.78v3.60h-5.78zM398.5 79.8h5.78v3.60h-5.78zM398.5 83.1h5.78v3.60h-5.78zM398.5 86.4h5.78v3.60h-5.78zM404.0 96.3h5.78v3.60h-5.78zM404.0 99.6h5.78v3.60h-5.78zM409.5 106.2h5.78v3.60h-5.78zM409.5 109.5h5.78v3.60h-5.78zM415.0 112.8h5.78v3.60h-5.78zM415.0 116.1h5.78v3.60h-5.78zM420.5 119.4h5.78v3.60h-5.78zM425.9 122.7h5.78v3.60h-5.78z"/><path fill="#4ccef0" d="M409.5 76.5h5.78v3.60h-5.78zM409.5 79.8h5.78v3.60h-5.78zM415.0 93.0h5.78v3.60h-5.78zM420.5 102.9h5.78v3.60h-5.78zM425.9 109.5h5.78v3.60h-5.78zM436.9 119.4h5.78v3.60h-5.78z"/><path fill="#51bff4" d="M404.0 79.8h5.78v3.60h-5.78zM404.0 83.1h5.78v3.60h-5.78zM404.0 86.4h5.78v3.60h-5.78zM409.5 96.3h5.78v3.60h-5.78zM409.5 99.6h5.78v3.60h-5.78zM415.0 106.2h5.78v3.60h-5.78zM420.5 112.8h5.78v3.60h-5.78zM425.9 119.4h5.78v3.60h-5.78zM431.4 122.7h5.78v3.60h-5.78z"/><path fill="#5eadf7" d="M398.5 89.7h5.78v3.60h-5.78zM398.5 93.0h5.78v3.60h-5.78zM398.5 96.3h5.78v3.60h-5.78zM404.0 102.9h5.78v3.60h-5.78zM404.0 106.2h5.78v3.60h-5.78zM409.5 112.8h5.78v3.60h-5.78zM415.0 119.4h5.78v3.60h-5.78zM420.5 122.7h5.78v3.60h-5.78zM425.9 126.0h5.78v3.60h-5.78z"/><path fill="#68a1f9" d="M393.1 93.0h5.78v3.60h-5.78zM393.1 96.3h5.78v3.60h-5.78zM393.1 99.6h5.78v3.60h-5.78zM393.1 102.9h5.78v3.60h-5.78zM398.5 106.2h5.78v3.60h-5.78zM398.5 109.5h5.78v3.60h-5.78zM404.0 116.1h5.78v3.60h-5.78zM409.5 119.4h5.78v3.60h-5.78zM409.5 122.7h5.78v3.60h-5.78zM415.0 126.0h5.78v3.60h-5.78z"/></g></g>
<path d="M360.60 91.00C360.23 88.83 360.97 86.45 362.80 84.00C364.63 81.55 368.85 79.23 371.60 76.30C374.35 73.37 377.10 69.70 379.30 66.40C381.50 63.10 382.60 59.25 384.80 56.50C387.00 53.75 389.93 51.73 392.50 49.90C395.07 48.07 397.82 46.97 400.20 45.50C402.58 44.03 403.87 42.93 406.80 41.10C409.73 39.27 414.13 35.97 417.80 34.50C421.47 33.03 425.13 32.12 428.80 32.30C432.47 32.48 436.87 33.95 439.80 35.60C442.73 37.25 444.57 39.27 446.40 42.20C448.23 45.13 449.88 49.53 450.80 53.20C451.72 56.87 451.62 59.07 451.90 64.20C452.18 69.33 452.57 78.03 452.50 84.00C452.43 89.97 452.33 96.00 451.50 100.00C450.67 104.00 449.08 105.02 447.50 108.00C445.92 110.98 444.02 115.52 442.00 117.90C439.98 120.28 437.97 121.08 435.40 122.30C432.83 123.52 429.53 124.83 426.60 125.20C423.67 125.57 420.73 125.53 417.80 124.50C414.87 123.47 412.30 120.83 409.00 119.00C405.70 117.17 401.67 115.33 398.00 113.50C394.33 111.67 391.03 109.65 387.00 108.00C382.97 106.35 377.47 105.43 373.80 103.60C370.13 101.77 367.20 99.10 365.00 97.00C362.80 94.90 360.97 93.17 360.60 91.00Z" fill="none" stroke="#fff" stroke-width="0.75" stroke-opacity="0.95"/>
<path d="M376.00 90.00C376.37 87.67 378.20 84.00 380.40 82.00C382.60 80.00 387.10 80.00 389.20 78.00C391.30 76.00 392.12 73.00 393.00 70.00C393.88 67.00 393.92 62.83 394.50 60.00C395.08 57.17 395.00 54.87 396.50 53.00C398.00 51.13 399.95 50.30 403.50 48.80C407.05 47.30 413.38 45.13 417.80 44.00C422.22 42.87 426.30 41.83 430.00 42.00C433.70 42.17 437.45 43.17 440.00 45.00C442.55 46.83 443.93 49.50 445.30 53.00C446.67 56.50 447.50 60.83 448.20 66.00C448.90 71.17 449.45 78.67 449.50 84.00C449.55 89.33 449.38 94.00 448.50 98.00C447.62 102.00 446.38 104.87 444.20 108.00C442.02 111.13 438.70 114.78 435.40 116.80C432.10 118.82 428.07 120.65 424.40 120.10C420.73 119.55 417.43 115.88 413.40 113.50C409.37 111.12 404.23 108.00 400.20 105.80C396.17 103.60 392.87 101.93 389.20 100.30C385.53 98.67 380.40 97.72 378.20 96.00C376.00 94.28 375.63 92.33 376.00 90.00Z" fill="none" stroke="#fff" stroke-width="0.75" stroke-opacity="0.95"/>
<path d="M404.60 64.00C405.48 60.42 405.33 58.48 406.80 56.50C408.27 54.52 410.65 53.35 413.40 52.10C416.15 50.85 420.18 49.18 423.30 49.00C426.42 48.82 429.32 49.83 432.10 51.00C434.88 52.17 437.93 54.00 440.00 56.00C442.07 58.00 443.50 60.17 444.50 63.00C445.50 65.83 445.75 69.17 446.00 73.00C446.25 76.83 446.42 81.83 446.00 86.00C445.58 90.17 445.27 94.70 443.50 98.00C441.73 101.30 438.22 104.32 435.40 105.80C432.58 107.28 429.90 107.27 426.60 106.90C423.30 106.53 419.63 104.70 415.60 103.60C411.57 102.50 405.67 101.90 402.40 100.30C399.13 98.70 396.82 96.38 396.00 94.00C395.18 91.62 396.58 88.67 397.50 86.00C398.42 83.33 400.32 81.67 401.50 78.00C402.68 74.33 403.72 67.58 404.60 64.00Z" fill="none" stroke="#fff" stroke-width="0.75" stroke-opacity="0.95"/>
<path d="M425.50 54.30C422.47 54.83 419.45 56.68 417.80 58.70C416.15 60.72 415.78 62.18 415.60 66.40C415.42 70.62 415.97 79.78 416.70 84.00C417.43 88.22 418.35 89.87 420.00 91.70C421.65 93.53 424.03 94.48 426.60 95.00C429.17 95.52 433.00 95.93 435.40 94.80C437.80 93.67 439.73 91.50 441.00 88.20C442.27 84.90 442.92 79.37 443.00 75.00C443.08 70.63 442.67 65.25 441.50 62.00C440.33 58.75 438.67 56.78 436.00 55.50C433.33 54.22 428.53 53.77 425.50 54.30Z" fill="none" stroke="#fff" stroke-width="0.75" stroke-opacity="0.95"/>
<g clip-path="url(#cd)"><g shape-rendering="crispEdges"><path fill="#75f1e0" d="M80.6 171.0h5.25v3.90h-5.25zM80.6 174.6h5.25v3.90h-5.25zM80.6 178.2h5.25v3.90h-5.25zM80.6 181.8h5.25v3.90h-5.25zM80.6 185.4h5.25v3.90h-5.25zM80.6 189.0h5.25v3.90h-5.25zM80.6 192.6h5.25v3.90h-5.25zM80.6 196.2h5.25v3.90h-5.25zM80.6 199.8h5.25v3.90h-5.25zM80.6 203.4h5.25v3.90h-5.25zM80.6 207.0h5.25v3.90h-5.25zM80.6 210.6h5.25v3.90h-5.25zM80.6 214.2h5.25v3.90h-5.25zM80.6 217.8h5.25v3.90h-5.25zM80.6 221.4h5.25v3.90h-5.25zM80.6 225.0h5.25v3.90h-5.25zM80.6 228.6h5.25v3.90h-5.25zM80.6 232.2h5.25v3.90h-5.25zM80.6 235.8h5.25v3.90h-5.25zM80.6 239.4h5.25v3.90h-5.25zM80.6 243.0h5.25v3.90h-5.25zM80.6 246.6h5.25v3.90h-5.25zM80.6 250.2h5.25v3.90h-5.25zM80.6 253.8h5.25v3.90h-5.25zM80.6 257.4h5.25v3.90h-5.25zM80.6 261.0h5.25v3.90h-5.25zM80.6 264.6h5.25v3.90h-5.25zM80.6 268.2h5.25v3.90h-5.25zM80.6 271.8h5.25v3.90h-5.25zM80.6 275.4h5.25v3.90h-5.25zM80.6 279.0h5.25v3.90h-5.25z"/><path fill="#9afece" d="M90.5 171.0h5.25v3.90h-5.25zM90.5 174.6h5.25v3.90h-5.25zM90.5 178.2h5.25v3.90h-5.25zM90.5 181.8h5.25v3.90h-5.25zM90.5 185.4h5.25v3.90h-5.25zM90.5 189.0h5.25v3.90h-5.25zM90.5 192.6h5.25v3.90h-5.25zM90.5 196.2h5.25v3.90h-5.25zM90.5 199.8h5.25v3.90h-5.25zM90.5 203.4h5.25v3.90h-5.25zM90.5 207.0h5.25v3.90h-5.25zM90.5 210.6h5.25v3.90h-5.25zM90.5 214.2h5.25v3.90h-5.25zM90.5 217.8h5.25v3.90h-5.25zM90.5 221.4h5.25v3.90h-5.25zM90.5 225.0h5.25v3.90h-5.25zM90.5 228.6h5.25v3.90h-5.25zM90.5 232.2h5.25v3.90h-5.25zM90.5 235.8h5.25v3.90h-5.25zM90.5 239.4h5.25v3.90h-5.25zM90.5 243.0h5.25v3.90h-5.25zM90.5 246.6h5.25v3.90h-5.25zM90.5 250.2h5.25v3.90h-5.25zM90.5 253.8h5.25v3.90h-5.25zM90.5 257.4h5.25v3.90h-5.25zM90.5 261.0h5.25v3.90h-5.25zM90.5 264.6h5.25v3.90h-5.25zM90.5 268.2h5.25v3.90h-5.25zM90.5 271.8h5.25v3.90h-5.25zM90.5 275.4h5.25v3.90h-5.25zM90.5 279.0h5.25v3.90h-5.25z"/><path fill="#b6fdbf" d="M95.4 171.0h5.25v3.90h-5.25zM95.4 174.6h5.25v3.90h-5.25zM95.4 178.2h5.25v3.90h-5.25zM95.4 181.8h5.25v3.90h-5.25zM95.4 185.4h5.25v3.90h-5.25zM95.4 189.0h5.25v3.90h-5.25zM95.4 192.6h5.25v3.90h-5.25zM95.4 196.2h5.25v3.90h-5.25zM95.4 199.8h5.25v3.90h-5.25zM95.4 203.4h5.25v3.90h-5.25zM95.4 207.0h5.25v3.90h-5.25zM95.4 210.6h5.25v3.90h-5.25zM95.4 214.2h5.25v3.90h-5.25zM95.4 217.8h5.25v3.90h-5.25zM95.4 221.4h5.25v3.90h-5.25zM95.4 225.0h5.25v3.90h-5.25zM95.4 228.6h5.25v3.90h-5.25zM95.4 232.2h5.25v3.90h-5.25zM95.4 235.8h5.25v3.90h-5.25zM95.4 239.4h5.25v3.90h-5.25zM95.4 243.0h5.25v3.90h-5.25zM95.4 246.6h5.25v3.90h-5.25zM95.4 250.2h5.25v3.90h-5.25zM95.4 253.8h5.25v3.90h-5.25zM95.4 257.4h5.25v3.90h-5.25zM95.4 261.0h5.25v3.90h-5.25zM95.4 264.6h5.25v3.90h-5.25zM95.4 268.2h5.25v3.90h-5.25zM95.4 271.8h5.25v3.90h-5.25zM95.4 275.4h5.25v3.90h-5.25zM95.4 279.0h5.25v3.90h-5.25z"/><path fill="#d1f1ad" d="M100.3 171.0h5.25v3.90h-5.25zM100.3 174.6h5.25v3.90h-5.25zM100.3 178.2h5.25v3.90h-5.25zM100.3 181.8h5.25v3.90h-5.25zM100.3 185.4h5.25v3.90h-5.25zM100.3 189.0h5.25v3.90h-5.25zM100.3 192.6h5.25v3.90h-5.25zM100.3 196.2h5.25v3.90h-5.25zM100.3 199.8h5.25v3.90h-5.25zM100.3 203.4h5.25v3.90h-5.25zM100.3 207.0h5.25v3.90h-5.25zM100.3 210.6h5.25v3.90h-5.25zM100.3 214.2h5.25v3.90h-5.25zM100.3 217.8h5.25v3.90h-5.25zM100.3 221.4h5.25v3.90h-5.25zM100.3 225.0h5.25v3.90h-5.25zM100.3 228.6h5.25v3.90h-5.25zM100.3 232.2h5.25v3.90h-5.25zM100.3 235.8h5.25v3.90h-5.25zM100.3 239.4h5.25v3.90h-5.25zM100.3 243.0h5.25v3.90h-5.25zM100.3 246.6h5.25v3.90h-5.25zM100.3 250.2h5.25v3.90h-5.25zM100.3 253.8h5.25v3.90h-5.25zM100.3 257.4h5.25v3.90h-5.25zM100.3 261.0h5.25v3.90h-5.25zM100.3 264.6h5.25v3.90h-5.25zM100.3 268.2h5.25v3.90h-5.25zM100.3 271.8h5.25v3.90h-5.25zM100.3 275.4h5.25v3.90h-5.25z"/><path fill="#f6d394" d="M105.3 171.0h5.25v3.90h-5.25zM105.3 174.6h5.25v3.90h-5.25zM105.3 178.2h5.25v3.90h-5.25zM105.3 181.8h5.25v3.90h-5.25zM105.3 185.4h5.25v3.90h-5.25zM105.3 189.0h5.25v3.90h-5.25zM105.3 192.6h5.25v3.90h-5.25zM105.3 196.2h5.25v3.90h-5.25zM105.3 199.8h5.25v3.90h-5.25zM105.3 203.4h5.25v3.90h-5.25zM105.3 207.0h5.25v3.90h-5.25zM105.3 210.6h5.25v3.90h-5.25zM105.3 214.2h5.25v3.90h-5.25zM105.3 217.8h5.25v3.90h-5.25zM105.3 221.4h5.25v3.90h-5.25zM105.3 225.0h5.25v3.90h-5.25zM105.3 228.6h5.25v3.90h-5.25zM105.3 232.2h5.25v3.90h-5.25zM105.3 235.8h5.25v3.90h-5.25zM105.3 239.4h5.25v3.90h-5.25zM105.3 243.0h5.25v3.90h-5.25zM105.3 246.6h5.25v3.90h-5.25zM105.3 250.2h5.25v3.90h-5.25zM105.3 253.8h5.25v3.90h-5.25zM105.3 257.4h5.25v3.90h-5.25zM105.3 261.0h5.25v3.90h-5.25zM105.3 264.6h5.25v3.90h-5.25zM105.3 268.2h5.25v3.90h-5.25zM105.3 271.8h5.25v3.90h-5.25z"/><path fill="#ffa176" d="M110.2 171.0h5.25v3.90h-5.25zM110.2 174.6h5.25v3.90h-5.25zM110.2 178.2h5.25v3.90h-5.25zM110.2 181.8h5.25v3.90h-5.25zM110.2 185.4h5.25v3.90h-5.25zM110.2 189.0h5.25v3.90h-5.25zM110.2 192.6h5.25v3.90h-5.25zM110.2 196.2h5.25v3.90h-5.25zM110.2 199.8h5.25v3.90h-5.25zM110.2 203.4h5.25v3.90h-5.25zM110.2 207.0h5.25v3.90h-5.25zM110.2 210.6h5.25v3.90h-5.25zM110.2 214.2h5.25v3.90h-5.25zM110.2 217.8h5.25v3.90h-5.25zM110.2 221.4h5.25v3.90h-5.25zM110.2 225.0h5.25v3.90h-5.25zM110.2 228.6h5.25v3.90h-5.25zM110.2 232.2h5.25v3.90h-5.25zM110.2 235.8h5.25v3.90h-5.25zM110.2 239.4h5.25v3.90h-5.25zM110.2 243.0h5.25v3.90h-5.25zM110.2 246.6h5.25v3.90h-5.25zM110.2 250.2h5.25v3.90h-5.25zM110.2 253.8h5.25v3.90h-5.25zM110.2 257.4h5.25v3.90h-5.25zM110.2 261.0h5.25v3.90h-5.25zM110.2 264.6h5.25v3.90h-5.25zM110.2 268.2h5.25v3.90h-5.25zM110.2 271.8h5.25v3.90h-5.25z"/><path fill="#51d3ee" d="M65.7 174.6h5.25v3.90h-5.25zM65.7 178.2h5.25v3.90h-5.25zM65.7 181.8h5.25v3.90h-5.25zM65.7 185.4h5.25v3.90h-5.25zM65.7 189.0h5.25v3.90h-5.25zM65.7 192.6h5.25v3.90h-5.25zM65.7 196.2h5.25v3.90h-5.25zM65.7 199.8h5.25v3.90h-5.25zM65.7 203.4h5.25v3.90h-5.25zM65.7 207.0h5.25v3.90h-5.25zM65.7 210.6h5.25v3.90h-5.25zM65.7 214.2h5.25v3.90h-5.25zM65.7 217.8h5.25v3.90h-5.25zM65.7 221.4h5.25v3.90h-5.25zM65.7 225.0h5.25v3.90h-5.25zM65.7 228.6h5.25v3.90h-5.25zM65.7 232.2h5.25v3.90h-5.25zM65.7 235.8h5.25v3.90h-5.25zM65.7 239.4h5.25v3.90h-5.25zM65.7 243.0h5.25v3.90h-5.25zM65.7 246.6h5.25v3.90h-5.25zM65.7 250.2h5.25v3.90h-5.25zM65.7 253.8h5.25v3.90h-5.25zM65.7 257.4h5.25v3.90h-5.25zM65.7 261.0h5.25v3.90h-5.25zM65.7 264.6h5.25v3.90h-5.25zM65.7 268.2h5.25v3.90h-5.25zM65.7 271.8h5.25v3.90h-5.25zM65.7 275.4h5.25v3.90h-5.25z"/><path fill="#5adceb" d="M70.7 174.6h5.25v3.90h-5.25zM70.7 178.2h5.25v3.90h-5.25zM70.7 181.8h5.25v3.90h-5.25zM70.7 185.4h5.25v3.90h-5.25zM70.7 189.0h5.25v3.90h-5.25zM70.7 192.6h5.25v3.90h-5.25zM70.7 196.2h5.25v3.90h-5.25zM70.7 199.8h5.25v3.90h-5.25zM70.7 203.4h5.25v3.90h-5.25zM70.7 207.0h5.25v3.90h-5.25zM70.7 210.6h5.25v3.90h-5.25zM70.7 214.2h5.25v3.90h-5.25zM70.7 217.8h5.25v3.90h-5.25zM70.7 221.4h5.25v3.90h-5.25zM70.7 225.0h5.25v3.90h-5.25zM70.7 228.6h5.25v3.90h-5.25zM70.7 232.2h5.25v3.90h-5.25zM70.7 235.8h5.25v3.90h-5.25zM70.7 239.4h5.25v3.90h-5.25zM70.7 243.0h5.25v3.90h-5.25zM70.7 246.6h5.25v3.90h-5.25zM70.7 250.2h5.25v3.90h-5.25zM70.7 253.8h5.25v3.90h-5.25zM70.7 257.4h5.25v3.90h-5.25zM70.7 261.0h5.25v3.90h-5.25zM70.7 264.6h5.25v3.90h-5.25zM70.7 268.2h5.25v3.90h-5.25zM70.7 271.8h5.25v3.90h-5.25zM70.7 275.4h5.25v3.90h-5.25z"/><path fill="#68e8e6" d="M75.6 174.6h5.25v3.90h-5.25zM75.6 178.2h5.25v3.90h-5.25zM75.6 181.8h5.25v3.90h-5.25zM75.6 185.4h5.25v3.90h-5.25zM75.6 189.0h5.25v3.90h-5.25zM75.6 192.6h5.25v3.90h-5.25zM75.6 196.2h5.25v3.90h-5.25zM75.6 199.8h5.25v3.90h-5.25zM75.6 203.4h5.25v3.90h-5.25zM75.6 207.0h5.25v3.90h-5.25zM75.6 210.6h5.25v3.90h-5.25zM75.6 214.2h5.25v3.90h-5.25zM75.6 217.8h5.25v3.90h-5.25zM75.6 221.4h5.25v3.90h-5.25zM75.6 225.0h5.25v3.90h-5.25zM75.6 228.6h5.25v3.90h-5.25zM75.6 232.2h5.25v3.90h-5.25zM75.6 235.8h5.25v3.90h-5.25zM75.6 239.4h5.25v3.90h-5.25zM75.6 243.0h5.25v3.90h-5.25zM75.6 246.6h5.25v3.90h-5.25zM75.6 250.2h5.25v3.90h-5.25zM75.6 253.8h5.25v3.90h-5.25zM75.6 257.4h5.25v3.90h-5.25zM75.6 261.0h5.25v3.90h-5.25zM75.6 264.6h5.25v3.90h-5.25zM75.6 268.2h5.25v3.90h-5.25zM75.6 271.8h5.25v3.90h-5.25zM75.6 275.4h5.25v3.90h-5.25z"/><path fill="#88fad8" d="M85.5 174.6h5.25v3.90h-5.25zM85.5 178.2h5.25v3.90h-5.25zM85.5 181.8h5.25v3.90h-5.25zM85.5 185.4h5.25v3.90h-5.25zM85.5 189.0h5.25v3.90h-5.25zM85.5 192.6h5.25v3.90h-5.25zM85.5 196.2h5.25v3.90h-5.25zM85.5 199.8h5.25v3.90h-5.25zM85.5 203.4h5.25v3.90h-5.25zM85.5 207.0h5.25v3.90h-5.25zM85.5 210.6h5.25v3.90h-5.25zM85.5 214.2h5.25v3.90h-5.25zM85.5 217.8h5.25v3.90h-5.25zM85.5 221.4h5.25v3.90h-5.25zM85.5 225.0h5.25v3.90h-5.25zM85.5 228.6h5.25v3.90h-5.25zM85.5 232.2h5.25v3.90h-5.25zM85.5 235.8h5.25v3.90h-5.25zM85.5 239.4h5.25v3.90h-5.25zM85.5 243.0h5.25v3.90h-5.25zM85.5 246.6h5.25v3.90h-5.25zM85.5 250.2h5.25v3.90h-5.25zM85.5 253.8h5.25v3.90h-5.25zM85.5 257.4h5.25v3.90h-5.25zM85.5 261.0h5.25v3.90h-5.25zM85.5 264.6h5.25v3.90h-5.25zM85.5 268.2h5.25v3.90h-5.25zM85.5 271.8h5.25v3.90h-5.25zM85.5 275.4h5.25v3.90h-5.25zM85.5 279.0h5.25v3.90h-5.25z"/><path fill="#55b9f5" d="M50.9 181.8h5.25v3.90h-5.25zM50.9 185.4h5.25v3.90h-5.25zM50.9 189.0h5.25v3.90h-5.25zM50.9 192.6h5.25v3.90h-5.25zM50.9 196.2h5.25v3.90h-5.25zM50.9 199.8h5.25v3.90h-5.25zM50.9 203.4h5.25v3.90h-5.25zM50.9 207.0h5.25v3.90h-5.25zM50.9 210.6h5.25v3.90h-5.25zM50.9 214.2h5.25v3.90h-5.25zM50.9 217.8h5.25v3.90h-5.25zM50.9 221.4h5.25v3.90h-5.25zM50.9 225.0h5.25v3.90h-5.25zM50.9 228.6h5.25v3.90h-5.25zM50.9 232.2h5.25v3.90h-5.25zM50.9 235.8h5.25v3.90h-5.25zM50.9 239.4h5.25v3.90h-5.25zM50.9 243.0h5.25v3.90h-5.25zM50.9 246.6h5.25v3.90h-5.25zM50.9 250.2h5.25v3.90h-5.25zM50.9 253.8h5.25v3.90h-5.25zM50.9 257.4h5.25v3.90h-5.25zM50.9 261.0h5.25v3.90h-5.25zM50.9 264.6h5.25v3.90h-5.25z"/><path fill="#4cc4f2" d="M55.8 181.8h5.25v3.90h-5.25zM55.8 185.4h5.25v3.90h-5.25zM55.8 189.0h5.25v3.90h-5.25zM55.8 192.6h5.25v3.90h-5.25zM55.8 196.2h5.25v3.90h-5.25zM55.8 199.8h5.25v3.90h-5.25zM55.8 203.4h5.25v3.90h-5.25zM55.8 207.0h5.25v3.90h-5.25zM55.8 210.6h5.25v3.90h-5.25zM55.8 214.2h5.25v3.90h-5.25zM55.8 217.8h5.25v3.90h-5.25zM55.8 221.4h5.25v3.90h-5.25zM55.8 225.0h5.25v3.90h-5.25zM55.8 228.6h5.25v3.90h-5.25zM55.8 232.2h5.25v3.90h-5.25zM55.8 235.8h5.25v3.90h-5.25zM55.8 239.4h5.25v3.90h-5.25zM55.8 243.0h5.25v3.90h-5.25zM55.8 246.6h5.25v3.90h-5.25zM55.8 250.2h5.25v3.90h-5.25zM55.8 253.8h5.25v3.90h-5.25zM55.8 257.4h5.25v3.90h-5.25zM55.8 261.0h5.25v3.90h-5.25zM55.8 264.6h5.25v3.90h-5.25zM55.8 268.2h5.25v3.90h-5.25zM55.8 271.8h5.25v3.90h-5.25z"/><path fill="#47c9f1" d="M60.8 181.8h5.25v3.90h-5.25zM60.8 185.4h5.25v3.90h-5.25zM60.8 189.0h5.25v3.90h-5.25zM60.8 192.6h5.25v3.90h-5.25zM60.8 196.2h5.25v3.90h-5.25zM60.8 199.8h5.25v3.90h-5.25zM60.8 203.4h5.25v3.90h-5.25zM60.8 207.0h5.25v3.90h-5.25zM60.8 210.6h5.25v3.90h-5.25zM60.8 214.2h5.25v3.90h-5.25zM60.8 217.8h5.25v3.90h-5.25zM60.8 221.4h5.25v3.90h-5.25zM60.8 225.0h5.25v3.90h-5.25zM60.8 228.6h5.25v3.90h-5.25zM60.8 232.2h5.25v3.90h-5.25zM60.8 235.8h5.25v3.90h-5.25zM60.8 239.4h5.25v3.90h-5.25zM60.8 243.0h5.25v3.90h-5.25zM60.8 246.6h5.25v3.90h-5.25zM60.8 250.2h5.25v3.90h-5.25zM60.8 253.8h5.25v3.90h-5.25zM60.8 257.4h5.25v3.90h-5.25zM60.8 261.0h5.25v3.90h-5.25zM60.8 264.6h5.25v3.90h-5.25zM60.8 268.2h5.25v3.90h-5.25zM60.8 271.8h5.25v3.90h-5.25zM60.8 275.4h5.25v3.90h-5.25z"/><path fill="#ff725d" d="M115.2 181.8h5.25v3.90h-5.25zM115.2 185.4h5.25v3.90h-5.25zM115.2 189.0h5.25v3.90h-5.25zM115.2 192.6h5.25v3.90h-5.25zM115.2 196.2h5.25v3.90h-5.25zM115.2 199.8h5.25v3.90h-5.25zM115.2 203.4h5.25v3.90h-5.25zM115.2 207.0h5.25v3.90h-5.25zM115.2 210.6h5.25v3.90h-5.25zM115.2 214.2h5.25v3.90h-5.25zM115.2 217.8h5.25v3.90h-5.25zM115.2 221.4h5.25v3.90h-5.25zM115.2 225.0h5.25v3.90h-5.25zM115.2 228.6h5.25v3.90h-5.25zM115.2 232.2h5.25v3.90h-5.25zM115.2 235.8h5.25v3.90h-5.25zM115.2 239.4h5.25v3.90h-5.25zM115.2 243.0h5.25v3.90h-5.25zM115.2 246.6h5.25v3.90h-5.25zM115.2 250.2h5.25v3.90h-5.25zM115.2 253.8h5.25v3.90h-5.25zM115.2 257.4h5.25v3.90h-5.25zM115.2 261.0h5.25v3.90h-5.25zM115.2 264.6h5.25v3.90h-5.25z"/><path fill="#68a1f9" d="M41.0 185.4h5.25v3.90h-5.25zM41.0 189.0h5.25v3.90h-5.25zM41.0 192.6h5.25v3.90h-5.25zM41.0 196.2h5.25v3.90h-5.25zM41.0 199.8h5.25v3.90h-5.25zM41.0 203.4h5.25v3.90h-5.25zM41.0 207.0h5.25v3.90h-5.25zM41.0 210.6h5.25v3.90h-5.25zM41.0 214.2h5.25v3.90h-5.25zM41.0 217.8h5.25v3.90h-5.25zM41.0 221.4h5.25v3.90h-5.25zM41.0 225.0h5.25v3.90h-5.25zM41.0 228.6h5.25v3.90h-5.25zM41.0 232.2h5.25v3.90h-5.25zM41.0 235.8h5.25v3.90h-5.25zM41.0 239.4h5.25v3.90h-5.25zM41.0 243.0h5.25v3.90h-5.25zM41.0 246.6h5.25v3.90h-5.25zM41.0 250.2h5.25v3.90h-5.25zM41.0 253.8h5.25v3.90h-5.25z"/><path fill="#5eadf7" d="M45.9 185.4h5.25v3.90h-5.25zM45.9 189.0h5.25v3.90h-5.25zM45.9 192.6h5.25v3.90h-5.25zM45.9 196.2h5.25v3.90h-5.25zM45.9 199.8h5.25v3.90h-5.25zM45.9 203.4h5.25v3.90h-5.25zM45.9 207.0h5.25v3.90h-5.25zM45.9 210.6h5.25v3.90h-5.25zM45.9 214.2h5.25v3.90h-5.25zM45.9 217.8h5.25v3.90h-5.25zM45.9 221.4h5.25v3.90h-5.25zM45.9 225.0h5.25v3.90h-5.25zM45.9 228.6h5.25v3.90h-5.25zM45.9 232.2h5.25v3.90h-5.25zM45.9 235.8h5.25v3.90h-5.25zM45.9 239.4h5.25v3.90h-5.25zM45.9 243.0h5.25v3.90h-5.25zM45.9 246.6h5.25v3.90h-5.25zM45.9 250.2h5.25v3.90h-5.25zM45.9 253.8h5.25v3.90h-5.25zM45.9 257.4h5.25v3.90h-5.25z"/><path fill="#7194fb" d="M36.0 192.6h5.25v3.90h-5.25zM36.0 196.2h5.25v3.90h-5.25zM36.0 199.8h5.25v3.90h-5.25zM36.0 203.4h5.25v3.90h-5.25zM36.0 207.0h5.25v3.90h-5.25zM36.0 210.6h5.25v3.90h-5.25zM36.0 214.2h5.25v3.90h-5.25zM36.0 217.8h5.25v3.90h-5.25zM36.0 221.4h5.25v3.90h-5.25zM36.0 225.0h5.25v3.90h-5.25zM36.0 228.6h5.25v3.90h-5.25zM36.0 232.2h5.25v3.90h-5.25zM36.0 235.8h5.25v3.90h-5.25zM36.0 239.4h5.25v3.90h-5.25zM36.0 243.0h5.25v3.90h-5.25zM36.0 246.6h5.25v3.90h-5.25zM36.0 250.2h5.25v3.90h-5.25z"/><path fill="#7a87fc" d="M31.1 196.2h5.25v3.90h-5.25zM31.1 199.8h5.25v3.90h-5.25zM31.1 203.4h5.25v3.90h-5.25zM31.1 207.0h5.25v3.90h-5.25zM31.1 210.6h5.25v3.90h-5.25zM31.1 214.2h5.25v3.90h-5.25zM31.1 217.8h5.25v3.90h-5.25zM31.1 221.4h5.25v3.90h-5.25zM31.1 225.0h5.25v3.90h-5.25zM31.1 228.6h5.25v3.90h-5.25zM31.1 232.2h5.25v3.90h-5.25zM31.1 235.8h5.25v3.90h-5.25zM31.1 239.4h5.25v3.90h-5.25zM31.1 243.0h5.25v3.90h-5.25z"/><path fill="#ff4747" d="M120.2 196.2h5.25v3.90h-5.25zM120.2 199.8h5.25v3.90h-5.25zM125.1 199.8h5.25v3.90h-5.25zM120.2 203.4h5.25v3.90h-5.25zM125.1 203.4h5.25v3.90h-5.25zM120.2 207.0h5.25v3.90h-5.25zM125.1 207.0h5.25v3.90h-5.25zM120.2 210.6h5.25v3.90h-5.25zM125.1 210.6h5.25v3.90h-5.25zM120.2 214.2h5.25v3.90h-5.25zM125.1 214.2h5.25v3.90h-5.25zM120.2 217.8h5.25v3.90h-5.25zM125.1 217.8h5.25v3.90h-5.25zM120.2 221.4h5.25v3.90h-5.25zM125.1 221.4h5.25v3.90h-5.25zM120.2 225.0h5.25v3.90h-5.25zM125.1 225.0h5.25v3.90h-5.25zM120.2 228.6h5.25v3.90h-5.25zM125.1 228.6h5.25v3.90h-5.25zM120.2 232.2h5.25v3.90h-5.25zM125.1 232.2h5.25v3.90h-5.25zM120.2 235.8h5.25v3.90h-5.25zM125.1 235.8h5.25v3.90h-5.25zM120.2 239.4h5.25v3.90h-5.25zM125.1 239.4h5.25v3.90h-5.25zM120.2 243.0h5.25v3.90h-5.25zM125.1 243.0h5.25v3.90h-5.25zM120.2 246.6h5.25v3.90h-5.25zM125.1 246.6h5.25v3.90h-5.25zM120.2 250.2h5.25v3.90h-5.25zM125.1 250.2h5.25v3.90h-5.25zM120.2 253.8h5.25v3.90h-5.25zM125.1 253.8h5.25v3.90h-5.25zM120.2 257.4h5.25v3.90h-5.25z"/><path fill="#8379fd" d="M26.1 203.4h5.25v3.90h-5.25zM26.1 207.0h5.25v3.90h-5.25zM26.1 210.6h5.25v3.90h-5.25zM26.1 214.2h5.25v3.90h-5.25zM26.1 217.8h5.25v3.90h-5.25zM26.1 221.4h5.25v3.90h-5.25zM26.1 225.0h5.25v3.90h-5.25zM26.1 228.6h5.25v3.90h-5.25zM26.1 232.2h5.25v3.90h-5.25zM26.1 235.8h5.25v3.90h-5.25z"/><path fill="#8872fe" d="M21.2 210.6h5.25v3.90h-5.25zM21.2 214.2h5.25v3.90h-5.25zM21.2 217.8h5.25v3.90h-5.25zM21.2 221.4h5.25v3.90h-5.25zM21.2 225.0h5.25v3.90h-5.25z"/></g></g>
<rect x="49.9" y="265.2" width="4.5" height="3.6000000000000227" fill="#59b4f6"/>
<rect x="125.3" y="246" width="4.3999999999999915" height="3.5999999999999943" fill="#ff4747"/>
<rect x="125.3" y="208" width="4.3999999999999915" height="3.5999999999999943" fill="#ff4747"/>
<path fill="#fff" d="M24.8 215.1h5.7v2.5h-5.7zM24.8 221.5h5.7v2.5h-5.7z"/>
<path d="M33.80 215.70C33.97 214.22 35.17 213.32 36.80 211.70C38.43 210.08 41.27 208.82 43.60 206.00C45.93 203.18 48.10 197.87 50.80 194.80C53.50 191.73 56.20 189.70 59.80 187.60C63.40 185.50 67.90 183.70 72.40 182.20C76.90 180.70 82.30 179.50 86.80 178.60C91.30 177.70 95.80 176.65 99.40 176.80C103.00 176.95 105.70 178.00 108.40 179.50C111.10 181.00 113.65 183.25 115.60 185.80C117.55 188.35 118.90 190.60 120.10 194.80C121.30 199.00 122.23 205.13 122.80 211.00C123.37 216.87 123.65 225.17 123.50 230.00C123.35 234.83 122.62 236.53 121.90 240.00C121.18 243.47 120.25 247.65 119.20 250.80C118.15 253.95 117.40 256.20 115.60 258.90C113.80 261.60 110.80 265.05 108.40 267.00C106.00 268.95 103.90 270.15 101.20 270.60C98.50 271.05 94.90 270.15 92.20 269.70C89.50 269.25 86.50 268.80 85.00 267.90C83.50 267.00 83.95 264.30 83.20 264.30C82.45 264.30 82.30 267.45 80.50 267.90C78.70 268.35 75.25 267.75 72.40 267.00C69.55 266.25 66.10 264.90 63.40 263.40C60.70 261.90 58.60 260.40 56.20 258.00C53.80 255.60 50.60 251.97 49.00 249.00C47.40 246.03 47.33 242.65 46.60 240.20C45.87 237.75 45.58 236.42 44.60 234.30C43.62 232.18 42.17 229.78 40.70 227.50C39.23 225.22 36.95 222.57 35.80 220.60C34.65 218.63 33.63 217.18 33.80 215.70Z" fill="none" stroke="#fff" stroke-width="0.75" stroke-opacity="0.95"/>
<path d="M44.60 214.70C44.93 213.38 47.45 213.02 48.60 211.70C49.75 210.38 49.63 209.92 51.50 206.80C53.37 203.68 56.92 196.50 59.80 193.00C62.68 189.50 66.10 187.15 68.80 185.80C71.50 184.45 72.70 185.50 76.00 184.90C79.30 184.30 84.70 182.80 88.60 182.20C92.50 181.60 96.10 181.00 99.40 181.30C102.70 181.60 105.70 182.05 108.40 184.00C111.10 185.95 113.80 188.50 115.60 193.00C117.40 197.50 118.47 205.67 119.20 211.00C119.93 216.33 120.00 220.17 120.00 225.00C120.00 229.83 119.78 236.00 119.20 240.00C118.62 244.00 117.85 246.15 116.50 249.00C115.15 251.85 113.35 254.85 111.10 257.10C108.85 259.35 106.45 261.60 103.00 262.50C99.55 263.40 94.90 262.95 90.40 262.50C85.90 262.05 80.20 261.15 76.00 259.80C71.80 258.45 68.20 256.50 65.20 254.40C62.20 252.30 59.95 249.60 58.00 247.20C56.05 244.80 55.07 242.47 53.50 240.00C51.93 237.53 49.75 234.65 48.60 232.40C47.45 230.15 46.93 228.63 46.60 226.50C46.27 224.37 46.93 221.57 46.60 219.60C46.27 217.63 44.27 216.02 44.60 214.70Z" fill="none" stroke="#fff" stroke-width="0.75" stroke-opacity="0.95"/>
<path d="M63.30 216.60C63.58 213.98 64.55 211.07 66.00 208.80C67.45 206.53 69.13 204.73 72.00 203.00C74.87 201.27 79.83 199.77 83.20 198.40C86.57 197.03 89.20 195.70 92.20 194.80C95.20 193.90 98.50 192.85 101.20 193.00C103.90 193.15 106.45 193.90 108.40 195.70C110.35 197.50 111.97 200.58 112.90 203.80C113.83 207.02 113.82 210.97 114.00 215.00C114.18 219.03 114.08 223.83 114.00 228.00C113.92 232.17 114.28 236.50 113.50 240.00C112.72 243.50 111.35 246.90 109.30 249.00C107.25 251.10 104.95 252.00 101.20 252.60C97.45 253.20 91.00 253.20 86.80 252.60C82.60 252.00 79.13 250.93 76.00 249.00C72.87 247.07 69.75 243.83 68.00 241.00C66.25 238.17 66.12 234.75 65.50 232.00C64.88 229.25 64.67 227.07 64.30 224.50C63.93 221.93 63.02 219.22 63.30 216.60Z" fill="none" stroke="#fff" stroke-width="0.75" stroke-opacity="0.95"/>
<path d="M79.50 206.00C78.65 208.12 81.00 211.28 80.90 214.70C80.80 218.12 78.25 222.90 78.90 226.50C79.55 230.10 82.18 233.85 84.80 236.30C87.42 238.75 91.40 240.25 94.60 241.20C97.80 242.15 101.60 242.87 104.00 242.00C106.40 241.13 107.92 239.33 109.00 236.00C110.08 232.67 110.50 226.67 110.50 222.00C110.50 217.33 110.08 211.58 109.00 208.00C107.92 204.42 106.33 201.92 104.00 200.50C101.67 199.08 98.00 199.25 95.00 199.50C92.00 199.75 88.58 200.92 86.00 202.00C83.42 203.08 80.35 203.88 79.50 206.00Z" fill="none" stroke="#fff" stroke-width="0.75" stroke-opacity="0.95"/>
<g shape-rendering="crispEdges"><path fill="#71eee2" d="M257.0 171.1h1.99v2.96h-1.99zM258.7 184.4h1.99v2.96h-1.99zM257.0 187.0h1.99v2.96h-1.99zM258.7 187.0h1.99v2.96h-1.99zM260.4 187.0h1.99v2.96h-1.99zM257.0 192.3h1.99v2.96h-1.99zM257.0 200.3h1.99v2.96h-1.99zM258.7 200.3h1.99v2.96h-1.99zM257.0 205.6h1.99v2.96h-1.99zM258.7 213.6h1.99v2.96h-1.99zM260.4 218.9h1.99v2.96h-1.99zM260.4 221.6h1.99v2.96h-1.99zM257.0 224.3h1.99v2.96h-1.99zM258.7 226.9h1.99v2.96h-1.99zM258.7 232.2h1.99v2.96h-1.99zM258.7 237.6h1.99v2.96h-1.99zM258.7 242.9h1.99v2.96h-1.99zM257.0 245.5h1.99v2.96h-1.99zM257.0 248.2h1.99v2.96h-1.99zM258.7 248.2h1.99v2.96h-1.99zM260.4 248.2h1.99v2.96h-1.99zM257.0 250.9h1.99v2.96h-1.99zM258.7 250.9h1.99v2.96h-1.99zM257.0 253.5h1.99v2.96h-1.99zM260.4 253.5h1.99v2.96h-1.99zM258.7 256.2h1.99v2.96h-1.99z"/><path fill="#7af4de" d="M260.4 171.1h1.99v2.96h-1.99zM258.7 173.7h1.99v2.96h-1.99zM260.4 176.4h1.99v2.96h-1.99zM258.7 181.7h1.99v2.96h-1.99zM260.4 184.4h1.99v2.96h-1.99zM262.1 197.7h1.99v2.96h-1.99zM262.1 203.0h1.99v2.96h-1.99zM258.7 205.6h1.99v2.96h-1.99zM260.4 205.6h1.99v2.96h-1.99zM262.1 205.6h1.99v2.96h-1.99zM258.7 208.3h1.99v2.96h-1.99zM260.4 213.6h1.99v2.96h-1.99zM262.1 216.3h1.99v2.96h-1.99zM258.7 218.9h1.99v2.96h-1.99zM262.1 218.9h1.99v2.96h-1.99zM263.8 221.6h1.99v2.96h-1.99zM262.1 226.9h1.99v2.96h-1.99zM260.4 229.6h1.99v2.96h-1.99zM262.1 229.6h1.99v2.96h-1.99zM258.7 240.2h1.99v2.96h-1.99zM260.4 242.9h1.99v2.96h-1.99zM262.1 256.2h1.99v2.96h-1.99zM258.7 258.8h1.99v2.96h-1.99zM262.1 258.8h1.99v2.96h-1.99zM262.1 261.5h1.99v2.96h-1.99zM260.4 272.1h1.99v2.96h-1.99z"/><path fill="#a3ffc9" d="M267.1 171.1h1.99v2.96h-1.99zM268.8 171.1h1.99v2.96h-1.99zM268.8 179.0h1.99v2.96h-1.99zM267.1 181.7h1.99v2.96h-1.99zM267.1 187.0h1.99v2.96h-1.99zM268.8 189.7h1.99v2.96h-1.99zM268.8 208.3h1.99v2.96h-1.99zM268.8 216.3h1.99v2.96h-1.99zM267.1 218.9h1.99v2.96h-1.99zM267.1 221.6h1.99v2.96h-1.99zM267.1 226.9h1.99v2.96h-1.99zM268.8 232.2h1.99v2.96h-1.99zM267.1 237.6h1.99v2.96h-1.99zM268.8 242.9h1.99v2.96h-1.99zM267.1 245.5h1.99v2.96h-1.99zM267.1 250.9h1.99v2.96h-1.99zM270.5 250.9h1.99v2.96h-1.99zM270.5 253.5h1.99v2.96h-1.99zM270.5 258.8h1.99v2.96h-1.99z"/><path fill="#bffab9" d="M272.2 171.1h1.99v2.96h-1.99zM272.2 187.0h1.99v2.96h-1.99zM272.2 200.3h1.99v2.96h-1.99zM272.2 211.0h1.99v2.96h-1.99zM272.2 213.6h1.99v2.96h-1.99zM272.2 216.3h1.99v2.96h-1.99zM272.2 242.9h1.99v2.96h-1.99zM272.2 258.8h1.99v2.96h-1.99zM272.2 261.5h1.99v2.96h-1.99zM272.2 269.5h1.99v2.96h-1.99z"/><path fill="#d1f1ad" d="M273.9 171.1h1.99v2.96h-1.99zM273.9 184.4h1.99v2.96h-1.99zM273.9 205.6h1.99v2.96h-1.99zM273.9 242.9h1.99v2.96h-1.99zM273.9 250.9h1.99v2.96h-1.99z"/><path fill="#ffa779" d="M280.6 171.1h1.99v2.96h-1.99zM280.6 224.3h1.99v2.96h-1.99zM280.6 237.6h1.99v2.96h-1.99zM280.6 240.2h1.99v2.96h-1.99zM280.6 261.5h1.99v2.96h-1.99zM280.6 269.5h1.99v2.96h-1.99z"/><path fill="#55b9f5" d="M245.2 173.7h1.99v2.96h-1.99zM245.2 184.4h1.99v2.96h-1.99zM240.1 195.0h1.99v2.96h-1.99zM241.8 195.0h1.99v2.96h-1.99zM241.8 200.3h1.99v2.96h-1.99zM241.8 203.0h1.99v2.96h-1.99zM241.8 213.6h1.99v2.96h-1.99zM246.8 213.6h1.99v2.96h-1.99zM241.8 218.9h1.99v2.96h-1.99zM245.2 218.9h1.99v2.96h-1.99zM240.1 221.6h1.99v2.96h-1.99zM246.8 224.3h1.99v2.96h-1.99zM241.8 226.9h1.99v2.96h-1.99zM246.8 226.9h1.99v2.96h-1.99zM240.1 232.2h1.99v2.96h-1.99zM245.2 234.9h1.99v2.96h-1.99zM243.5 237.6h1.99v2.96h-1.99zM241.8 242.9h1.99v2.96h-1.99zM245.2 242.9h1.99v2.96h-1.99zM241.8 248.2h1.99v2.96h-1.99zM245.2 248.2h1.99v2.96h-1.99zM240.1 253.5h1.99v2.96h-1.99zM246.8 256.2h1.99v2.96h-1.99zM241.8 258.8h1.99v2.96h-1.99zM243.5 258.8h1.99v2.96h-1.99z"/><path fill="#a8ffc7" d="M268.8 173.7h1.99v2.96h-1.99zM270.5 173.7h1.99v2.96h-1.99zM270.5 181.7h1.99v2.96h-1.99zM270.5 187.0h1.99v2.96h-1.99zM268.8 200.3h1.99v2.96h-1.99zM270.5 203.0h1.99v2.96h-1.99zM270.5 205.6h1.99v2.96h-1.99zM268.8 211.0h1.99v2.96h-1.99zM268.8 213.6h1.99v2.96h-1.99zM270.5 213.6h1.99v2.96h-1.99zM268.8 224.3h1.99v2.96h-1.99zM270.5 232.2h1.99v2.96h-1.99zM268.8 245.5h1.99v2.96h-1.99zM268.8 248.2h1.99v2.96h-1.99zM270.5 248.2h1.99v2.96h-1.99zM268.8 250.9h1.99v2.96h-1.99zM268.8 256.2h1.99v2.96h-1.99zM268.8 274.8h1.99v2.96h-1.99zM270.5 277.5h1.99v2.96h-1.99z"/><path fill="#b6fdbf" d="M272.2 173.7h1.99v2.96h-1.99zM272.2 181.7h1.99v2.96h-1.99zM270.5 192.3h1.99v2.96h-1.99zM270.5 195.0h1.99v2.96h-1.99zM272.2 205.6h1.99v2.96h-1.99zM270.5 208.3h1.99v2.96h-1.99zM270.5 221.6h1.99v2.96h-1.99zM270.5 234.9h1.99v2.96h-1.99zM270.5 237.6h1.99v2.96h-1.99zM272.2 237.6h1.99v2.96h-1.99zM272.2 250.9h1.99v2.96h-1.99zM272.2 266.8h1.99v2.96h-1.99zM270.5 274.8h1.99v2.96h-1.99z"/><path fill="#c3f8b6" d="M273.9 173.7h1.99v2.96h-1.99zM273.9 187.0h1.99v2.96h-1.99zM272.2 224.3h1.99v2.96h-1.99zM272.2 229.6h1.99v2.96h-1.99zM272.2 232.2h1.99v2.96h-1.99zM272.2 240.2h1.99v2.96h-1.99zM272.2 256.2h1.99v2.96h-1.99zM273.9 261.5h1.99v2.96h-1.99zM273.9 264.2h1.99v2.96h-1.99zM272.2 272.1h1.99v2.96h-1.99z"/><path fill="#d6eeaa" d="M275.6 173.7h1.99v2.96h-1.99zM275.6 195.0h1.99v2.96h-1.99zM273.9 197.7h1.99v2.96h-1.99zM275.6 203.0h1.99v2.96h-1.99zM273.9 218.9h1.99v2.96h-1.99zM275.6 218.9h1.99v2.96h-1.99zM273.9 224.3h1.99v2.96h-1.99zM275.6 224.3h1.99v2.96h-1.99zM275.6 232.2h1.99v2.96h-1.99zM275.6 237.6h1.99v2.96h-1.99zM275.6 240.2h1.99v2.96h-1.99zM273.9 248.2h1.99v2.96h-1.99zM275.6 256.2h1.99v2.96h-1.99zM273.9 258.8h1.99v2.96h-1.99zM275.6 261.5h1.99v2.96h-1.99zM275.6 266.8h1.99v2.96h-1.99z"/><path fill="#eddc9b" d="M277.3 173.7h1.99v2.96h-1.99zM277.3 195.0h1.99v2.96h-1.99zM277.3 216.3h1.99v2.96h-1.99zM277.3 221.6h1.99v2.96h-1.99zM277.3 258.8h1.99v2.96h-1.99z"/><path fill="#ffb984" d="M279.0 173.7h1.99v2.96h-1.99zM280.6 179.0h1.99v2.96h-1.99zM279.0 195.0h1.99v2.96h-1.99zM280.6 208.3h1.99v2.96h-1.99zM279.0 211.0h1.99v2.96h-1.99zM280.6 211.0h1.99v2.96h-1.99zM280.6 226.9h1.99v2.96h-1.99zM280.6 250.9h1.99v2.96h-1.99zM280.6 264.2h1.99v2.96h-1.99z"/><path fill="#ff9b72" d="M282.3 173.7h1.99v2.96h-1.99zM282.3 181.7h1.99v2.96h-1.99zM282.3 211.0h1.99v2.96h-1.99zM282.3 237.6h1.99v2.96h-1.99zM282.3 248.2h1.99v2.96h-1.99z"/><path fill="#68a1f9" d="M241.8 176.4h1.99v2.96h-1.99zM240.1 192.3h1.99v2.96h-1.99zM241.8 192.3h1.99v2.96h-1.99zM235.0 203.0h1.99v2.96h-1.99zM238.4 203.0h1.99v2.96h-1.99zM236.7 205.6h1.99v2.96h-1.99zM233.3 208.3h1.99v2.96h-1.99zM235.0 211.0h1.99v2.96h-1.99zM240.1 213.6h1.99v2.96h-1.99zM235.0 218.9h1.99v2.96h-1.99zM241.8 221.6h1.99v2.96h-1.99zM240.1 224.3h1.99v2.96h-1.99zM236.7 226.9h1.99v2.96h-1.99zM240.1 226.9h1.99v2.96h-1.99zM236.7 229.6h1.99v2.96h-1.99zM233.3 237.6h1.99v2.96h-1.99zM231.6 240.2h1.99v2.96h-1.99zM240.1 240.2h1.99v2.96h-1.99zM238.4 242.9h1.99v2.96h-1.99zM233.3 245.5h1.99v2.96h-1.99zM233.3 250.9h1.99v2.96h-1.99zM238.4 253.5h1.99v2.96h-1.99zM236.7 256.2h1.99v2.96h-1.99z"/><path fill="#63e4e8" d="M257.0 176.4h1.99v2.96h-1.99zM257.0 184.4h1.99v2.96h-1.99zM253.6 195.0h1.99v2.96h-1.99zM257.0 197.7h1.99v2.96h-1.99zM255.3 200.3h1.99v2.96h-1.99zM258.7 203.0h1.99v2.96h-1.99zM255.3 208.3h1.99v2.96h-1.99zM257.0 213.6h1.99v2.96h-1.99zM255.3 216.3h1.99v2.96h-1.99zM255.3 221.6h1.99v2.96h-1.99zM253.6 224.3h1.99v2.96h-1.99zM253.6 229.6h1.99v2.96h-1.99zM255.3 242.9h1.99v2.96h-1.99zM253.6 256.2h1.99v2.96h-1.99zM255.3 256.2h1.99v2.96h-1.99z"/><path fill="#68e8e6" d="M258.7 176.4h1.99v2.96h-1.99zM255.3 179.0h1.99v2.96h-1.99zM257.0 181.7h1.99v2.96h-1.99zM253.6 187.0h1.99v2.96h-1.99zM258.7 189.7h1.99v2.96h-1.99zM258.7 192.3h1.99v2.96h-1.99zM255.3 197.7h1.99v2.96h-1.99zM257.0 208.3h1.99v2.96h-1.99zM258.7 216.3h1.99v2.96h-1.99zM253.6 221.6h1.99v2.96h-1.99zM258.7 224.3h1.99v2.96h-1.99zM257.0 226.9h1.99v2.96h-1.99zM257.0 229.6h1.99v2.96h-1.99zM253.6 242.9h1.99v2.96h-1.99zM258.7 245.5h1.99v2.96h-1.99zM255.3 250.9h1.99v2.96h-1.99zM255.3 258.8h1.99v2.96h-1.99zM257.0 258.8h1.99v2.96h-1.99zM257.0 264.2h1.99v2.96h-1.99zM258.7 264.2h1.99v2.96h-1.99zM255.3 269.5h1.99v2.96h-1.99zM257.0 272.1h1.99v2.96h-1.99zM258.7 272.1h1.99v2.96h-1.99zM255.3 274.8h1.99v2.96h-1.99z"/><path fill="#95fed1" d="M265.4 176.4h1.99v2.96h-1.99zM267.1 192.3h1.99v2.96h-1.99zM265.4 195.0h1.99v2.96h-1.99zM267.1 208.3h1.99v2.96h-1.99zM265.4 224.3h1.99v2.96h-1.99zM267.1 232.2h1.99v2.96h-1.99zM267.1 242.9h1.99v2.96h-1.99zM267.1 248.2h1.99v2.96h-1.99zM265.4 250.9h1.99v2.96h-1.99zM265.4 258.8h1.99v2.96h-1.99zM265.4 261.5h1.99v2.96h-1.99zM267.1 264.2h1.99v2.96h-1.99zM265.4 269.5h1.99v2.96h-1.99zM265.4 272.1h1.99v2.96h-1.99zM267.1 272.1h1.99v2.96h-1.99z"/><path fill="#91fdd3" d="M267.1 176.4h1.99v2.96h-1.99zM265.4 179.0h1.99v2.96h-1.99zM265.4 200.3h1.99v2.96h-1.99zM265.4 203.0h1.99v2.96h-1.99zM267.1 203.0h1.99v2.96h-1.99zM267.1 205.6h1.99v2.96h-1.99zM263.8 208.3h1.99v2.96h-1.99zM265.4 211.0h1.99v2.96h-1.99zM265.4 213.6h1.99v2.96h-1.99zM267.1 224.3h1.99v2.96h-1.99zM267.1 234.9h1.99v2.96h-1.99zM265.4 248.2h1.99v2.96h-1.99zM263.8 253.5h1.99v2.96h-1.99zM267.1 253.5h1.99v2.96h-1.99z"/><path fill="#acfec4" d="M268.8 176.4h1.99v2.96h-1.99zM268.8 184.4h1.99v2.96h-1.99zM268.8 187.0h1.99v2.96h-1.99zM270.5 189.7h1.99v2.96h-1.99zM270.5 197.7h1.99v2.96h-1.99zM268.8 205.6h1.99v2.96h-1.99zM268.8 218.9h1.99v2.96h-1.99zM270.5 218.9h1.99v2.96h-1.99zM270.5 224.3h1.99v2.96h-1.99zM268.8 226.9h1.99v2.96h-1.99zM268.8 229.6h1.99v2.96h-1.99zM268.8 240.2h1.99v2.96h-1.99zM268.8 253.5h1.99v2.96h-1.99zM268.8 258.8h1.99v2.96h-1.99zM268.8 261.5h1.99v2.96h-1.99zM270.5 269.5h1.99v2.96h-1.99zM268.8 272.1h1.99v2.96h-1.99z"/><path fill="#c8f6b3" d="M273.9 176.4h1.99v2.96h-1.99zM272.2 179.0h1.99v2.96h-1.99zM273.9 181.7h1.99v2.96h-1.99zM272.2 184.4h1.99v2.96h-1.99zM273.9 189.7h1.99v2.96h-1.99zM272.2 192.3h1.99v2.96h-1.99zM273.9 192.3h1.99v2.96h-1.99zM273.9 195.0h1.99v2.96h-1.99zM272.2 203.0h1.99v2.96h-1.99zM273.9 208.3h1.99v2.96h-1.99zM273.9 216.3h1.99v2.96h-1.99zM272.2 218.9h1.99v2.96h-1.99zM272.2 221.6h1.99v2.96h-1.99zM273.9 221.6h1.99v2.96h-1.99zM272.2 226.9h1.99v2.96h-1.99zM273.9 234.9h1.99v2.96h-1.99zM273.9 237.6h1.99v2.96h-1.99zM273.9 240.2h1.99v2.96h-1.99zM272.2 248.2h1.99v2.96h-1.99zM273.9 253.5h1.99v2.96h-1.99zM272.2 264.2h1.99v2.96h-1.99zM273.9 269.5h1.99v2.96h-1.99zM272.2 274.8h1.99v2.96h-1.99z"/><path fill="#f6d394" d="M277.3 176.4h1.99v2.96h-1.99zM277.3 211.0h1.99v2.96h-1.99zM279.0 213.6h1.99v2.96h-1.99zM277.3 218.9h1.99v2.96h-1.99zM277.3 224.3h1.99v2.96h-1.99zM279.0 229.6h1.99v2.96h-1.99zM277.3 232.2h1.99v2.96h-1.99zM277.3 237.6h1.99v2.96h-1.99zM277.3 240.2h1.99v2.96h-1.99zM277.3 253.5h1.99v2.96h-1.99zM277.3 264.2h1.99v2.96h-1.99zM277.3 266.8h1.99v2.96h-1.99z"/><path fill="#5eadf7" d="M241.8 179.0h1.99v2.96h-1.99zM241.8 189.7h1.99v2.96h-1.99zM238.4 200.3h1.99v2.96h-1.99zM236.7 203.0h1.99v2.96h-1.99zM240.1 205.6h1.99v2.96h-1.99zM240.1 208.3h1.99v2.96h-1.99zM243.5 213.6h1.99v2.96h-1.99zM238.4 216.3h1.99v2.96h-1.99zM240.1 216.3h1.99v2.96h-1.99zM241.8 216.3h1.99v2.96h-1.99zM243.5 216.3h1.99v2.96h-1.99zM238.4 221.6h1.99v2.96h-1.99zM243.5 221.6h1.99v2.96h-1.99zM245.2 221.6h1.99v2.96h-1.99zM241.8 224.3h1.99v2.96h-1.99zM243.5 226.9h1.99v2.96h-1.99zM245.2 229.6h1.99v2.96h-1.99zM236.7 234.9h1.99v2.96h-1.99zM240.1 237.6h1.99v2.96h-1.99zM241.8 237.6h1.99v2.96h-1.99zM243.5 242.9h1.99v2.96h-1.99zM236.7 245.5h1.99v2.96h-1.99zM243.5 245.5h1.99v2.96h-1.99zM240.1 256.2h1.99v2.96h-1.99zM243.5 256.2h1.99v2.96h-1.99z"/><path fill="#4cc4f2" d="M245.2 179.0h1.99v2.96h-1.99zM243.5 184.4h1.99v2.96h-1.99zM246.8 192.3h1.99v2.96h-1.99zM248.5 192.3h1.99v2.96h-1.99zM248.5 195.0h1.99v2.96h-1.99zM250.2 195.0h1.99v2.96h-1.99zM243.5 197.7h1.99v2.96h-1.99zM248.5 197.7h1.99v2.96h-1.99zM246.8 203.0h1.99v2.96h-1.99zM248.5 203.0h1.99v2.96h-1.99zM250.2 203.0h1.99v2.96h-1.99zM248.5 205.6h1.99v2.96h-1.99zM246.8 211.0h1.99v2.96h-1.99zM248.5 226.9h1.99v2.96h-1.99zM243.5 234.9h1.99v2.96h-1.99zM245.2 237.6h1.99v2.96h-1.99zM245.2 245.5h1.99v2.96h-1.99zM246.8 248.2h1.99v2.96h-1.99zM245.2 250.9h1.99v2.96h-1.99zM246.8 250.9h1.99v2.96h-1.99zM245.2 253.5h1.99v2.96h-1.99zM245.2 256.2h1.99v2.96h-1.99zM248.5 256.2h1.99v2.96h-1.99z"/><path fill="#5adceb" d="M253.6 179.0h1.99v2.96h-1.99zM255.3 181.7h1.99v2.96h-1.99zM253.6 184.4h1.99v2.96h-1.99zM255.3 184.4h1.99v2.96h-1.99zM255.3 187.0h1.99v2.96h-1.99zM253.6 189.7h1.99v2.96h-1.99zM251.9 197.7h1.99v2.96h-1.99zM251.9 203.0h1.99v2.96h-1.99zM253.6 203.0h1.99v2.96h-1.99zM255.3 203.0h1.99v2.96h-1.99zM253.6 211.0h1.99v2.96h-1.99zM253.6 213.6h1.99v2.96h-1.99zM255.3 224.3h1.99v2.96h-1.99zM255.3 229.6h1.99v2.96h-1.99zM255.3 232.2h1.99v2.96h-1.99zM253.6 240.2h1.99v2.96h-1.99zM255.3 245.5h1.99v2.96h-1.99zM250.2 248.2h1.99v2.96h-1.99zM255.3 248.2h1.99v2.96h-1.99zM251.9 250.9h1.99v2.96h-1.99zM251.9 258.8h1.99v2.96h-1.99zM253.6 258.8h1.99v2.96h-1.99zM253.6 261.5h1.99v2.96h-1.99zM255.3 261.5h1.99v2.96h-1.99zM250.2 264.2h1.99v2.96h-1.99zM253.6 264.2h1.99v2.96h-1.99zM253.6 266.8h1.99v2.96h-1.99z"/><path fill="#6cebe4" d="M257.0 179.0h1.99v2.96h-1.99zM258.7 179.0h1.99v2.96h-1.99zM255.3 189.7h1.99v2.96h-1.99zM260.4 189.7h1.99v2.96h-1.99zM258.7 195.0h1.99v2.96h-1.99zM260.4 197.7h1.99v2.96h-1.99zM257.0 203.0h1.99v2.96h-1.99zM260.4 203.0h1.99v2.96h-1.99zM255.3 205.6h1.99v2.96h-1.99zM255.3 211.0h1.99v2.96h-1.99zM257.0 211.0h1.99v2.96h-1.99zM258.7 211.0h1.99v2.96h-1.99zM255.3 213.6h1.99v2.96h-1.99zM255.3 218.9h1.99v2.96h-1.99zM257.0 218.9h1.99v2.96h-1.99zM258.7 221.6h1.99v2.96h-1.99zM255.3 226.9h1.99v2.96h-1.99zM258.7 229.6h1.99v2.96h-1.99zM258.7 234.9h1.99v2.96h-1.99zM260.4 234.9h1.99v2.96h-1.99zM260.4 240.2h1.99v2.96h-1.99zM260.4 245.5h1.99v2.96h-1.99zM255.3 253.5h1.99v2.96h-1.99zM257.0 261.5h1.99v2.96h-1.99zM258.7 261.5h1.99v2.96h-1.99zM258.7 266.8h1.99v2.96h-1.99zM257.0 269.5h1.99v2.96h-1.99zM260.4 269.5h1.99v2.96h-1.99z"/><path fill="#75f1e0" d="M260.4 179.0h1.99v2.96h-1.99zM262.1 187.0h1.99v2.96h-1.99zM262.1 189.7h1.99v2.96h-1.99zM260.4 192.3h1.99v2.96h-1.99zM262.1 192.3h1.99v2.96h-1.99zM257.0 195.0h1.99v2.96h-1.99zM260.4 195.0h1.99v2.96h-1.99zM258.7 197.7h1.99v2.96h-1.99zM260.4 200.3h1.99v2.96h-1.99zM262.1 200.3h1.99v2.96h-1.99zM262.1 208.3h1.99v2.96h-1.99zM257.0 221.6h1.99v2.96h-1.99zM257.0 232.2h1.99v2.96h-1.99zM262.1 245.5h1.99v2.96h-1.99zM262.1 248.2h1.99v2.96h-1.99zM260.4 250.9h1.99v2.96h-1.99zM262.1 250.9h1.99v2.96h-1.99zM258.7 253.5h1.99v2.96h-1.99zM262.1 253.5h1.99v2.96h-1.99zM257.0 256.2h1.99v2.96h-1.99zM260.4 256.2h1.99v2.96h-1.99zM260.4 261.5h1.99v2.96h-1.99zM262.1 266.8h1.99v2.96h-1.99zM258.7 269.5h1.99v2.96h-1.99z"/><path fill="#83f8da" d="M262.1 179.0h1.99v2.96h-1.99zM263.8 179.0h1.99v2.96h-1.99zM263.8 184.4h1.99v2.96h-1.99zM260.4 211.0h1.99v2.96h-1.99zM262.1 213.6h1.99v2.96h-1.99zM263.8 226.9h1.99v2.96h-1.99zM262.1 232.2h1.99v2.96h-1.99zM262.1 234.9h1.99v2.96h-1.99zM262.1 237.6h1.99v2.96h-1.99zM263.8 237.6h1.99v2.96h-1.99zM263.8 242.9h1.99v2.96h-1.99zM263.8 245.5h1.99v2.96h-1.99zM263.8 248.2h1.99v2.96h-1.99zM263.8 250.9h1.99v2.96h-1.99zM260.4 258.8h1.99v2.96h-1.99zM263.8 258.8h1.99v2.96h-1.99zM262.1 269.5h1.99v2.96h-1.99zM263.8 274.8h1.99v2.96h-1.99z"/><path fill="#9fffcc" d="M267.1 179.0h1.99v2.96h-1.99zM267.1 184.4h1.99v2.96h-1.99zM268.8 192.3h1.99v2.96h-1.99zM267.1 195.0h1.99v2.96h-1.99zM268.8 195.0h1.99v2.96h-1.99zM268.8 197.7h1.99v2.96h-1.99zM267.1 200.3h1.99v2.96h-1.99zM268.8 203.0h1.99v2.96h-1.99zM267.1 229.6h1.99v2.96h-1.99zM268.8 234.9h1.99v2.96h-1.99zM268.8 237.6h1.99v2.96h-1.99zM267.1 266.8h1.99v2.96h-1.99zM268.8 266.8h1.99v2.96h-1.99zM268.8 277.5h1.99v2.96h-1.99z"/><path fill="#bafbbc" d="M270.5 179.0h1.99v2.96h-1.99zM272.2 189.7h1.99v2.96h-1.99zM272.2 195.0h1.99v2.96h-1.99zM272.2 197.7h1.99v2.96h-1.99zM272.2 208.3h1.99v2.96h-1.99zM270.5 216.3h1.99v2.96h-1.99zM272.2 234.9h1.99v2.96h-1.99zM270.5 245.5h1.99v2.96h-1.99zM272.2 245.5h1.99v2.96h-1.99zM272.2 253.5h1.99v2.96h-1.99zM270.5 256.2h1.99v2.96h-1.99zM270.5 261.5h1.99v2.96h-1.99zM270.5 264.2h1.99v2.96h-1.99z"/><path fill="#dfe8a4" d="M275.6 179.0h1.99v2.96h-1.99zM275.6 187.0h1.99v2.96h-1.99zM275.6 189.7h1.99v2.96h-1.99zM275.6 213.6h1.99v2.96h-1.99zM275.6 216.3h1.99v2.96h-1.99zM275.6 258.8h1.99v2.96h-1.99zM275.6 264.2h1.99v2.96h-1.99z"/><path fill="#47c9f1" d="M250.2 181.7h1.99v2.96h-1.99zM248.5 184.4h1.99v2.96h-1.99zM246.8 187.0h1.99v2.96h-1.99zM248.5 187.0h1.99v2.96h-1.99zM246.8 189.7h1.99v2.96h-1.99zM250.2 189.7h1.99v2.96h-1.99zM245.2 195.0h1.99v2.96h-1.99zM250.2 197.7h1.99v2.96h-1.99zM246.8 200.3h1.99v2.96h-1.99zM248.5 200.3h1.99v2.96h-1.99zM250.2 208.3h1.99v2.96h-1.99zM250.2 211.0h1.99v2.96h-1.99zM250.2 213.6h1.99v2.96h-1.99zM246.8 216.3h1.99v2.96h-1.99zM250.2 221.6h1.99v2.96h-1.99zM248.5 232.2h1.99v2.96h-1.99zM246.8 237.6h1.99v2.96h-1.99zM250.2 240.2h1.99v2.96h-1.99zM246.8 245.5h1.99v2.96h-1.99zM248.5 248.2h1.99v2.96h-1.99zM250.2 253.5h1.99v2.96h-1.99zM246.8 258.8h1.99v2.96h-1.99zM248.5 258.8h1.99v2.96h-1.99zM246.8 264.2h1.99v2.96h-1.99zM248.5 269.5h1.99v2.96h-1.99z"/><path fill="#5ee0e9" d="M253.6 181.7h1.99v2.96h-1.99zM251.9 187.0h1.99v2.96h-1.99zM253.6 192.3h1.99v2.96h-1.99zM255.3 192.3h1.99v2.96h-1.99zM251.9 195.0h1.99v2.96h-1.99zM255.3 195.0h1.99v2.96h-1.99zM251.9 205.6h1.99v2.96h-1.99zM253.6 205.6h1.99v2.96h-1.99zM253.6 208.3h1.99v2.96h-1.99zM257.0 216.3h1.99v2.96h-1.99zM251.9 218.9h1.99v2.96h-1.99zM251.9 224.3h1.99v2.96h-1.99zM253.6 232.2h1.99v2.96h-1.99zM255.3 234.9h1.99v2.96h-1.99zM257.0 234.9h1.99v2.96h-1.99zM255.3 237.6h1.99v2.96h-1.99zM257.0 237.6h1.99v2.96h-1.99zM255.3 240.2h1.99v2.96h-1.99zM257.0 240.2h1.99v2.96h-1.99zM251.9 242.9h1.99v2.96h-1.99zM257.0 242.9h1.99v2.96h-1.99zM253.6 245.5h1.99v2.96h-1.99zM253.6 250.9h1.99v2.96h-1.99zM251.9 253.5h1.99v2.96h-1.99zM251.9 256.2h1.99v2.96h-1.99zM255.3 264.2h1.99v2.96h-1.99zM255.3 266.8h1.99v2.96h-1.99zM257.0 266.8h1.99v2.96h-1.99zM253.6 269.5h1.99v2.96h-1.99z"/><path fill="#7ef6dc" d="M260.4 181.7h1.99v2.96h-1.99zM263.8 187.0h1.99v2.96h-1.99zM263.8 189.7h1.99v2.96h-1.99zM263.8 200.3h1.99v2.96h-1.99zM260.4 208.3h1.99v2.96h-1.99zM262.1 211.0h1.99v2.96h-1.99zM263.8 213.6h1.99v2.96h-1.99zM260.4 216.3h1.99v2.96h-1.99zM260.4 224.3h1.99v2.96h-1.99zM262.1 224.3h1.99v2.96h-1.99zM263.8 224.3h1.99v2.96h-1.99zM260.4 226.9h1.99v2.96h-1.99zM260.4 232.2h1.99v2.96h-1.99zM263.8 234.9h1.99v2.96h-1.99zM260.4 237.6h1.99v2.96h-1.99zM263.8 240.2h1.99v2.96h-1.99zM262.1 242.9h1.99v2.96h-1.99zM260.4 264.2h1.99v2.96h-1.99zM262.1 264.2h1.99v2.96h-1.99zM263.8 264.2h1.99v2.96h-1.99zM260.4 266.8h1.99v2.96h-1.99zM262.1 272.1h1.99v2.96h-1.99zM263.8 277.5h1.99v2.96h-1.99z"/><path fill="#88fad8" d="M262.1 181.7h1.99v2.96h-1.99zM262.1 184.4h1.99v2.96h-1.99zM265.4 184.4h1.99v2.96h-1.99zM265.4 192.3h1.99v2.96h-1.99zM262.1 195.0h1.99v2.96h-1.99zM263.8 197.7h1.99v2.96h-1.99zM265.4 197.7h1.99v2.96h-1.99zM263.8 203.0h1.99v2.96h-1.99zM263.8 205.6h1.99v2.96h-1.99zM263.8 218.9h1.99v2.96h-1.99zM262.1 221.6h1.99v2.96h-1.99zM262.1 240.2h1.99v2.96h-1.99zM263.8 256.2h1.99v2.96h-1.99zM263.8 266.8h1.99v2.96h-1.99zM265.4 266.8h1.99v2.96h-1.99zM263.8 269.5h1.99v2.96h-1.99z"/><path fill="#8cfbd5" d="M263.8 181.7h1.99v2.96h-1.99zM265.4 181.7h1.99v2.96h-1.99zM263.8 192.3h1.99v2.96h-1.99zM263.8 195.0h1.99v2.96h-1.99zM265.4 208.3h1.99v2.96h-1.99zM263.8 211.0h1.99v2.96h-1.99zM263.8 216.3h1.99v2.96h-1.99zM265.4 216.3h1.99v2.96h-1.99zM265.4 221.6h1.99v2.96h-1.99zM263.8 229.6h1.99v2.96h-1.99zM265.4 229.6h1.99v2.96h-1.99zM265.4 232.2h1.99v2.96h-1.99zM265.4 234.9h1.99v2.96h-1.99zM265.4 237.6h1.99v2.96h-1.99zM265.4 240.2h1.99v2.96h-1.99zM265.4 245.5h1.99v2.96h-1.99zM265.4 256.2h1.99v2.96h-1.99zM263.8 261.5h1.99v2.96h-1.99zM263.8 272.1h1.99v2.96h-1.99z"/><path fill="#9afece" d="M268.8 181.7h1.99v2.96h-1.99zM265.4 187.0h1.99v2.96h-1.99zM265.4 189.7h1.99v2.96h-1.99zM267.1 189.7h1.99v2.96h-1.99zM267.1 197.7h1.99v2.96h-1.99zM265.4 205.6h1.99v2.96h-1.99zM267.1 211.0h1.99v2.96h-1.99zM267.1 213.6h1.99v2.96h-1.99zM267.1 216.3h1.99v2.96h-1.99zM265.4 218.9h1.99v2.96h-1.99zM268.8 221.6h1.99v2.96h-1.99zM265.4 226.9h1.99v2.96h-1.99zM267.1 240.2h1.99v2.96h-1.99zM265.4 242.9h1.99v2.96h-1.99zM265.4 253.5h1.99v2.96h-1.99zM267.1 256.2h1.99v2.96h-1.99zM267.1 258.8h1.99v2.96h-1.99zM267.1 261.5h1.99v2.96h-1.99zM265.4 264.2h1.99v2.96h-1.99zM268.8 264.2h1.99v2.96h-1.99zM267.1 269.5h1.99v2.96h-1.99zM268.8 269.5h1.99v2.96h-1.99z"/><path fill="#daeba7" d="M275.6 181.7h1.99v2.96h-1.99zM275.6 192.3h1.99v2.96h-1.99zM273.9 200.3h1.99v2.96h-1.99zM273.9 211.0h1.99v2.96h-1.99zM275.6 226.9h1.99v2.96h-1.99zM273.9 232.2h1.99v2.96h-1.99zM275.6 242.9h1.99v2.96h-1.99zM275.6 272.1h1.99v2.96h-1.99z"/><path fill="#ffc48a" d="M279.0 181.7h1.99v2.96h-1.99zM279.0 203.0h1.99v2.96h-1.99zM279.0 226.9h1.99v2.96h-1.99zM279.0 242.9h1.99v2.96h-1.99zM279.0 253.5h1.99v2.96h-1.99zM279.0 256.2h1.99v2.96h-1.99zM279.0 258.8h1.99v2.96h-1.99z"/><path fill="#ffb380" d="M280.6 181.7h1.99v2.96h-1.99zM280.6 218.9h1.99v2.96h-1.99zM280.6 221.6h1.99v2.96h-1.99zM280.6 232.2h1.99v2.96h-1.99zM280.6 253.5h1.99v2.96h-1.99zM280.6 266.8h1.99v2.96h-1.99z"/><path fill="#51bff4" d="M246.8 184.4h1.99v2.96h-1.99zM245.2 187.0h1.99v2.96h-1.99zM245.2 192.3h1.99v2.96h-1.99zM246.8 195.0h1.99v2.96h-1.99zM245.2 197.7h1.99v2.96h-1.99zM246.8 197.7h1.99v2.96h-1.99zM243.5 200.3h1.99v2.96h-1.99zM245.2 200.3h1.99v2.96h-1.99zM243.5 203.0h1.99v2.96h-1.99zM245.2 203.0h1.99v2.96h-1.99zM246.8 208.3h1.99v2.96h-1.99zM245.2 211.0h1.99v2.96h-1.99zM245.2 213.6h1.99v2.96h-1.99zM245.2 216.3h1.99v2.96h-1.99zM243.5 218.9h1.99v2.96h-1.99zM245.2 226.9h1.99v2.96h-1.99zM245.2 232.2h1.99v2.96h-1.99zM241.8 234.9h1.99v2.96h-1.99zM246.8 234.9h1.99v2.96h-1.99zM248.5 237.6h1.99v2.96h-1.99zM243.5 240.2h1.99v2.96h-1.99zM246.8 240.2h1.99v2.96h-1.99zM248.5 240.2h1.99v2.96h-1.99zM246.8 242.9h1.99v2.96h-1.99zM248.5 242.9h1.99v2.96h-1.99zM243.5 250.9h1.99v2.96h-1.99zM246.8 261.5h1.99v2.96h-1.99zM248.5 261.5h1.99v2.96h-1.99zM241.8 266.8h1.99v2.96h-1.99z"/><path fill="#51d3ee" d="M250.2 184.4h1.99v2.96h-1.99zM251.9 184.4h1.99v2.96h-1.99zM251.9 189.7h1.99v2.96h-1.99zM253.6 197.7h1.99v2.96h-1.99zM253.6 200.3h1.99v2.96h-1.99zM251.9 213.6h1.99v2.96h-1.99zM250.2 216.3h1.99v2.96h-1.99zM248.5 218.9h1.99v2.96h-1.99zM250.2 218.9h1.99v2.96h-1.99zM248.5 221.6h1.99v2.96h-1.99zM248.5 224.3h1.99v2.96h-1.99zM250.2 232.2h1.99v2.96h-1.99zM248.5 234.9h1.99v2.96h-1.99zM250.2 245.5h1.99v2.96h-1.99zM251.9 248.2h1.99v2.96h-1.99zM250.2 250.9h1.99v2.96h-1.99zM248.5 253.5h1.99v2.96h-1.99zM253.6 253.5h1.99v2.96h-1.99zM250.2 256.2h1.99v2.96h-1.99zM248.5 264.2h1.99v2.96h-1.99zM251.9 266.8h1.99v2.96h-1.99zM250.2 269.5h1.99v2.96h-1.99z"/><path fill="#b1fec1" d="M270.5 184.4h1.99v2.96h-1.99zM270.5 200.3h1.99v2.96h-1.99zM270.5 211.0h1.99v2.96h-1.99zM270.5 226.9h1.99v2.96h-1.99zM270.5 229.6h1.99v2.96h-1.99zM270.5 240.2h1.99v2.96h-1.99zM270.5 242.9h1.99v2.96h-1.99zM270.5 266.8h1.99v2.96h-1.99z"/><path fill="#e3e4a1" d="M275.6 184.4h1.99v2.96h-1.99zM275.6 205.6h1.99v2.96h-1.99zM275.6 208.3h1.99v2.96h-1.99zM275.6 211.0h1.99v2.96h-1.99zM275.6 229.6h1.99v2.96h-1.99zM275.6 234.9h1.99v2.96h-1.99zM275.6 245.5h1.99v2.96h-1.99z"/><path fill="#63a7f8" d="M243.5 187.0h1.99v2.96h-1.99zM240.1 189.7h1.99v2.96h-1.99zM241.8 197.7h1.99v2.96h-1.99zM240.1 203.0h1.99v2.96h-1.99zM238.4 205.6h1.99v2.96h-1.99zM241.8 205.6h1.99v2.96h-1.99zM243.5 205.6h1.99v2.96h-1.99zM236.7 208.3h1.99v2.96h-1.99zM241.8 208.3h1.99v2.96h-1.99zM236.7 213.6h1.99v2.96h-1.99zM236.7 216.3h1.99v2.96h-1.99zM236.7 218.9h1.99v2.96h-1.99zM238.4 218.9h1.99v2.96h-1.99zM240.1 218.9h1.99v2.96h-1.99zM236.7 224.3h1.99v2.96h-1.99zM238.4 224.3h1.99v2.96h-1.99zM238.4 226.9h1.99v2.96h-1.99zM238.4 229.6h1.99v2.96h-1.99zM240.1 229.6h1.99v2.96h-1.99zM241.8 229.6h1.99v2.96h-1.99zM238.4 232.2h1.99v2.96h-1.99zM240.1 234.9h1.99v2.96h-1.99zM235.0 237.6h1.99v2.96h-1.99zM238.4 240.2h1.99v2.96h-1.99zM236.7 242.9h1.99v2.96h-1.99zM240.1 242.9h1.99v2.96h-1.99zM235.0 245.5h1.99v2.96h-1.99zM240.1 245.5h1.99v2.96h-1.99zM238.4 250.9h1.99v2.96h-1.99zM240.1 250.9h1.99v2.96h-1.99zM241.8 250.9h1.99v2.96h-1.99zM241.8 256.2h1.99v2.96h-1.99zM240.1 258.8h1.99v2.96h-1.99z"/><path fill="#4ccef0" d="M250.2 187.0h1.99v2.96h-1.99zM248.5 189.7h1.99v2.96h-1.99zM251.9 192.3h1.99v2.96h-1.99zM250.2 200.3h1.99v2.96h-1.99zM246.8 205.6h1.99v2.96h-1.99zM250.2 205.6h1.99v2.96h-1.99zM248.5 208.3h1.99v2.96h-1.99zM251.9 208.3h1.99v2.96h-1.99zM248.5 211.0h1.99v2.96h-1.99zM248.5 213.6h1.99v2.96h-1.99zM248.5 216.3h1.99v2.96h-1.99zM246.8 218.9h1.99v2.96h-1.99zM246.8 221.6h1.99v2.96h-1.99zM246.8 229.6h1.99v2.96h-1.99zM248.5 229.6h1.99v2.96h-1.99zM250.2 229.6h1.99v2.96h-1.99zM246.8 232.2h1.99v2.96h-1.99zM251.9 234.9h1.99v2.96h-1.99zM251.9 237.6h1.99v2.96h-1.99zM250.2 242.9h1.99v2.96h-1.99zM248.5 245.5h1.99v2.96h-1.99zM251.9 245.5h1.99v2.96h-1.99zM248.5 250.9h1.99v2.96h-1.99zM246.8 253.5h1.99v2.96h-1.99zM250.2 258.8h1.99v2.96h-1.99zM250.2 261.5h1.99v2.96h-1.99z"/><path fill="#e8e09e" d="M277.3 187.0h1.99v2.96h-1.99zM277.3 189.7h1.99v2.96h-1.99zM277.3 197.7h1.99v2.96h-1.99zM275.6 200.3h1.99v2.96h-1.99zM277.3 208.3h1.99v2.96h-1.99zM275.6 221.6h1.99v2.96h-1.99zM277.3 226.9h1.99v2.96h-1.99zM277.3 229.6h1.99v2.96h-1.99zM277.3 234.9h1.99v2.96h-1.99zM277.3 242.9h1.99v2.96h-1.99zM277.3 245.5h1.99v2.96h-1.99zM275.6 248.2h1.99v2.96h-1.99zM275.6 250.9h1.99v2.96h-1.99zM277.3 250.9h1.99v2.96h-1.99zM275.6 253.5h1.99v2.96h-1.99zM277.3 261.5h1.99v2.96h-1.99zM275.6 269.5h1.99v2.96h-1.99z"/><path fill="#ffc98e" d="M279.0 187.0h1.99v2.96h-1.99zM279.0 189.7h1.99v2.96h-1.99zM279.0 192.3h1.99v2.96h-1.99zM279.0 216.3h1.99v2.96h-1.99zM279.0 248.2h1.99v2.96h-1.99z"/><path fill="#ff8e6b" d="M282.3 187.0h1.99v2.96h-1.99zM282.3 197.7h1.99v2.96h-1.99zM282.3 213.6h1.99v2.96h-1.99zM282.3 218.9h1.99v2.96h-1.99zM282.3 224.3h1.99v2.96h-1.99zM282.3 226.9h1.99v2.96h-1.99zM282.3 245.5h1.99v2.96h-1.99zM282.3 250.9h1.99v2.96h-1.99zM282.3 253.5h1.99v2.96h-1.99z"/><path fill="#ffad7d" d="M280.6 189.7h1.99v2.96h-1.99zM280.6 213.6h1.99v2.96h-1.99zM280.6 229.6h1.99v2.96h-1.99zM280.6 245.5h1.99v2.96h-1.99z"/><path fill="#5ab3f6" d="M243.5 192.3h1.99v2.96h-1.99zM243.5 195.0h1.99v2.96h-1.99zM238.4 197.7h1.99v2.96h-1.99zM240.1 197.7h1.99v2.96h-1.99zM245.2 205.6h1.99v2.96h-1.99zM243.5 208.3h1.99v2.96h-1.99zM245.2 208.3h1.99v2.96h-1.99zM238.4 211.0h1.99v2.96h-1.99zM240.1 211.0h1.99v2.96h-1.99zM241.8 211.0h1.99v2.96h-1.99zM243.5 211.0h1.99v2.96h-1.99zM238.4 213.6h1.99v2.96h-1.99zM243.5 229.6h1.99v2.96h-1.99zM241.8 232.2h1.99v2.96h-1.99zM243.5 232.2h1.99v2.96h-1.99zM238.4 234.9h1.99v2.96h-1.99zM241.8 240.2h1.99v2.96h-1.99zM245.2 240.2h1.99v2.96h-1.99zM241.8 245.5h1.99v2.96h-1.99zM238.4 248.2h1.99v2.96h-1.99zM240.1 248.2h1.99v2.96h-1.99zM243.5 248.2h1.99v2.96h-1.99zM241.8 253.5h1.99v2.96h-1.99zM243.5 253.5h1.99v2.96h-1.99zM245.2 258.8h1.99v2.96h-1.99z"/><path fill="#55d8ed" d="M250.2 192.3h1.99v2.96h-1.99zM251.9 200.3h1.99v2.96h-1.99zM251.9 211.0h1.99v2.96h-1.99zM251.9 216.3h1.99v2.96h-1.99zM253.6 216.3h1.99v2.96h-1.99zM253.6 218.9h1.99v2.96h-1.99zM251.9 221.6h1.99v2.96h-1.99zM250.2 224.3h1.99v2.96h-1.99zM250.2 226.9h1.99v2.96h-1.99zM251.9 226.9h1.99v2.96h-1.99zM253.6 226.9h1.99v2.96h-1.99zM250.2 234.9h1.99v2.96h-1.99zM253.6 234.9h1.99v2.96h-1.99zM250.2 237.6h1.99v2.96h-1.99zM253.6 237.6h1.99v2.96h-1.99zM251.9 240.2h1.99v2.96h-1.99zM253.6 248.2h1.99v2.96h-1.99zM251.9 261.5h1.99v2.96h-1.99zM250.2 266.8h1.99v2.96h-1.99z"/><path fill="#face91" d="M277.3 192.3h1.99v2.96h-1.99zM279.0 197.7h1.99v2.96h-1.99zM279.0 240.2h1.99v2.96h-1.99zM279.0 269.5h1.99v2.96h-1.99z"/><path fill="#ffa176" d="M280.6 192.3h1.99v2.96h-1.99zM282.3 192.3h1.99v2.96h-1.99zM282.3 195.0h1.99v2.96h-1.99zM280.6 197.7h1.99v2.96h-1.99zM280.6 200.3h1.99v2.96h-1.99zM280.6 203.0h1.99v2.96h-1.99zM280.6 205.6h1.99v2.96h-1.99zM280.6 216.3h1.99v2.96h-1.99zM282.3 221.6h1.99v2.96h-1.99zM280.6 234.9h1.99v2.96h-1.99zM282.3 240.2h1.99v2.96h-1.99zM280.6 242.9h1.99v2.96h-1.99zM282.3 242.9h1.99v2.96h-1.99zM282.3 256.2h1.99v2.96h-1.99zM282.3 266.8h1.99v2.96h-1.99z"/><path fill="#ff8064" d="M284.0 192.3h1.99v2.96h-1.99zM284.0 211.0h1.99v2.96h-1.99zM284.0 229.6h1.99v2.96h-1.99zM284.0 242.9h1.99v2.96h-1.99z"/><path fill="#7194fb" d="M238.4 195.0h1.99v2.96h-1.99zM236.7 200.3h1.99v2.96h-1.99zM235.0 205.6h1.99v2.96h-1.99zM238.4 208.3h1.99v2.96h-1.99zM233.3 211.0h1.99v2.96h-1.99zM233.3 221.6h1.99v2.96h-1.99zM235.0 221.6h1.99v2.96h-1.99zM228.3 224.3h1.99v2.96h-1.99zM226.6 226.9h1.99v2.96h-1.99zM235.0 229.6h1.99v2.96h-1.99zM231.6 232.2h1.99v2.96h-1.99zM236.7 237.6h1.99v2.96h-1.99zM238.4 237.6h1.99v2.96h-1.99z"/><path fill="#ff7961" d="M284.0 195.0h1.99v2.96h-1.99zM284.0 264.2h1.99v2.96h-1.99z"/><path fill="#758efb" d="M233.3 197.7h1.99v2.96h-1.99zM235.0 197.7h1.99v2.96h-1.99zM233.3 200.3h1.99v2.96h-1.99zM235.0 208.3h1.99v2.96h-1.99zM229.9 211.0h1.99v2.96h-1.99zM231.6 213.6h1.99v2.96h-1.99zM233.3 213.6h1.99v2.96h-1.99zM233.3 216.3h1.99v2.96h-1.99zM228.3 218.9h1.99v2.96h-1.99zM231.6 224.3h1.99v2.96h-1.99zM235.0 224.3h1.99v2.96h-1.99zM235.0 226.9h1.99v2.96h-1.99zM229.9 229.6h1.99v2.96h-1.99zM235.0 234.9h1.99v2.96h-1.99zM231.6 237.6h1.99v2.96h-1.99zM233.3 240.2h1.99v2.96h-1.99zM235.0 240.2h1.99v2.96h-1.99z"/><path fill="#ff6b59" d="M284.0 197.7h1.99v2.96h-1.99zM284.0 203.0h1.99v2.96h-1.99zM285.7 221.6h1.99v2.96h-1.99zM285.7 234.9h1.99v2.96h-1.99zM284.0 237.6h1.99v2.96h-1.99zM284.0 250.9h1.99v2.96h-1.99z"/><path fill="#ff564f" d="M287.4 197.7h1.99v2.96h-1.99zM285.7 200.3h1.99v2.96h-1.99zM285.7 208.3h1.99v2.96h-1.99zM285.7 211.0h1.99v2.96h-1.99zM287.4 216.3h1.99v2.96h-1.99zM289.1 216.3h1.99v2.96h-1.99zM285.7 218.9h1.99v2.96h-1.99z"/><path fill="#6c9bfa" d="M235.0 200.3h1.99v2.96h-1.99zM240.1 200.3h1.99v2.96h-1.99zM231.6 208.3h1.99v2.96h-1.99zM231.6 211.0h1.99v2.96h-1.99zM236.7 211.0h1.99v2.96h-1.99zM235.0 213.6h1.99v2.96h-1.99zM231.6 216.3h1.99v2.96h-1.99zM235.0 216.3h1.99v2.96h-1.99zM229.9 218.9h1.99v2.96h-1.99zM233.3 218.9h1.99v2.96h-1.99zM236.7 221.6h1.99v2.96h-1.99zM233.3 229.6h1.99v2.96h-1.99zM229.9 232.2h1.99v2.96h-1.99zM235.0 232.2h1.99v2.96h-1.99zM236.7 232.2h1.99v2.96h-1.99zM233.3 234.9h1.99v2.96h-1.99zM236.7 240.2h1.99v2.96h-1.99zM231.6 242.9h1.99v2.96h-1.99zM235.0 242.9h1.99v2.96h-1.99zM238.4 245.5h1.99v2.96h-1.99zM236.7 248.2h1.99v2.96h-1.99z"/><path fill="#ffbf87" d="M279.0 200.3h1.99v2.96h-1.99zM279.0 205.6h1.99v2.96h-1.99zM279.0 208.3h1.99v2.96h-1.99zM279.0 218.9h1.99v2.96h-1.99zM279.0 221.6h1.99v2.96h-1.99zM279.0 224.3h1.99v2.96h-1.99zM279.0 232.2h1.99v2.96h-1.99zM279.0 234.9h1.99v2.96h-1.99zM279.0 237.6h1.99v2.96h-1.99zM279.0 245.5h1.99v2.96h-1.99zM280.6 248.2h1.99v2.96h-1.99zM279.0 250.9h1.99v2.96h-1.99zM279.0 264.2h1.99v2.96h-1.99z"/><path fill="#ff8768" d="M282.3 200.3h1.99v2.96h-1.99zM282.3 205.6h1.99v2.96h-1.99zM282.3 208.3h1.99v2.96h-1.99zM284.0 208.3h1.99v2.96h-1.99zM284.0 216.3h1.99v2.96h-1.99zM284.0 218.9h1.99v2.96h-1.99zM284.0 221.6h1.99v2.96h-1.99zM282.3 229.6h1.99v2.96h-1.99zM284.0 232.2h1.99v2.96h-1.99zM282.3 234.9h1.99v2.96h-1.99zM284.0 234.9h1.99v2.96h-1.99z"/><path fill="#cdf4b0" d="M273.9 203.0h1.99v2.96h-1.99zM273.9 213.6h1.99v2.96h-1.99zM273.9 226.9h1.99v2.96h-1.99zM273.9 229.6h1.99v2.96h-1.99zM273.9 245.5h1.99v2.96h-1.99zM273.9 256.2h1.99v2.96h-1.99zM273.9 266.8h1.99v2.96h-1.99z"/><path fill="#f1d898" d="M277.3 203.0h1.99v2.96h-1.99zM277.3 205.6h1.99v2.96h-1.99zM277.3 213.6h1.99v2.96h-1.99zM277.3 248.2h1.99v2.96h-1.99zM277.3 256.2h1.99v2.96h-1.99z"/><path fill="#ff5d52" d="M285.7 203.0h1.99v2.96h-1.99zM285.7 232.2h1.99v2.96h-1.99z"/><path fill="#ff4f4b" d="M287.4 205.6h1.99v2.96h-1.99zM287.4 211.0h1.99v2.96h-1.99zM285.7 237.6h1.99v2.96h-1.99zM287.4 245.5h1.99v2.96h-1.99zM287.4 253.5h1.99v2.96h-1.99z"/><path fill="#7a87fc" d="M228.3 213.6h1.99v2.96h-1.99zM228.3 216.3h1.99v2.96h-1.99zM233.3 224.3h1.99v2.96h-1.99zM229.9 226.9h1.99v2.96h-1.99zM233.3 226.9h1.99v2.96h-1.99zM226.6 245.5h1.99v2.96h-1.99zM231.6 258.8h1.99v2.96h-1.99z"/><path fill="#7e80fd" d="M229.9 213.6h1.99v2.96h-1.99zM231.6 218.9h1.99v2.96h-1.99zM229.9 221.6h1.99v2.96h-1.99zM229.9 224.3h1.99v2.96h-1.99zM228.3 226.9h1.99v2.96h-1.99zM228.3 229.6h1.99v2.96h-1.99zM229.9 237.6h1.99v2.96h-1.99z"/><path fill="#ff6456" d="M285.7 213.6h1.99v2.96h-1.99zM285.7 248.2h1.99v2.96h-1.99z"/><path fill="#ff4747" d="M289.1 213.6h1.99v2.96h-1.99zM289.1 221.6h1.99v2.96h-1.99zM287.4 232.2h1.99v2.96h-1.99zM287.4 248.2h1.99v2.96h-1.99z"/><path fill="#ff946f" d="M282.3 216.3h1.99v2.96h-1.99zM282.3 232.2h1.99v2.96h-1.99z"/><path fill="#8872fe" d="M221.5 218.9h1.99v2.96h-1.99z"/><path fill="#ff725d" d="M285.7 224.3h1.99v2.96h-1.99zM284.0 245.5h1.99v2.96h-1.99zM284.0 253.5h1.99v2.96h-1.99z"/><path fill="#8379fd" d="M226.6 232.2h1.99v2.96h-1.99z"/></g>
<path d="M286.79 228.00C286.96 229.17 288.78 230.36 289.08 231.53C289.38 232.70 289.01 233.90 288.59 235.02C288.18 236.15 286.89 237.18 286.61 238.30C286.33 239.43 286.99 240.65 286.92 241.78C286.85 242.91 286.33 243.96 286.18 245.07C286.04 246.18 286.17 247.34 286.08 248.45C285.99 249.56 286.19 250.77 285.62 251.72C285.06 252.66 283.37 253.25 282.68 254.11C282.00 254.97 281.53 255.82 281.49 256.89C281.44 257.96 282.64 259.57 282.42 260.53C282.19 261.49 280.61 261.82 280.12 262.65C279.63 263.48 280.10 264.83 279.48 265.51C278.86 266.18 277.04 266.05 276.42 266.69C275.80 267.34 276.08 268.54 275.78 269.37C275.48 270.20 275.22 271.12 274.62 271.65C274.01 272.17 272.71 271.92 272.16 272.50C271.62 273.08 271.81 274.48 271.35 275.10C270.89 275.73 270.17 276.14 269.41 276.24C268.64 276.34 267.51 275.67 266.78 275.69C266.04 275.72 265.57 276.05 265.00 276.40C264.44 276.75 263.97 277.41 263.39 277.80C262.81 278.19 262.15 278.77 261.51 278.76C260.87 278.75 260.19 278.01 259.55 277.76C258.92 277.50 258.35 277.33 257.72 277.22C257.09 277.11 256.35 277.36 255.77 277.10C255.19 276.85 254.80 276.03 254.22 275.69C253.64 275.35 252.94 275.32 252.29 275.08C251.63 274.84 250.91 274.61 250.28 274.26C249.64 273.90 248.96 273.49 248.45 272.93C247.94 272.37 247.66 271.53 247.19 270.89C246.72 270.24 246.13 269.70 245.62 269.05C245.11 268.40 244.71 267.66 244.14 267.00C243.57 266.34 242.68 265.86 242.19 265.10C241.70 264.35 241.47 263.39 241.22 262.47C240.96 261.55 241.29 260.37 240.64 259.59C240.00 258.80 237.95 258.59 237.35 257.75C236.75 256.91 237.28 255.58 237.02 254.55C236.76 253.52 235.92 252.67 235.80 251.59C235.69 250.52 236.77 249.14 236.32 248.11C235.88 247.08 233.70 246.43 233.13 245.40C232.56 244.38 232.64 243.15 232.92 241.96C233.21 240.77 234.68 239.43 234.82 238.25C234.97 237.08 234.23 236.04 233.81 234.92C233.40 233.79 232.59 232.67 232.34 231.52C232.09 230.36 232.42 229.18 232.30 228.00C232.19 226.82 231.43 225.61 231.63 224.46C231.83 223.30 233.37 222.22 233.52 221.06C233.67 219.90 232.54 218.64 232.54 217.48C232.54 216.33 233.07 215.21 233.53 214.13C233.98 213.06 235.00 212.11 235.27 211.02C235.53 209.93 235.14 208.74 235.11 207.60C235.09 206.46 234.92 205.27 235.10 204.20C235.29 203.13 235.69 202.11 236.21 201.17C236.73 200.24 237.74 199.51 238.24 198.61C238.74 197.70 238.61 196.55 239.21 195.76C239.81 194.96 241.25 194.61 241.82 193.85C242.40 193.09 242.48 192.13 242.67 191.19C242.86 190.24 242.53 188.93 242.97 188.18C243.40 187.43 244.56 187.17 245.28 186.68C246.00 186.18 246.77 185.82 247.29 185.21C247.81 184.59 247.93 183.63 248.37 182.98C248.82 182.33 249.37 181.77 249.95 181.30C250.52 180.83 251.16 180.41 251.82 180.15C252.49 179.88 253.29 179.92 253.95 179.70C254.60 179.49 255.15 179.11 255.76 178.87C256.37 178.63 257.00 178.48 257.62 178.26C258.25 178.04 258.87 177.57 259.51 177.53C260.15 177.49 260.82 177.84 261.46 177.99C262.10 178.15 262.70 178.33 263.34 178.46C263.97 178.60 264.70 178.47 265.27 178.78C265.84 179.08 266.23 179.90 266.78 180.31C267.32 180.72 267.82 181.06 268.53 181.23C269.25 181.39 270.27 181.13 271.05 181.30C271.84 181.48 272.70 181.74 273.25 182.28C273.81 182.82 274.00 183.82 274.40 184.55C274.81 185.29 275.29 185.95 275.68 186.71C276.07 187.46 276.22 188.38 276.76 189.07C277.30 189.76 278.13 190.24 278.91 190.84C279.68 191.44 280.87 191.88 281.43 192.66C281.98 193.45 282.01 194.56 282.25 195.55C282.49 196.53 282.42 197.63 282.85 198.57C283.28 199.50 284.64 200.13 284.83 201.16C285.02 202.19 283.86 203.67 284.00 204.75C284.14 205.83 285.04 206.68 285.66 207.65C286.29 208.63 287.49 209.53 287.74 210.62C288.00 211.71 287.26 213.01 287.18 214.18C287.10 215.35 287.30 216.47 287.27 217.62C287.23 218.77 286.84 219.95 286.98 221.10C287.12 222.25 288.12 223.36 288.09 224.51C288.06 225.66 286.63 226.83 286.79 228.00Z" fill="none" stroke="#fff" stroke-width="0.55" stroke-opacity="0.95"/>
<path d="M287.31 228.00C287.64 229.03 287.70 230.11 287.23 231.12C286.76 232.12 284.99 233.04 284.50 234.03C284.01 235.01 284.06 235.97 284.31 237.01C284.56 238.05 285.85 239.25 286.00 240.27C286.15 241.30 285.46 242.22 285.19 243.18C284.92 244.13 284.79 245.12 284.37 246.01C283.96 246.90 283.00 247.61 282.70 248.51C282.41 249.41 282.78 250.50 282.61 251.41C282.44 252.31 282.01 253.14 281.67 253.96C281.32 254.79 281.08 255.66 280.56 256.37C280.05 257.07 279.00 257.48 278.56 258.19C278.12 258.90 278.25 259.89 277.93 260.62C277.60 261.34 276.94 261.85 276.59 262.54C276.23 263.23 276.09 264.06 275.78 264.77C275.47 265.48 275.16 266.21 274.71 266.78C274.26 267.35 273.70 267.84 273.09 268.19C272.48 268.53 271.66 268.60 271.04 268.86C270.42 269.12 269.93 269.52 269.37 269.76C268.80 270.01 268.22 270.20 267.64 270.34C267.07 270.48 266.48 270.49 265.94 270.61C265.39 270.72 264.88 270.80 264.37 271.01C263.85 271.23 263.37 271.81 262.83 271.92C262.30 272.03 261.73 271.74 261.18 271.69C260.63 271.63 260.12 271.53 259.53 271.57C258.94 271.61 258.20 272.08 257.64 271.94C257.08 271.80 256.69 271.07 256.18 270.73C255.66 270.40 255.01 270.32 254.53 269.94C254.05 269.55 253.70 268.92 253.29 268.41C252.89 267.90 252.59 267.29 252.08 266.87C251.57 266.45 250.74 266.34 250.25 265.87C249.77 265.39 249.67 264.53 249.16 264.00C248.66 263.47 247.90 263.14 247.21 262.69C246.51 262.23 245.45 261.94 244.98 261.29C244.51 260.63 244.48 259.64 244.37 258.76C244.26 257.87 244.77 256.71 244.32 255.96C243.87 255.20 242.23 254.96 241.67 254.23C241.10 253.50 241.16 252.47 240.92 251.57C240.68 250.67 240.53 249.73 240.21 248.83C239.89 247.93 239.25 247.10 239.01 246.16C238.76 245.22 238.88 244.18 238.74 243.19C238.59 242.21 238.09 241.27 238.13 240.25C238.16 239.24 239.15 238.10 238.94 237.10C238.73 236.10 237.23 235.23 236.86 234.23C236.49 233.23 236.38 232.16 236.73 231.12C237.08 230.08 238.88 229.04 238.98 228.00C239.08 226.96 237.55 225.93 237.33 224.90C237.10 223.87 237.40 222.84 237.62 221.83C237.84 220.82 238.43 219.86 238.63 218.86C238.84 217.87 238.71 216.84 238.85 215.86C238.99 214.87 239.46 213.96 239.47 212.96C239.49 211.95 238.74 210.77 238.96 209.83C239.18 208.89 240.49 208.25 240.81 207.34C241.12 206.44 240.48 205.25 240.84 204.41C241.19 203.56 242.60 203.12 242.92 202.27C243.25 201.43 242.61 200.21 242.77 199.33C242.93 198.45 243.37 197.66 243.91 197.00C244.45 196.33 245.48 195.97 246.02 195.35C246.55 194.72 246.79 193.97 247.10 193.24C247.42 192.51 247.47 191.58 247.90 190.97C248.33 190.36 249.08 190.00 249.68 189.59C250.28 189.17 250.89 188.80 251.50 188.47C252.10 188.14 252.77 187.95 253.31 187.61C253.85 187.27 254.28 186.85 254.74 186.42C255.20 185.98 255.51 185.20 256.05 185.00C256.60 184.80 257.45 185.42 258.00 185.19C258.55 184.96 258.84 183.73 259.37 183.60C259.90 183.47 260.60 184.43 261.19 184.39C261.77 184.36 262.33 183.35 262.88 183.38C263.42 183.40 263.87 184.44 264.45 184.54C265.04 184.64 265.81 183.88 266.40 183.96C266.98 184.03 267.45 184.62 267.95 184.99C268.45 185.36 268.91 185.78 269.42 186.15C269.93 186.51 270.46 186.83 271.01 187.18C271.56 187.53 272.19 187.80 272.71 188.24C273.23 188.67 273.73 189.19 274.13 189.77C274.53 190.36 274.76 191.12 275.12 191.77C275.47 192.42 275.76 193.11 276.26 193.69C276.75 194.28 277.43 194.74 278.08 195.29C278.73 195.83 279.73 196.24 280.16 196.96C280.59 197.67 280.61 198.66 280.66 199.59C280.70 200.52 280.01 201.73 280.43 202.53C280.84 203.34 282.58 203.64 283.14 204.41C283.69 205.19 283.45 206.27 283.77 207.18C284.08 208.08 285.01 208.85 285.00 209.84C284.99 210.83 283.59 212.13 283.72 213.12C283.84 214.11 285.66 214.79 285.75 215.77C285.83 216.74 284.16 217.98 284.23 219.00C284.31 220.01 286.03 220.85 286.20 221.84C286.38 222.84 285.10 223.93 285.29 224.96C285.47 225.98 286.99 226.97 287.31 228.00Z" fill="none" stroke="#fff" stroke-width="0.55" stroke-opacity="0.95"/>
<path d="M283.37 228.00C283.43 228.88 284.04 229.78 284.06 230.65C284.08 231.53 283.54 232.38 283.50 233.26C283.45 234.14 283.80 235.05 283.81 235.93C283.81 236.81 283.85 237.71 283.52 238.52C283.18 239.33 282.20 240.02 281.81 240.79C281.43 241.57 281.11 242.31 281.20 243.19C281.30 244.06 282.50 245.26 282.37 246.06C282.25 246.85 280.92 247.28 280.47 247.96C280.02 248.64 279.70 249.31 279.66 250.12C279.62 250.94 280.45 252.15 280.23 252.86C280.01 253.57 278.72 253.75 278.34 254.37C277.95 254.99 278.27 255.99 277.92 256.58C277.58 257.17 276.70 257.41 276.28 257.92C275.85 258.43 275.82 259.23 275.37 259.66C274.92 260.09 273.99 260.05 273.58 260.50C273.17 260.94 273.20 261.79 272.91 262.32C272.62 262.85 272.27 263.39 271.82 263.70C271.37 264.01 270.67 263.92 270.20 264.17C269.72 264.42 269.42 264.94 268.98 265.19C268.54 265.44 268.04 265.65 267.54 265.65C267.04 265.65 266.45 265.09 265.98 265.20C265.51 265.31 265.17 266.18 264.72 266.33C264.27 266.48 263.75 266.24 263.29 266.10C262.83 265.97 262.39 265.74 261.96 265.52C261.53 265.30 261.22 264.82 260.72 264.79C260.22 264.76 259.43 265.47 258.95 265.36C258.47 265.24 258.28 264.41 257.84 264.10C257.40 263.80 256.81 263.76 256.31 263.51C255.81 263.26 255.26 263.01 254.83 262.62C254.41 262.23 254.17 261.60 253.74 261.16C253.31 260.72 252.57 260.54 252.25 259.98C251.93 259.43 252.19 258.40 251.84 257.83C251.49 257.26 250.49 257.13 250.13 256.55C249.78 255.96 250.08 254.97 249.71 254.34C249.33 253.72 248.32 253.43 247.88 252.81C247.44 252.19 247.09 251.47 247.08 250.64C247.08 249.81 247.85 248.68 247.86 247.85C247.86 247.01 247.36 246.36 247.11 245.61C246.86 244.85 246.84 244.03 246.35 243.30C245.86 242.57 244.39 242.02 244.16 241.21C243.92 240.41 244.92 239.33 244.92 238.45C244.92 237.57 244.18 236.80 244.14 235.94C244.10 235.07 244.69 234.13 244.67 233.25C244.65 232.37 244.10 231.53 244.03 230.65C243.97 229.78 244.21 228.88 244.27 228.00C244.34 227.12 244.45 226.25 244.41 225.36C244.36 224.48 244.02 223.58 243.99 222.70C243.96 221.81 244.26 220.96 244.24 220.08C244.21 219.19 243.75 218.23 243.84 217.37C243.94 216.51 244.64 215.76 244.80 214.92C244.95 214.07 244.66 213.14 244.79 212.31C244.92 211.47 245.38 210.73 245.59 209.93C245.79 209.13 245.72 208.24 246.04 207.51C246.36 206.77 246.94 206.13 247.49 205.53C248.03 204.92 249.05 204.58 249.30 203.87C249.55 203.16 248.90 202.02 248.99 201.26C249.09 200.50 249.52 199.89 249.87 199.29C250.22 198.68 250.61 198.10 251.09 197.62C251.56 197.14 252.28 196.88 252.72 196.42C253.17 195.95 253.27 195.21 253.74 194.84C254.21 194.47 255.13 194.62 255.54 194.20C255.95 193.79 255.84 192.75 256.21 192.35C256.58 191.94 257.25 191.92 257.77 191.76C258.28 191.61 258.80 191.51 259.29 191.41C259.78 191.31 260.29 191.45 260.71 191.17C261.13 190.88 261.40 190.03 261.82 189.73C262.25 189.42 262.79 189.21 263.26 189.35C263.73 189.50 264.18 190.51 264.66 190.59C265.15 190.66 265.70 189.78 266.17 189.80C266.63 189.82 267.02 190.40 267.44 190.70C267.85 191.00 268.20 191.35 268.64 191.59C269.07 191.83 269.51 191.99 270.03 192.13C270.54 192.27 271.21 192.22 271.73 192.43C272.26 192.64 272.87 192.85 273.16 193.39C273.45 193.92 273.09 195.13 273.45 195.63C273.82 196.13 274.97 195.88 275.34 196.37C275.70 196.85 275.24 198.02 275.64 198.55C276.04 199.07 277.32 199.00 277.73 199.54C278.14 200.07 277.71 201.15 278.09 201.76C278.48 202.38 279.52 202.65 280.02 203.24C280.52 203.82 280.96 204.51 281.11 205.28C281.27 206.05 280.71 207.10 280.97 207.86C281.24 208.62 282.57 209.04 282.72 209.84C282.86 210.64 282.00 211.76 281.85 212.65C281.71 213.54 281.57 214.39 281.84 215.20C282.11 216.01 283.35 216.65 283.46 217.49C283.56 218.33 282.52 219.35 282.46 220.23C282.40 221.11 282.87 221.91 283.09 222.77C283.30 223.62 283.68 224.49 283.73 225.36C283.78 226.23 283.32 227.12 283.37 228.00Z" fill="none" stroke="#fff" stroke-width="0.55" stroke-opacity="0.95"/>
<path d="M281.49 227.50C281.47 228.22 281.18 228.94 281.20 229.67C281.23 230.39 281.68 231.15 281.65 231.87C281.61 232.58 281.18 233.27 281.00 233.97C280.82 234.66 280.60 235.34 280.58 236.05C280.56 236.76 280.73 237.49 280.86 238.24C280.99 238.98 281.39 239.80 281.35 240.50C281.31 241.21 280.86 241.81 280.64 242.45C280.41 243.09 280.35 243.79 280.00 244.35C279.65 244.92 278.79 245.26 278.51 245.83C278.23 246.40 278.53 247.21 278.31 247.77C278.09 248.34 277.54 248.73 277.20 249.21C276.86 249.68 276.59 250.17 276.29 250.63C275.98 251.09 275.66 251.52 275.39 251.97C275.11 252.42 274.80 252.81 274.64 253.35C274.48 253.88 274.64 254.73 274.41 255.20C274.19 255.67 273.66 255.84 273.29 256.15C272.92 256.45 272.58 256.76 272.21 257.03C271.85 257.30 271.54 257.67 271.12 257.78C270.71 257.90 270.13 257.64 269.73 257.73C269.33 257.81 269.05 258.10 268.71 258.31C268.38 258.52 268.05 258.81 267.70 258.97C267.34 259.13 266.95 259.17 266.57 259.24C266.19 259.31 265.80 259.38 265.42 259.38C265.03 259.38 264.59 259.48 264.25 259.26C263.91 259.04 263.72 258.24 263.36 258.06C263.00 257.88 262.48 258.25 262.08 258.18C261.68 258.11 261.30 257.89 260.95 257.64C260.61 257.40 260.28 257.07 260.00 256.71C259.72 256.35 259.59 255.81 259.26 255.48C258.93 255.16 258.32 255.13 258.03 254.75C257.73 254.38 257.89 253.57 257.49 253.23C257.10 252.89 256.08 253.05 255.64 252.71C255.19 252.38 255.03 251.77 254.82 251.22C254.62 250.67 254.56 250.02 254.42 249.42C254.29 248.82 254.37 248.12 254.04 247.60C253.70 247.08 252.71 246.85 252.42 246.29C252.13 245.73 252.51 244.87 252.31 244.24C252.11 243.60 251.48 243.12 251.22 242.49C250.97 241.86 250.82 241.18 250.77 240.47C250.73 239.77 250.95 239.00 250.95 238.28C250.95 237.56 250.91 236.86 250.78 236.16C250.65 235.45 250.25 234.79 250.16 234.07C250.08 233.36 250.20 232.61 250.29 231.87C250.37 231.14 250.67 230.40 250.69 229.67C250.70 228.94 250.58 228.23 250.37 227.50C250.17 226.77 249.33 226.00 249.44 225.28C249.55 224.56 250.73 223.89 251.02 223.19C251.32 222.48 251.31 221.79 251.20 221.06C251.10 220.32 250.36 219.49 250.39 218.78C250.41 218.07 251.21 217.50 251.36 216.81C251.52 216.13 251.23 215.35 251.32 214.67C251.42 213.99 251.69 213.36 251.92 212.73C252.15 212.10 252.63 211.58 252.69 210.90C252.75 210.22 252.03 209.22 252.28 208.65C252.53 208.08 253.80 207.97 254.19 207.47C254.58 206.98 254.36 206.21 254.61 205.69C254.86 205.16 255.45 204.86 255.68 204.34C255.91 203.82 255.72 203.02 255.99 202.56C256.26 202.10 256.94 201.96 257.29 201.60C257.65 201.23 257.89 200.81 258.14 200.36C258.39 199.92 258.45 199.25 258.78 198.94C259.11 198.62 259.76 198.73 260.14 198.48C260.51 198.24 260.72 197.81 261.02 197.48C261.32 197.15 261.55 196.58 261.94 196.49C262.33 196.40 262.94 196.89 263.35 196.92C263.77 196.95 264.06 196.77 264.42 196.67C264.77 196.57 265.10 196.48 265.46 196.33C265.82 196.17 266.20 195.77 266.58 195.72C266.95 195.67 267.34 195.87 267.70 196.04C268.05 196.22 268.34 196.59 268.69 196.77C269.04 196.95 269.45 196.94 269.79 197.12C270.14 197.31 270.39 197.69 270.75 197.89C271.11 198.09 271.65 198.04 271.96 198.34C272.28 198.63 272.26 199.37 272.63 199.65C273.00 199.94 273.73 199.80 274.19 200.03C274.65 200.25 275.01 200.64 275.37 201.01C275.74 201.39 276.12 201.79 276.39 202.27C276.66 202.75 276.72 203.40 277.01 203.89C277.30 204.39 278.05 204.64 278.14 205.26C278.23 205.87 277.47 206.96 277.55 207.60C277.63 208.25 278.15 208.64 278.62 209.13C279.08 209.61 280.00 209.95 280.33 210.53C280.66 211.10 280.57 211.86 280.59 212.57C280.62 213.27 280.25 214.06 280.46 214.73C280.67 215.39 281.64 215.88 281.83 216.55C282.03 217.23 281.53 218.06 281.60 218.78C281.67 219.50 282.27 220.15 282.25 220.88C282.22 221.60 281.60 222.41 281.45 223.15C281.31 223.89 281.36 224.60 281.37 225.33C281.38 226.05 281.52 226.78 281.49 227.50Z" fill="none" stroke="#fff" stroke-width="0.55" stroke-opacity="0.95"/>
<path d="M279.17 227.50C279.13 228.08 279.28 228.65 279.30 229.22C279.33 229.80 279.28 230.37 279.29 230.95C279.30 231.52 279.42 232.11 279.35 232.67C279.28 233.24 278.95 233.76 278.87 234.31C278.79 234.87 279.10 235.51 278.85 236.01C278.61 236.50 277.62 236.80 277.41 237.30C277.20 237.79 277.55 238.42 277.61 238.99C277.67 239.55 277.88 240.19 277.77 240.69C277.66 241.19 277.14 241.51 276.97 241.98C276.80 242.44 277.00 243.09 276.73 243.48C276.47 243.86 275.65 243.91 275.39 244.28C275.13 244.65 275.34 245.30 275.17 245.69C275.00 246.08 274.57 246.27 274.36 246.63C274.16 246.99 274.14 247.49 273.96 247.84C273.79 248.20 273.59 248.56 273.30 248.77C273.01 248.99 272.52 248.93 272.25 249.13C271.97 249.34 271.88 249.74 271.66 249.98C271.45 250.23 271.17 250.34 270.96 250.62C270.75 250.89 270.65 251.42 270.42 251.63C270.19 251.84 269.86 251.87 269.56 251.86C269.27 251.85 268.93 251.50 268.65 251.57C268.38 251.63 268.17 252.23 267.92 252.25C267.66 252.26 267.39 251.71 267.12 251.67C266.84 251.62 266.53 252.03 266.28 251.97C266.03 251.91 265.83 251.49 265.59 251.30C265.36 251.12 265.18 250.88 264.88 250.85C264.58 250.81 264.04 251.26 263.79 251.11C263.53 250.97 263.54 250.28 263.34 249.98C263.15 249.68 262.95 249.44 262.63 249.29C262.31 249.15 261.73 249.29 261.42 249.09C261.11 248.88 260.92 248.49 260.78 248.08C260.65 247.68 260.83 247.01 260.60 246.66C260.37 246.31 259.61 246.36 259.38 246.01C259.14 245.66 259.33 244.99 259.19 244.54C259.04 244.10 258.61 243.82 258.50 243.35C258.39 242.88 258.74 242.19 258.53 241.75C258.31 241.30 257.47 241.13 257.23 240.69C257.00 240.24 257.25 239.59 257.11 239.08C256.98 238.57 256.56 238.15 256.41 237.63C256.25 237.12 256.13 236.57 256.18 236.00C256.23 235.43 256.67 234.78 256.71 234.20C256.76 233.63 256.46 233.12 256.44 232.57C256.41 232.01 256.56 231.43 256.57 230.87C256.58 230.31 256.51 229.75 256.52 229.19C256.52 228.63 256.64 228.06 256.60 227.50C256.56 226.94 256.41 226.37 256.30 225.80C256.20 225.23 255.87 224.63 255.97 224.08C256.07 223.53 256.88 223.06 256.92 222.50C256.96 221.93 256.21 221.26 256.21 220.70C256.21 220.15 256.73 219.69 256.90 219.17C257.07 218.65 257.22 218.15 257.23 217.60C257.24 217.05 256.87 216.38 256.96 215.87C257.05 215.35 257.53 214.97 257.77 214.53C258.01 214.08 258.25 213.66 258.40 213.19C258.56 212.73 258.61 212.24 258.71 211.76C258.81 211.29 258.77 210.72 259.02 210.36C259.28 209.99 260.05 210.00 260.21 209.58C260.38 209.17 259.81 208.20 260.02 207.86C260.22 207.52 261.18 207.83 261.44 207.54C261.70 207.24 261.44 206.48 261.58 206.09C261.71 205.70 261.94 205.36 262.25 205.21C262.56 205.05 263.18 205.39 263.44 205.18C263.70 204.97 263.60 204.18 263.82 203.96C264.04 203.74 264.49 203.95 264.76 203.84C265.04 203.73 265.22 203.35 265.48 203.30C265.75 203.26 266.10 203.55 266.37 203.56C266.64 203.58 266.87 203.46 267.12 203.41C267.37 203.37 267.61 203.41 267.89 203.30C268.16 203.18 268.51 202.68 268.77 202.73C269.02 202.79 269.16 203.51 269.42 203.64C269.69 203.76 270.07 203.48 270.37 203.51C270.67 203.54 270.96 203.69 271.24 203.84C271.52 203.99 271.83 204.13 272.04 204.42C272.24 204.72 272.26 205.27 272.45 205.60C272.63 205.93 272.90 206.13 273.15 206.39C273.40 206.65 273.67 206.90 273.95 207.17C274.23 207.44 274.67 207.61 274.81 208.00C274.96 208.40 274.63 209.16 274.83 209.55C275.03 209.94 275.72 209.99 276.02 210.33C276.32 210.67 276.43 211.15 276.62 211.58C276.82 212.01 277.19 212.39 277.21 212.91C277.22 213.44 276.54 214.25 276.71 214.73C276.88 215.22 278.07 215.32 278.20 215.81C278.33 216.30 277.51 217.12 277.49 217.68C277.47 218.24 277.90 218.66 278.10 219.17C278.30 219.67 278.50 220.19 278.70 220.72C278.90 221.25 279.32 221.76 279.31 222.33C279.31 222.89 278.63 223.54 278.67 224.11C278.71 224.68 279.47 225.20 279.56 225.76C279.64 226.33 279.21 226.92 279.17 227.50Z" fill="none" stroke="#fff" stroke-width="0.55" stroke-opacity="0.95"/>
<path d="M276.25 227.00C276.35 227.39 276.31 227.81 276.25 228.20C276.20 228.59 276.02 228.98 275.92 229.36C275.82 229.75 275.75 230.13 275.65 230.50C275.55 230.88 275.32 231.21 275.33 231.60C275.33 231.99 275.70 232.46 275.71 232.85C275.71 233.23 275.43 233.54 275.37 233.91C275.32 234.27 275.46 234.71 275.37 235.06C275.29 235.40 274.93 235.63 274.85 235.97C274.76 236.31 274.95 236.78 274.85 237.09C274.74 237.40 274.32 237.53 274.22 237.84C274.11 238.15 274.28 238.62 274.22 238.94C274.15 239.25 273.97 239.50 273.81 239.74C273.65 239.97 273.41 240.13 273.27 240.35C273.12 240.58 273.05 240.87 272.93 241.11C272.82 241.36 272.74 241.65 272.58 241.82C272.41 241.99 272.11 241.95 271.96 242.11C271.80 242.27 271.76 242.59 271.64 242.79C271.52 243.00 271.41 243.25 271.24 243.35C271.08 243.44 270.81 243.26 270.65 243.36C270.48 243.45 270.41 243.81 270.26 243.92C270.11 244.04 269.92 243.97 269.75 244.02C269.58 244.07 269.42 244.22 269.25 244.20C269.09 244.18 268.92 243.98 268.76 243.89C268.60 243.80 268.47 243.65 268.30 243.66C268.13 243.66 267.92 243.92 267.74 243.92C267.56 243.93 267.39 243.81 267.24 243.68C267.10 243.54 266.97 243.33 266.85 243.14C266.73 242.95 266.64 242.70 266.51 242.53C266.37 242.36 266.22 242.24 266.04 242.11C265.87 241.99 265.59 241.98 265.44 241.79C265.30 241.61 265.35 241.18 265.18 240.99C265.02 240.79 264.61 240.83 264.46 240.61C264.30 240.39 264.32 240.00 264.27 239.67C264.21 239.35 264.27 238.96 264.15 238.68C264.02 238.40 263.66 238.28 263.54 237.99C263.42 237.70 263.56 237.25 263.43 236.94C263.30 236.64 262.91 236.46 262.76 236.15C262.60 235.84 262.54 235.47 262.52 235.10C262.49 234.73 262.63 234.29 262.59 233.92C262.56 233.54 262.39 233.21 262.31 232.84C262.23 232.48 262.18 232.10 262.11 231.72C262.04 231.34 261.98 230.96 261.90 230.57C261.83 230.19 261.59 229.81 261.67 229.41C261.76 229.01 262.34 228.57 262.41 228.17C262.49 227.76 262.20 227.39 262.12 227.00C262.04 226.61 261.91 226.20 261.93 225.81C261.95 225.42 262.21 225.04 262.23 224.65C262.26 224.26 262.02 223.83 262.08 223.45C262.14 223.08 262.60 222.77 262.60 222.38C262.61 221.99 262.12 221.49 262.12 221.11C262.12 220.72 262.42 220.41 262.59 220.08C262.75 219.75 263.04 219.49 263.10 219.13C263.16 218.77 262.89 218.28 262.95 217.94C263.01 217.60 263.32 217.37 263.46 217.08C263.61 216.78 263.75 216.51 263.83 216.19C263.92 215.88 263.86 215.47 263.97 215.20C264.09 214.92 264.38 214.77 264.52 214.53C264.66 214.29 264.77 214.05 264.84 213.74C264.91 213.44 264.82 212.98 264.91 212.72C265.01 212.46 265.22 212.29 265.42 212.17C265.62 212.05 265.97 212.17 266.11 211.99C266.26 211.81 266.15 211.23 266.29 211.08C266.43 210.93 266.79 211.19 266.96 211.11C267.14 211.03 267.21 210.79 267.34 210.60C267.47 210.42 267.57 210.11 267.73 210.01C267.88 209.92 268.09 210.00 268.26 210.02C268.43 210.04 268.60 210.12 268.76 210.13C268.93 210.14 269.08 210.08 269.24 210.09C269.40 210.09 269.57 210.09 269.72 210.16C269.88 210.23 269.98 210.48 270.16 210.48C270.34 210.49 270.65 210.11 270.80 210.21C270.94 210.31 270.91 210.91 271.05 211.09C271.18 211.27 271.41 211.20 271.60 211.28C271.78 211.36 272.02 211.41 272.16 211.59C272.30 211.76 272.29 212.15 272.46 212.33C272.62 212.51 273.02 212.43 273.14 212.66C273.26 212.89 273.04 213.48 273.18 213.73C273.31 213.97 273.77 213.93 273.95 214.15C274.14 214.36 274.19 214.71 274.27 215.02C274.36 215.33 274.36 215.70 274.47 216.01C274.58 216.31 274.86 216.53 274.93 216.87C275.00 217.20 274.82 217.67 274.90 218.01C274.98 218.35 275.31 218.59 275.43 218.92C275.55 219.26 275.59 219.64 275.62 220.01C275.65 220.39 275.58 220.80 275.59 221.18C275.60 221.57 275.63 221.94 275.71 222.32C275.78 222.70 275.99 223.05 276.02 223.44C276.04 223.83 275.92 224.24 275.86 224.64C275.79 225.04 275.57 225.44 275.64 225.83C275.70 226.22 276.14 226.61 276.25 227.00Z" fill="none" stroke="#fff" stroke-width="0.55" stroke-opacity="0.95"/>
<g clip-path="url(#cf)"><g shape-rendering="crispEdges"><path fill="#68e8e6" d="M412.8 190.7h5.80v3.60h-5.80zM412.8 194.0h5.80v3.60h-5.80zM412.8 197.3h5.80v3.60h-5.80zM412.8 200.6h5.80v3.60h-5.80zM412.8 203.9h5.80v3.60h-5.80zM412.8 207.2h5.80v3.60h-5.80zM412.8 210.5h5.80v3.60h-5.80zM412.8 213.8h5.80v3.60h-5.80z"/><path fill="#7af4de" d="M418.3 190.7h5.80v3.60h-5.80zM418.3 194.0h5.80v3.60h-5.80zM418.3 197.3h5.80v3.60h-5.80zM418.3 200.6h5.80v3.60h-5.80zM418.3 203.9h5.80v3.60h-5.80zM418.3 207.2h5.80v3.60h-5.80zM418.3 210.5h5.80v3.60h-5.80zM418.3 213.8h5.80v3.60h-5.80zM418.3 217.1h5.80v3.60h-5.80zM418.3 220.4h5.80v3.60h-5.80zM418.3 223.7h5.80v3.60h-5.80zM418.3 227.0h5.80v3.60h-5.80zM418.3 230.3h5.80v3.60h-5.80zM418.3 233.6h5.80v3.60h-5.80zM418.3 236.9h5.80v3.60h-5.80zM418.3 240.2h5.80v3.60h-5.80zM418.3 243.5h5.80v3.60h-5.80zM418.3 246.8h5.80v3.60h-5.80zM418.3 250.1h5.80v3.60h-5.80zM418.3 253.4h5.80v3.60h-5.80zM418.3 256.7h5.80v3.60h-5.80zM418.3 260.0h5.80v3.60h-5.80z"/><path fill="#91fdd3" d="M423.8 190.7h5.80v3.60h-5.80zM423.8 194.0h5.80v3.60h-5.80zM423.8 197.3h5.80v3.60h-5.80zM423.8 200.6h5.80v3.60h-5.80zM423.8 203.9h5.80v3.60h-5.80zM423.8 207.2h5.80v3.60h-5.80zM423.8 210.5h5.80v3.60h-5.80zM423.8 213.8h5.80v3.60h-5.80zM423.8 217.1h5.80v3.60h-5.80zM423.8 220.4h5.80v3.60h-5.80zM423.8 223.7h5.80v3.60h-5.80zM423.8 227.0h5.80v3.60h-5.80zM423.8 230.3h5.80v3.60h-5.80zM423.8 233.6h5.80v3.60h-5.80zM423.8 236.9h5.80v3.60h-5.80zM423.8 240.2h5.80v3.60h-5.80zM423.8 243.5h5.80v3.60h-5.80zM423.8 246.8h5.80v3.60h-5.80zM423.8 250.1h5.80v3.60h-5.80zM423.8 253.4h5.80v3.60h-5.80zM423.8 256.7h5.80v3.60h-5.80zM423.8 260.0h5.80v3.60h-5.80zM423.8 263.3h5.80v3.60h-5.80zM423.8 266.6h5.80v3.60h-5.80zM423.8 269.9h5.80v3.60h-5.80zM423.8 273.2h5.80v3.60h-5.80zM423.8 276.5h5.80v3.60h-5.80z"/><path fill="#a8ffc7" d="M429.3 190.7h5.80v3.60h-5.80zM429.3 194.0h5.80v3.60h-5.80zM429.3 197.3h5.80v3.60h-5.80zM429.3 200.6h5.80v3.60h-5.80zM429.3 203.9h5.80v3.60h-5.80zM429.3 207.2h5.80v3.60h-5.80zM429.3 210.5h5.80v3.60h-5.80zM429.3 213.8h5.80v3.60h-5.80zM429.3 217.1h5.80v3.60h-5.80zM429.3 220.4h5.80v3.60h-5.80zM429.3 223.7h5.80v3.60h-5.80zM429.3 227.0h5.80v3.60h-5.80zM429.3 230.3h5.80v3.60h-5.80zM429.3 233.6h5.80v3.60h-5.80zM429.3 236.9h5.80v3.60h-5.80zM429.3 240.2h5.80v3.60h-5.80zM429.3 243.5h5.80v3.60h-5.80zM429.3 246.8h5.80v3.60h-5.80zM429.3 250.1h5.80v3.60h-5.80zM429.3 253.4h5.80v3.60h-5.80zM429.3 256.7h5.80v3.60h-5.80zM429.3 260.0h5.80v3.60h-5.80zM429.3 263.3h5.80v3.60h-5.80zM429.3 266.6h5.80v3.60h-5.80zM429.3 269.9h5.80v3.60h-5.80zM429.3 273.2h5.80v3.60h-5.80zM429.3 276.5h5.80v3.60h-5.80z"/><path fill="#c8f6b3" d="M434.8 190.7h5.80v3.60h-5.80zM434.8 194.0h5.80v3.60h-5.80zM434.8 197.3h5.80v3.60h-5.80zM434.8 200.6h5.80v3.60h-5.80zM434.8 203.9h5.80v3.60h-5.80zM434.8 207.2h5.80v3.60h-5.80zM434.8 210.5h5.80v3.60h-5.80zM434.8 213.8h5.80v3.60h-5.80zM434.8 217.1h5.80v3.60h-5.80zM434.8 220.4h5.80v3.60h-5.80zM434.8 223.7h5.80v3.60h-5.80zM434.8 227.0h5.80v3.60h-5.80zM434.8 230.3h5.80v3.60h-5.80zM434.8 233.6h5.80v3.60h-5.80zM434.8 236.9h5.80v3.60h-5.80zM434.8 240.2h5.80v3.60h-5.80zM434.8 243.5h5.80v3.60h-5.80zM434.8 246.8h5.80v3.60h-5.80zM434.8 250.1h5.80v3.60h-5.80zM434.8 253.4h5.80v3.60h-5.80zM434.8 256.7h5.80v3.60h-5.80zM434.8 260.0h5.80v3.60h-5.80zM434.8 263.3h5.80v3.60h-5.80zM434.8 266.6h5.80v3.60h-5.80zM434.8 269.9h5.80v3.60h-5.80zM434.8 273.2h5.80v3.60h-5.80zM434.8 276.5h5.80v3.60h-5.80z"/><path fill="#55d8ed" d="M407.3 194.0h5.80v3.60h-5.80zM401.8 230.3h5.80v3.60h-5.80zM401.8 233.6h5.80v3.60h-5.80zM401.8 236.9h5.80v3.60h-5.80zM401.8 240.2h5.80v3.60h-5.80zM401.8 243.5h5.80v3.60h-5.80zM401.8 246.8h5.80v3.60h-5.80zM396.3 263.3h5.80v3.60h-5.80zM396.3 266.6h5.80v3.60h-5.80zM396.3 269.9h5.80v3.60h-5.80z"/><path fill="#ffc98e" d="M440.3 194.0h5.80v3.60h-5.80zM440.3 197.3h5.80v3.60h-5.80zM440.3 200.6h5.80v3.60h-5.80zM440.3 203.9h5.80v3.60h-5.80zM440.3 207.2h5.80v3.60h-5.80zM440.3 210.5h5.80v3.60h-5.80zM440.3 213.8h5.80v3.60h-5.80zM440.3 217.1h5.80v3.60h-5.80zM440.3 220.4h5.80v3.60h-5.80zM440.3 223.7h5.80v3.60h-5.80zM440.3 227.0h5.80v3.60h-5.80zM440.3 230.3h5.80v3.60h-5.80zM440.3 233.6h5.80v3.60h-5.80zM440.3 236.9h5.80v3.60h-5.80zM440.3 240.2h5.80v3.60h-5.80zM440.3 243.5h5.80v3.60h-5.80zM440.3 246.8h5.80v3.60h-5.80zM440.3 250.1h5.80v3.60h-5.80zM440.3 253.4h5.80v3.60h-5.80zM440.3 256.7h5.80v3.60h-5.80zM440.3 260.0h5.80v3.60h-5.80zM440.3 263.3h5.80v3.60h-5.80zM440.3 266.6h5.80v3.60h-5.80zM440.3 269.9h5.80v3.60h-5.80zM440.3 273.2h5.80v3.60h-5.80z"/><path fill="#4cc4f2" d="M396.3 197.3h5.80v3.60h-5.80zM396.3 200.6h5.80v3.60h-5.80zM396.3 203.9h5.80v3.60h-5.80zM396.3 207.2h5.80v3.60h-5.80zM396.3 210.5h5.80v3.60h-5.80zM390.8 220.4h5.80v3.60h-5.80zM390.8 223.7h5.80v3.60h-5.80zM385.3 227.0h5.80v3.60h-5.80zM390.8 227.0h5.80v3.60h-5.80zM385.3 230.3h5.80v3.60h-5.80zM390.8 230.3h5.80v3.60h-5.80zM379.8 233.6h5.80v3.60h-5.80zM385.3 233.6h5.80v3.60h-5.80zM379.8 236.9h5.80v3.60h-5.80zM385.3 236.9h5.80v3.60h-5.80zM374.3 240.2h5.80v3.60h-5.80zM379.8 240.2h5.80v3.60h-5.80zM368.8 243.5h5.80v3.60h-5.80zM374.3 243.5h5.80v3.60h-5.80zM363.3 246.8h5.80v3.60h-5.80zM368.8 246.8h5.80v3.60h-5.80zM363.3 250.1h5.80v3.60h-5.80z"/><path fill="#4ccef0" d="M401.8 197.3h5.80v3.60h-5.80zM401.8 200.6h5.80v3.60h-5.80zM401.8 203.9h5.80v3.60h-5.80zM396.3 230.3h5.80v3.60h-5.80zM396.3 233.6h5.80v3.60h-5.80zM396.3 236.9h5.80v3.60h-5.80zM396.3 240.2h5.80v3.60h-5.80zM396.3 243.5h5.80v3.60h-5.80zM390.8 246.8h5.80v3.60h-5.80zM385.3 250.1h5.80v3.60h-5.80zM390.8 250.1h5.80v3.60h-5.80zM379.8 253.4h5.80v3.60h-5.80zM385.3 253.4h5.80v3.60h-5.80zM390.8 253.4h5.80v3.60h-5.80zM374.3 256.7h5.80v3.60h-5.80zM379.8 256.7h5.80v3.60h-5.80zM385.3 256.7h5.80v3.60h-5.80zM390.8 256.7h5.80v3.60h-5.80zM374.3 260.0h5.80v3.60h-5.80zM379.8 260.0h5.80v3.60h-5.80zM385.3 260.0h5.80v3.60h-5.80z"/><path fill="#5adceb" d="M407.3 197.3h5.80v3.60h-5.80zM407.3 200.6h5.80v3.60h-5.80zM407.3 203.9h5.80v3.60h-5.80zM407.3 207.2h5.80v3.60h-5.80zM407.3 210.5h5.80v3.60h-5.80zM407.3 213.8h5.80v3.60h-5.80zM407.3 217.1h5.80v3.60h-5.80zM407.3 220.4h5.80v3.60h-5.80zM407.3 223.7h5.80v3.60h-5.80zM401.8 250.1h5.80v3.60h-5.80zM401.8 253.4h5.80v3.60h-5.80zM401.8 256.7h5.80v3.60h-5.80zM401.8 260.0h5.80v3.60h-5.80zM401.8 263.3h5.80v3.60h-5.80zM401.8 266.6h5.80v3.60h-5.80z"/><path fill="#51bff4" d="M390.8 207.2h5.80v3.60h-5.80zM390.8 210.5h5.80v3.60h-5.80zM390.8 213.8h5.80v3.60h-5.80zM385.3 217.1h5.80v3.60h-5.80zM390.8 217.1h5.80v3.60h-5.80zM385.3 220.4h5.80v3.60h-5.80zM379.8 223.7h5.80v3.60h-5.80zM385.3 223.7h5.80v3.60h-5.80zM379.8 227.0h5.80v3.60h-5.80zM374.3 230.3h5.80v3.60h-5.80zM379.8 230.3h5.80v3.60h-5.80zM374.3 233.6h5.80v3.60h-5.80zM368.8 236.9h5.80v3.60h-5.80zM374.3 236.9h5.80v3.60h-5.80zM363.3 240.2h5.80v3.60h-5.80zM368.8 240.2h5.80v3.60h-5.80zM357.8 243.5h5.80v3.60h-5.80zM363.3 243.5h5.80v3.60h-5.80zM357.8 246.8h5.80v3.60h-5.80z"/><path fill="#51d3ee" d="M401.8 207.2h5.80v3.60h-5.80zM401.8 210.5h5.80v3.60h-5.80zM401.8 213.8h5.80v3.60h-5.80zM401.8 217.1h5.80v3.60h-5.80zM401.8 220.4h5.80v3.60h-5.80zM401.8 223.7h5.80v3.60h-5.80zM401.8 227.0h5.80v3.60h-5.80zM396.3 246.8h5.80v3.60h-5.80zM396.3 250.1h5.80v3.60h-5.80zM396.3 253.4h5.80v3.60h-5.80zM396.3 256.7h5.80v3.60h-5.80zM390.8 260.0h5.80v3.60h-5.80zM396.3 260.0h5.80v3.60h-5.80zM379.8 263.3h5.80v3.60h-5.80zM385.3 263.3h5.80v3.60h-5.80zM390.8 263.3h5.80v3.60h-5.80zM385.3 266.6h5.80v3.60h-5.80zM390.8 266.6h5.80v3.60h-5.80zM390.8 269.9h5.80v3.60h-5.80z"/><path fill="#55b9f5" d="M385.3 210.5h5.80v3.60h-5.80zM379.8 213.8h5.80v3.60h-5.80zM385.3 213.8h5.80v3.60h-5.80zM379.8 217.1h5.80v3.60h-5.80zM374.3 220.4h5.80v3.60h-5.80zM379.8 220.4h5.80v3.60h-5.80zM374.3 223.7h5.80v3.60h-5.80zM368.8 227.0h5.80v3.60h-5.80zM374.3 227.0h5.80v3.60h-5.80zM368.8 230.3h5.80v3.60h-5.80zM363.3 233.6h5.80v3.60h-5.80zM368.8 233.6h5.80v3.60h-5.80zM357.8 236.9h5.80v3.60h-5.80zM363.3 236.9h5.80v3.60h-5.80zM357.8 240.2h5.80v3.60h-5.80z"/><path fill="#63a7f8" d="M363.3 213.8h5.80v3.60h-5.80zM357.8 217.1h5.80v3.60h-5.80zM357.8 220.4h5.80v3.60h-5.80z"/><path fill="#5eadf7" d="M368.8 213.8h5.80v3.60h-5.80zM363.3 217.1h5.80v3.60h-5.80zM368.8 217.1h5.80v3.60h-5.80zM363.3 220.4h5.80v3.60h-5.80zM357.8 223.7h5.80v3.60h-5.80zM357.8 227.0h5.80v3.60h-5.80z"/><path fill="#5ab3f6" d="M374.3 213.8h5.80v3.60h-5.80zM374.3 217.1h5.80v3.60h-5.80zM368.8 220.4h5.80v3.60h-5.80zM363.3 223.7h5.80v3.60h-5.80zM368.8 223.7h5.80v3.60h-5.80zM363.3 227.0h5.80v3.60h-5.80zM357.8 230.3h5.80v3.60h-5.80zM363.3 230.3h5.80v3.60h-5.80zM357.8 233.6h5.80v3.60h-5.80z"/><path fill="#47c9f1" d="M396.3 213.8h5.80v3.60h-5.80zM396.3 217.1h5.80v3.60h-5.80zM396.3 220.4h5.80v3.60h-5.80zM396.3 223.7h5.80v3.60h-5.80zM396.3 227.0h5.80v3.60h-5.80zM390.8 233.6h5.80v3.60h-5.80zM390.8 236.9h5.80v3.60h-5.80zM385.3 240.2h5.80v3.60h-5.80zM390.8 240.2h5.80v3.60h-5.80zM379.8 243.5h5.80v3.60h-5.80zM385.3 243.5h5.80v3.60h-5.80zM390.8 243.5h5.80v3.60h-5.80zM374.3 246.8h5.80v3.60h-5.80zM379.8 246.8h5.80v3.60h-5.80zM385.3 246.8h5.80v3.60h-5.80zM368.8 250.1h5.80v3.60h-5.80zM374.3 250.1h5.80v3.60h-5.80zM379.8 250.1h5.80v3.60h-5.80zM363.3 253.4h5.80v3.60h-5.80zM368.8 253.4h5.80v3.60h-5.80zM374.3 253.4h5.80v3.60h-5.80zM368.8 256.7h5.80v3.60h-5.80z"/><path fill="#ffa779" d="M445.8 213.8h5.80v3.60h-5.80zM445.8 217.1h5.80v3.60h-5.80zM445.8 220.4h5.80v3.60h-5.80zM445.8 223.7h5.80v3.60h-5.80zM445.8 227.0h5.80v3.60h-5.80zM445.8 230.3h5.80v3.60h-5.80zM445.8 233.6h5.80v3.60h-5.80zM445.8 236.9h5.80v3.60h-5.80zM445.8 240.2h5.80v3.60h-5.80zM445.8 243.5h5.80v3.60h-5.80zM445.8 246.8h5.80v3.60h-5.80zM445.8 250.1h5.80v3.60h-5.80zM445.8 253.4h5.80v3.60h-5.80zM445.8 256.7h5.80v3.60h-5.80z"/><path fill="#6cebe4" d="M412.8 217.1h5.80v3.60h-5.80zM412.8 220.4h5.80v3.60h-5.80zM412.8 223.7h5.80v3.60h-5.80zM412.8 227.0h5.80v3.60h-5.80zM412.8 230.3h5.80v3.60h-5.80zM412.8 233.6h5.80v3.60h-5.80zM412.8 236.9h5.80v3.60h-5.80zM412.8 240.2h5.80v3.60h-5.80zM412.8 243.5h5.80v3.60h-5.80zM412.8 246.8h5.80v3.60h-5.80zM412.8 250.1h5.80v3.60h-5.80zM412.8 253.4h5.80v3.60h-5.80zM412.8 256.7h5.80v3.60h-5.80z"/><path fill="#5ee0e9" d="M407.3 227.0h5.80v3.60h-5.80zM407.3 230.3h5.80v3.60h-5.80zM407.3 233.6h5.80v3.60h-5.80zM407.3 236.9h5.80v3.60h-5.80zM407.3 240.2h5.80v3.60h-5.80zM407.3 243.5h5.80v3.60h-5.80zM407.3 246.8h5.80v3.60h-5.80zM407.3 250.1h5.80v3.60h-5.80zM401.8 269.9h5.80v3.60h-5.80zM401.8 273.2h5.80v3.60h-5.80z"/><path fill="#63e4e8" d="M407.3 253.4h5.80v3.60h-5.80zM407.3 256.7h5.80v3.60h-5.80zM407.3 260.0h5.80v3.60h-5.80zM407.3 263.3h5.80v3.60h-5.80zM407.3 266.6h5.80v3.60h-5.80zM407.3 269.9h5.80v3.60h-5.80zM407.3 273.2h5.80v3.60h-5.80zM407.3 276.5h5.80v3.60h-5.80z"/><path fill="#71eee2" d="M412.8 260.0h5.80v3.60h-5.80zM412.8 263.3h5.80v3.60h-5.80zM412.8 266.6h5.80v3.60h-5.80zM412.8 269.9h5.80v3.60h-5.80zM412.8 273.2h5.80v3.60h-5.80zM412.8 276.5h5.80v3.60h-5.80z"/><path fill="#7ef6dc" d="M418.3 263.3h5.80v3.60h-5.80zM418.3 266.6h5.80v3.60h-5.80zM418.3 269.9h5.80v3.60h-5.80zM418.3 273.2h5.80v3.60h-5.80zM418.3 276.5h5.80v3.60h-5.80z"/></g></g>
<path d="M357.80 220.70C359.87 220.35 366.67 219.32 370.20 218.60C373.73 217.88 375.70 217.50 379.00 216.40C382.30 215.30 386.33 214.02 390.00 212.00C393.67 209.98 397.70 206.87 401.00 204.30C404.30 201.73 406.50 198.68 409.80 196.60C413.10 194.52 417.13 192.60 420.80 191.80C424.47 191.00 428.68 191.18 431.80 191.80C434.92 192.42 437.48 193.05 439.50 195.50C441.52 197.95 442.80 202.65 443.90 206.50C445.00 210.35 445.55 213.85 446.10 218.60C446.65 223.35 447.22 229.43 447.20 235.00C447.18 240.57 446.70 247.17 446.00 252.00C445.30 256.83 444.33 260.83 443.00 264.00C441.67 267.17 440.17 270.00 438.00 271.00C435.83 272.00 433.00 270.75 430.00 270.00C427.00 269.25 423.67 267.58 420.00 266.50C416.33 265.42 411.67 264.58 408.00 263.50C404.33 262.42 399.67 260.58 398.00 260.00" fill="none" stroke="#fff" stroke-width="0.75" stroke-opacity="0.95"/>
<path d="M390.40 254.20C389.75 253.38 387.97 250.95 386.50 249.30C385.03 247.65 382.58 246.27 381.60 244.30C380.62 242.33 379.78 239.47 380.60 237.50C381.42 235.53 383.88 234.32 386.50 232.50C389.12 230.68 393.02 228.72 396.30 226.60C399.58 224.48 402.85 222.97 406.20 219.80C409.55 216.63 413.60 210.37 416.40 207.60C419.20 204.83 420.80 203.93 423.00 203.20C425.20 202.47 427.40 202.47 429.60 203.20C431.80 203.93 434.37 205.40 436.20 207.60C438.03 209.80 439.55 212.67 440.60 216.40C441.65 220.13 442.18 224.73 442.50 230.00C442.82 235.27 442.92 242.67 442.50 248.00C442.08 253.33 440.42 259.67 440.00 262.00" fill="none" stroke="#fff" stroke-width="0.75" stroke-opacity="0.95"/>
<path d="M417.00 226.60C414.68 228.35 412.23 230.03 410.10 232.50C407.97 234.97 405.02 238.77 404.20 241.40C403.38 244.03 403.88 246.17 405.20 248.30C406.52 250.43 408.77 252.20 412.10 254.20C415.43 256.20 421.55 259.47 425.20 260.30C428.85 261.13 431.62 260.48 434.00 259.20C436.38 257.92 438.40 255.53 439.50 252.60C440.60 249.67 440.78 245.27 440.60 241.60C440.42 237.93 439.83 233.70 438.40 230.60C436.97 227.50 434.40 224.43 432.00 223.00C429.60 221.57 426.50 221.40 424.00 222.00C421.50 222.60 419.32 224.85 417.00 226.60Z" fill="none" stroke="#fff" stroke-width="0.75" stroke-opacity="0.95"/>
<text x="107.7" y="48.9" font-size="3.4" fill="#5a5a5a" text-anchor="middle" transform="rotate(62 107.7 47.7)">50 %</text>
<text x="113.2" y="81.7" font-size="3.4" fill="#5a5a5a" text-anchor="middle" transform="rotate(-68 113.2 80.5)">75 %</text>
<text x="114.3" y="108.1" font-size="3.4" fill="#5a5a5a" text-anchor="middle" transform="rotate(-60 114.3 106.9)">25 %</text>
<text x="58.2" y="85.0" font-size="3.4" fill="#5a5a5a" text-anchor="middle" transform="rotate(62 58.2 83.8)">25 %</text>
<text x="218.9" y="82.2" font-size="3.4" fill="#5a5a5a" text-anchor="middle" transform="rotate(70 218.9 81.0)">25 %</text>
<text x="233.2" y="79.2" font-size="3.4" fill="#5a5a5a" text-anchor="middle" transform="rotate(80 233.2 78.0)">50 %</text>
<text x="268.4" y="81.7" font-size="3.4" fill="#5a5a5a" text-anchor="middle" transform="rotate(-55 268.4 80.5)">50 %</text>
<text x="276.1" y="93.8" font-size="3.4" fill="#5a5a5a" text-anchor="middle" transform="rotate(-65 276.1 92.6)">75 %</text>
<text x="390.5" y="63.2" font-size="3.4" fill="#5a5a5a" text-anchor="middle" transform="rotate(-80 390.5 62.0)">25 %</text>
<text x="437.0" y="53.2" font-size="3.4" fill="#5a5a5a" text-anchor="middle" transform="rotate(45 437.0 52.0)">50 %</text>
<text x="451.0" y="68.2" font-size="3.4" fill="#5a5a5a" text-anchor="middle" transform="rotate(80 451.0 67.0)">75 %</text>
<text x="451.5" y="89.2" font-size="3.4" fill="#5a5a5a" text-anchor="middle" transform="rotate(80 451.5 88.0)">25 %</text>
<text x="58.0" y="202.2" font-size="3.4" fill="#5a5a5a" text-anchor="middle" transform="rotate(-60 58.0 201.0)">25 %</text>
<text x="46.6" y="241.4" font-size="3.4" fill="#5a5a5a" text-anchor="middle" transform="rotate(80 46.6 240.2)">50 %</text>
<text x="112.0" y="205.9" font-size="3.4" fill="#5a5a5a" text-anchor="middle" transform="rotate(70 112.0 204.7)">75 %</text>
<text x="65.0" y="232.2" font-size="3.4" fill="#5a5a5a" text-anchor="middle" transform="rotate(75 65.0 231.0)">75 %</text>
<text x="254.5" y="187.2" font-size="3.4" fill="#5a5a5a" text-anchor="middle" transform="rotate(20 254.5 186.0)">25 %</text>
<text x="264.4" y="204.7" font-size="3.4" fill="#5a5a5a" text-anchor="middle" transform="rotate(-40 264.4 203.5)">50 %</text>
<text x="247.0" y="233.2" font-size="3.4" fill="#5a5a5a" text-anchor="middle" transform="rotate(40 247.0 232.0)">75 %</text>
<text x="362.9" y="212.2" font-size="3.4" fill="#5a5a5a" text-anchor="middle" transform="rotate(-10 362.9 211.0)">25 %</text>
<text x="423.0" y="218.7" font-size="3.4" fill="#5a5a5a" text-anchor="middle" transform="rotate(-20 423.0 217.5)">50 %</text>
<text x="401.0" y="262.7" font-size="3.4" fill="#5a5a5a" text-anchor="middle" transform="rotate(30 401.0 261.5)">75 %</text>
<text x="446.0" y="237.2" font-size="3.4" fill="#5a5a5a" text-anchor="middle" transform="rotate(90 446.0 236.0)">50 %</text>
<path d="M35.62 20.40V134.70M47.84 20.40V134.70M60.07 20.40V134.70M72.29 20.40V134.70M84.51 20.40V134.70M96.73 20.40V134.70M108.96 20.40V134.70M121.18 20.40V134.70M23.40 122.00H133.40M23.40 109.30H133.40M23.40 96.60H133.40M23.40 83.90H133.40M23.40 71.20H133.40M23.40 58.50H133.40M23.40 45.80H133.40M23.40 33.10H133.40" stroke="#909090" stroke-opacity="0.16" stroke-width="0.5" stroke-dasharray="1.2,0.8" fill="none"/>
<path d="M199.92 20.40V134.70M212.14 20.40V134.70M224.37 20.40V134.70M236.59 20.40V134.70M248.81 20.40V134.70M261.03 20.40V134.70M273.26 20.40V134.70M285.48 20.40V134.70M187.70 122.00H297.70M187.70 109.30H297.70M187.70 96.60H297.70M187.70 83.90H297.70M187.70 71.20H297.70M187.70 58.50H297.70M187.70 45.80H297.70M187.70 33.10H297.70" stroke="#909090" stroke-opacity="0.16" stroke-width="0.5" stroke-dasharray="1.2,0.8" fill="none"/>
<path d="M372.97 20.40V134.70M391.23 20.40V134.70M409.50 20.40V134.70M427.77 20.40V134.70M446.03 20.40V134.70M354.70 122.00H464.30M354.70 109.30H464.30M354.70 96.60H464.30M354.70 83.90H464.30M354.70 71.20H464.30M354.70 58.50H464.30M354.70 45.80H464.30M354.70 33.10H464.30" stroke="#909090" stroke-opacity="0.16" stroke-width="0.5" stroke-dasharray="1.2,0.8" fill="none"/>
<path d="M40.32 168.40V282.90M57.25 168.40V282.90M74.17 168.40V282.90M91.09 168.40V282.90M108.02 168.40V282.90M124.94 168.40V282.90M23.40 263.82H133.40M23.40 244.73H133.40M23.40 225.65H133.40M23.40 206.57H133.40M23.40 187.48H133.40" stroke="#909090" stroke-opacity="0.16" stroke-width="0.5" stroke-dasharray="1.2,0.8" fill="none"/>
<path d="M204.62 168.40V282.50M221.55 168.40V282.50M238.47 168.40V282.50M255.39 168.40V282.50M272.32 168.40V282.50M289.24 168.40V282.50M187.70 263.48H297.70M187.70 244.47H297.70M187.70 225.45H297.70M187.70 206.43H297.70M187.70 187.42H297.70" stroke="#909090" stroke-opacity="0.16" stroke-width="0.5" stroke-dasharray="1.2,0.8" fill="none"/>
<path d="M373.67 169.60V280.40M389.84 169.60V280.40M406.01 169.60V280.40M422.18 169.60V280.40M438.35 169.60V280.40M454.52 169.60V280.40M357.50 261.93H462.60M357.50 243.47H462.60M357.50 225.00H462.60M357.50 206.53H462.60M357.50 188.07H462.60" stroke="#909090" stroke-opacity="0.16" stroke-width="0.5" stroke-dasharray="1.2,0.8" fill="none"/>
<rect x="23.40" y="20.40" width="110.00" height="114.30" fill="none" stroke="#666" stroke-width="0.8"/>
<text x="23.40" y="140.78" font-size="4.8" text-anchor="middle" fill="#2a2a2a" stroke="#2a2a2a" stroke-width="0.1" transform="matrix(1 0 0 0.86 0 19.71)">−1.5</text>
<text x="35.62" y="140.78" font-size="4.8" text-anchor="middle" fill="#2a2a2a" stroke="#2a2a2a" stroke-width="0.1" transform="matrix(1 0 0 0.86 0 19.71)">−1.0</text>
<text x="47.84" y="140.78" font-size="4.8" text-anchor="middle" fill="#2a2a2a" stroke="#2a2a2a" stroke-width="0.1" transform="matrix(1 0 0 0.86 0 19.71)">−0.5</text>
<text x="60.07" y="140.78" font-size="4.8" text-anchor="middle" fill="#2a2a2a" stroke="#2a2a2a" stroke-width="0.1" transform="matrix(1 0 0 0.86 0 19.71)">0.0</text>
<text x="72.29" y="140.78" font-size="4.8" text-anchor="middle" fill="#2a2a2a" stroke="#2a2a2a" stroke-width="0.1" transform="matrix(1 0 0 0.86 0 19.71)">0.5</text>
<text x="84.51" y="140.78" font-size="4.8" text-anchor="middle" fill="#2a2a2a" stroke="#2a2a2a" stroke-width="0.1" transform="matrix(1 0 0 0.86 0 19.71)">1.0</text>
<text x="96.73" y="140.78" font-size="4.8" text-anchor="middle" fill="#2a2a2a" stroke="#2a2a2a" stroke-width="0.1" transform="matrix(1 0 0 0.86 0 19.71)">1.5</text>
<text x="108.96" y="140.78" font-size="4.8" text-anchor="middle" fill="#2a2a2a" stroke="#2a2a2a" stroke-width="0.1" transform="matrix(1 0 0 0.86 0 19.71)">2.0</text>
<text x="121.18" y="140.78" font-size="4.8" text-anchor="middle" fill="#2a2a2a" stroke="#2a2a2a" stroke-width="0.1" transform="matrix(1 0 0 0.86 0 19.71)">2.5</text>
<text x="133.40" y="140.78" font-size="4.8" text-anchor="middle" fill="#2a2a2a" stroke="#2a2a2a" stroke-width="0.1" transform="matrix(1 0 0 0.86 0 19.71)">3.0</text>
<text x="21.40" y="136.14" font-size="4.8" text-anchor="end" fill="#2a2a2a" stroke="#2a2a2a" stroke-width="0.1" transform="matrix(1 0 0 0.86 0 19.06)">2.0</text>
<text x="21.40" y="123.44" font-size="4.8" text-anchor="end" fill="#2a2a2a" stroke="#2a2a2a" stroke-width="0.1" transform="matrix(1 0 0 0.86 0 17.28)">2.5</text>
<text x="21.40" y="110.74" font-size="4.8" text-anchor="end" fill="#2a2a2a" stroke="#2a2a2a" stroke-width="0.1" transform="matrix(1 0 0 0.86 0 15.50)">3.0</text>
<text x="21.40" y="98.04" font-size="4.8" text-anchor="end" fill="#2a2a2a" stroke="#2a2a2a" stroke-width="0.1" transform="matrix(1 0 0 0.86 0 13.73)">3.5</text>
<text x="21.40" y="85.34" font-size="4.8" text-anchor="end" fill="#2a2a2a" stroke="#2a2a2a" stroke-width="0.1" transform="matrix(1 0 0 0.86 0 11.95)">4.0</text>
<text x="21.40" y="72.64" font-size="4.8" text-anchor="end" fill="#2a2a2a" stroke="#2a2a2a" stroke-width="0.1" transform="matrix(1 0 0 0.86 0 10.17)">4.5</text>
<text x="21.40" y="59.94" font-size="4.8" text-anchor="end" fill="#2a2a2a" stroke="#2a2a2a" stroke-width="0.1" transform="matrix(1 0 0 0.86 0 8.39)">5.0</text>
<text x="21.40" y="47.24" font-size="4.8" text-anchor="end" fill="#2a2a2a" stroke="#2a2a2a" stroke-width="0.1" transform="matrix(1 0 0 0.86 0 6.61)">5.5</text>
<text x="21.40" y="34.54" font-size="4.8" text-anchor="end" fill="#2a2a2a" stroke="#2a2a2a" stroke-width="0.1" transform="matrix(1 0 0 0.86 0 4.84)">6.0</text>
<text x="21.40" y="21.84" font-size="4.8" text-anchor="end" fill="#2a2a2a" stroke="#2a2a2a" stroke-width="0.1" transform="matrix(1 0 0 0.86 0 3.06)">6.5</text>
<path d="M23.40 134.70v1.5M35.62 134.70v1.5M47.84 134.70v1.5M60.07 134.70v1.5M72.29 134.70v1.5M84.51 134.70v1.5M96.73 134.70v1.5M108.96 134.70v1.5M121.18 134.70v1.5M133.40 134.70v1.5M23.40 134.70h-1.5M23.40 122.00h-1.5M23.40 109.30h-1.5M23.40 96.60h-1.5M23.40 83.90h-1.5M23.40 71.20h-1.5M23.40 58.50h-1.5M23.40 45.80h-1.5M23.40 33.10h-1.5M23.40 20.40h-1.5" stroke="#555" stroke-width="0.7"/>
<text x="78.40" y="18.60" font-size="6.3" text-anchor="middle" fill="#2a2a2a" stroke="#2a2a2a" stroke-width="0.08" textLength="47.1" lengthAdjust="spacingAndGlyphs">East Asia: GlOcean</text>
<text x="79.90" y="146.40" font-size="5.2" text-anchor="middle" fill="#2a2a2a" stroke="#2a2a2a" stroke-width="0.1" textLength="36.7" lengthAdjust="spacingAndGlyphs">ln(P) ln[mm/d]</text>
<text x="11.65" y="77.00" font-size="5.5" text-anchor="middle" fill="#2a2a2a" stroke="#2a2a2a" stroke-width="0.1" transform="rotate(-90 11.65 77.00)" textLength="44.6" lengthAdjust="spacingAndGlyphs">ln(Nd) [ln(cm<tspan dy="-1.8" font-size="3.8">−3</tspan><tspan dy="1.8">)]</tspan></text>
<text x="4.50" y="12.98" font-size="11.3" text-anchor="start" fill="#3a3a3a" stroke="#3a3a3a" stroke-width="0.08" textLength="12.0" lengthAdjust="spacingAndGlyphs">(a)</text>
<rect x="140.00" y="20.40" width="6.00" height="114.30" fill="url(#cbga)"/>
<text x="148.20" y="136.14" font-size="4.8" text-anchor="start" fill="#2a2a2a" stroke="#2a2a2a" stroke-width="0.1" transform="matrix(1 0 0 0.86 0 19.06)">0</text>
<text x="148.20" y="121.85" font-size="4.8" text-anchor="start" fill="#2a2a2a" stroke="#2a2a2a" stroke-width="0.1" transform="matrix(1 0 0 0.86 0 17.06)">25</text>
<text x="148.20" y="107.56" font-size="4.8" text-anchor="start" fill="#2a2a2a" stroke="#2a2a2a" stroke-width="0.1" transform="matrix(1 0 0 0.86 0 15.06)">50</text>
<text x="148.20" y="93.28" font-size="4.8" text-anchor="start" fill="#2a2a2a" stroke="#2a2a2a" stroke-width="0.1" transform="matrix(1 0 0 0.86 0 13.06)">75</text>
<text x="148.20" y="78.99" font-size="4.8" text-anchor="start" fill="#2a2a2a" stroke="#2a2a2a" stroke-width="0.1" transform="matrix(1 0 0 0.86 0 11.06)">100</text>
<text x="148.20" y="64.70" font-size="4.8" text-anchor="start" fill="#2a2a2a" stroke="#2a2a2a" stroke-width="0.1" transform="matrix(1 0 0 0.86 0 9.06)">125</text>
<text x="148.20" y="50.41" font-size="4.8" text-anchor="start" fill="#2a2a2a" stroke="#2a2a2a" stroke-width="0.1" transform="matrix(1 0 0 0.86 0 7.06)">150</text>
<text x="148.20" y="36.13" font-size="4.8" text-anchor="start" fill="#2a2a2a" stroke="#2a2a2a" stroke-width="0.1" transform="matrix(1 0 0 0.86 0 5.06)">175</text>
<text x="148.20" y="21.84" font-size="4.8" text-anchor="start" fill="#2a2a2a" stroke="#2a2a2a" stroke-width="0.1" transform="matrix(1 0 0 0.86 0 3.06)">200</text>
<path d="M146.00 134.70h1.0M146.00 120.41h1.0M146.00 106.12h1.0M146.00 91.84h1.0M146.00 77.55h1.0M146.00 63.26h1.0M146.00 48.97h1.0M146.00 34.69h1.0M146.00 20.40h1.0" stroke="#777" stroke-width="0.5"/>
<rect x="187.70" y="20.40" width="110.00" height="114.30" fill="none" stroke="#666" stroke-width="0.8"/>
<text x="187.70" y="140.78" font-size="4.8" text-anchor="middle" fill="#2a2a2a" stroke="#2a2a2a" stroke-width="0.1" transform="matrix(1 0 0 0.86 0 19.71)">−1.5</text>
<text x="199.92" y="140.78" font-size="4.8" text-anchor="middle" fill="#2a2a2a" stroke="#2a2a2a" stroke-width="0.1" transform="matrix(1 0 0 0.86 0 19.71)">−1.0</text>
<text x="212.14" y="140.78" font-size="4.8" text-anchor="middle" fill="#2a2a2a" stroke="#2a2a2a" stroke-width="0.1" transform="matrix(1 0 0 0.86 0 19.71)">−0.5</text>
<text x="224.37" y="140.78" font-size="4.8" text-anchor="middle" fill="#2a2a2a" stroke="#2a2a2a" stroke-width="0.1" transform="matrix(1 0 0 0.86 0 19.71)">0.0</text>
<text x="236.59" y="140.78" font-size="4.8" text-anchor="middle" fill="#2a2a2a" stroke="#2a2a2a" stroke-width="0.1" transform="matrix(1 0 0 0.86 0 19.71)">0.5</text>
<text x="248.81" y="140.78" font-size="4.8" text-anchor="middle" fill="#2a2a2a" stroke="#2a2a2a" stroke-width="0.1" transform="matrix(1 0 0 0.86 0 19.71)">1.0</text>
<text x="261.03" y="140.78" font-size="4.8" text-anchor="middle" fill="#2a2a2a" stroke="#2a2a2a" stroke-width="0.1" transform="matrix(1 0 0 0.86 0 19.71)">1.5</text>
<text x="273.26" y="140.78" font-size="4.8" text-anchor="middle" fill="#2a2a2a" stroke="#2a2a2a" stroke-width="0.1" transform="matrix(1 0 0 0.86 0 19.71)">2.0</text>
<text x="285.48" y="140.78" font-size="4.8" text-anchor="middle" fill="#2a2a2a" stroke="#2a2a2a" stroke-width="0.1" transform="matrix(1 0 0 0.86 0 19.71)">2.5</text>
<text x="297.70" y="140.78" font-size="4.8" text-anchor="middle" fill="#2a2a2a" stroke="#2a2a2a" stroke-width="0.1" transform="matrix(1 0 0 0.86 0 19.71)">3.0</text>
<text x="185.70" y="136.14" font-size="4.8" text-anchor="end" fill="#2a2a2a" stroke="#2a2a2a" stroke-width="0.1" transform="matrix(1 0 0 0.86 0 19.06)">2.0</text>
<text x="185.70" y="123.44" font-size="4.8" text-anchor="end" fill="#2a2a2a" stroke="#2a2a2a" stroke-width="0.1" transform="matrix(1 0 0 0.86 0 17.28)">2.5</text>
<text x="185.70" y="110.74" font-size="4.8" text-anchor="end" fill="#2a2a2a" stroke="#2a2a2a" stroke-width="0.1" transform="matrix(1 0 0 0.86 0 15.50)">3.0</text>
<text x="185.70" y="98.04" font-size="4.8" text-anchor="end" fill="#2a2a2a" stroke="#2a2a2a" stroke-width="0.1" transform="matrix(1 0 0 0.86 0 13.73)">3.5</text>
<text x="185.70" y="85.34" font-size="4.8" text-anchor="end" fill="#2a2a2a" stroke="#2a2a2a" stroke-width="0.1" transform="matrix(1 0 0 0.86 0 11.95)">4.0</text>
<text x="185.70" y="72.64" font-size="4.8" text-anchor="end" fill="#2a2a2a" stroke="#2a2a2a" stroke-width="0.1" transform="matrix(1 0 0 0.86 0 10.17)">4.5</text>
<text x="185.70" y="59.94" font-size="4.8" text-anchor="end" fill="#2a2a2a" stroke="#2a2a2a" stroke-width="0.1" transform="matrix(1 0 0 0.86 0 8.39)">5.0</text>
<text x="185.70" y="47.24" font-size="4.8" text-anchor="end" fill="#2a2a2a" stroke="#2a2a2a" stroke-width="0.1" transform="matrix(1 0 0 0.86 0 6.61)">5.5</text>
<text x="185.70" y="34.54" font-size="4.8" text-anchor="end" fill="#2a2a2a" stroke="#2a2a2a" stroke-width="0.1" transform="matrix(1 0 0 0.86 0 4.84)">6.0</text>
<text x="185.70" y="21.84" font-size="4.8" text-anchor="end" fill="#2a2a2a" stroke="#2a2a2a" stroke-width="0.1" transform="matrix(1 0 0 0.86 0 3.06)">6.5</text>
<path d="M187.70 134.70v1.5M199.92 134.70v1.5M212.14 134.70v1.5M224.37 134.70v1.5M236.59 134.70v1.5M248.81 134.70v1.5M261.03 134.70v1.5M273.26 134.70v1.5M285.48 134.70v1.5M297.70 134.70v1.5M187.70 134.70h-1.5M187.70 122.00h-1.5M187.70 109.30h-1.5M187.70 96.60h-1.5M187.70 83.90h-1.5M187.70 71.20h-1.5M187.70 58.50h-1.5M187.70 45.80h-1.5M187.70 33.10h-1.5M187.70 20.40h-1.5" stroke="#555" stroke-width="0.7"/>
<text x="242.70" y="18.60" font-size="6.3" text-anchor="middle" fill="#2a2a2a" stroke="#2a2a2a" stroke-width="0.08" textLength="61.4" lengthAdjust="spacingAndGlyphs">North America: GlOcean</text>
<text x="244.00" y="146.60" font-size="5.2" text-anchor="middle" fill="#2a2a2a" stroke="#2a2a2a" stroke-width="0.1" textLength="36.1" lengthAdjust="spacingAndGlyphs">ln(P) ln[mm/d]</text>
<text x="176.45" y="77.10" font-size="5.5" text-anchor="middle" fill="#2a2a2a" stroke="#2a2a2a" stroke-width="0.1" transform="rotate(-90 176.45 77.10)" textLength="43.8" lengthAdjust="spacingAndGlyphs">ln(Nd) [ln(cm<tspan dy="-1.8" font-size="3.8">−3</tspan><tspan dy="1.8">)]</tspan></text>
<text x="183.40" y="12.98" font-size="11.3" text-anchor="start" fill="#3a3a3a" stroke="#3a3a3a" stroke-width="0.08" textLength="12.0" lengthAdjust="spacingAndGlyphs">(b)</text>
<rect x="304.30" y="20.40" width="6.20" height="114.30" fill="url(#cbgb)"/>
<text x="312.70" y="136.14" font-size="4.8" text-anchor="start" fill="#2a2a2a" stroke="#2a2a2a" stroke-width="0.1" transform="matrix(1 0 0 0.86 0 19.06)">0</text>
<text x="312.70" y="121.85" font-size="4.8" text-anchor="start" fill="#2a2a2a" stroke="#2a2a2a" stroke-width="0.1" transform="matrix(1 0 0 0.86 0 17.06)">25</text>
<text x="312.70" y="107.56" font-size="4.8" text-anchor="start" fill="#2a2a2a" stroke="#2a2a2a" stroke-width="0.1" transform="matrix(1 0 0 0.86 0 15.06)">50</text>
<text x="312.70" y="93.28" font-size="4.8" text-anchor="start" fill="#2a2a2a" stroke="#2a2a2a" stroke-width="0.1" transform="matrix(1 0 0 0.86 0 13.06)">75</text>
<text x="312.70" y="78.99" font-size="4.8" text-anchor="start" fill="#2a2a2a" stroke="#2a2a2a" stroke-width="0.1" transform="matrix(1 0 0 0.86 0 11.06)">100</text>
<text x="312.70" y="64.70" font-size="4.8" text-anchor="start" fill="#2a2a2a" stroke="#2a2a2a" stroke-width="0.1" transform="matrix(1 0 0 0.86 0 9.06)">125</text>
<text x="312.70" y="50.41" font-size="4.8" text-anchor="start" fill="#2a2a2a" stroke="#2a2a2a" stroke-width="0.1" transform="matrix(1 0 0 0.86 0 7.06)">150</text>
<text x="312.70" y="36.13" font-size="4.8" text-anchor="start" fill="#2a2a2a" stroke="#2a2a2a" stroke-width="0.1" transform="matrix(1 0 0 0.86 0 5.06)">175</text>
<text x="312.70" y="21.84" font-size="4.8" text-anchor="start" fill="#2a2a2a" stroke="#2a2a2a" stroke-width="0.1" transform="matrix(1 0 0 0.86 0 3.06)">200</text>
<path d="M310.50 134.70h1.0M310.50 120.41h1.0M310.50 106.12h1.0M310.50 91.84h1.0M310.50 77.55h1.0M310.50 63.26h1.0M310.50 48.97h1.0M310.50 34.69h1.0M310.50 20.40h1.0" stroke="#777" stroke-width="0.5"/>
<text x="326.28" y="77.90" font-size="5.6" text-anchor="middle" fill="#2a2a2a" stroke="#2a2a2a" stroke-width="0.1" transform="rotate(-90 326.28 77.90)" textLength="30.3" lengthAdjust="spacingAndGlyphs">LWP [g/m<tspan dy="-1.8" font-size="3.9">2</tspan><tspan dy="1.8">]</tspan></text>
<rect x="354.70" y="20.40" width="109.60" height="114.30" fill="none" stroke="#666" stroke-width="0.8"/>
<text x="354.70" y="140.78" font-size="4.8" text-anchor="middle" fill="#2a2a2a" stroke="#2a2a2a" stroke-width="0.1" transform="matrix(1 0 0 0.86 0 19.71)">−3</text>
<text x="372.97" y="140.78" font-size="4.8" text-anchor="middle" fill="#2a2a2a" stroke="#2a2a2a" stroke-width="0.1" transform="matrix(1 0 0 0.86 0 19.71)">−2</text>
<text x="391.23" y="140.78" font-size="4.8" text-anchor="middle" fill="#2a2a2a" stroke="#2a2a2a" stroke-width="0.1" transform="matrix(1 0 0 0.86 0 19.71)">−1</text>
<text x="409.50" y="140.78" font-size="4.8" text-anchor="middle" fill="#2a2a2a" stroke="#2a2a2a" stroke-width="0.1" transform="matrix(1 0 0 0.86 0 19.71)">0</text>
<text x="427.77" y="140.78" font-size="4.8" text-anchor="middle" fill="#2a2a2a" stroke="#2a2a2a" stroke-width="0.1" transform="matrix(1 0 0 0.86 0 19.71)">1</text>
<text x="446.03" y="140.78" font-size="4.8" text-anchor="middle" fill="#2a2a2a" stroke="#2a2a2a" stroke-width="0.1" transform="matrix(1 0 0 0.86 0 19.71)">2</text>
<text x="464.30" y="140.78" font-size="4.8" text-anchor="middle" fill="#2a2a2a" stroke="#2a2a2a" stroke-width="0.1" transform="matrix(1 0 0 0.86 0 19.71)">3</text>
<text x="352.70" y="136.14" font-size="4.8" text-anchor="end" fill="#2a2a2a" stroke="#2a2a2a" stroke-width="0.1" transform="matrix(1 0 0 0.86 0 19.06)">2.0</text>
<text x="352.70" y="123.44" font-size="4.8" text-anchor="end" fill="#2a2a2a" stroke="#2a2a2a" stroke-width="0.1" transform="matrix(1 0 0 0.86 0 17.28)">2.5</text>
<text x="352.70" y="110.74" font-size="4.8" text-anchor="end" fill="#2a2a2a" stroke="#2a2a2a" stroke-width="0.1" transform="matrix(1 0 0 0.86 0 15.50)">3.0</text>
<text x="352.70" y="98.04" font-size="4.8" text-anchor="end" fill="#2a2a2a" stroke="#2a2a2a" stroke-width="0.1" transform="matrix(1 0 0 0.86 0 13.73)">3.5</text>
<text x="352.70" y="85.34" font-size="4.8" text-anchor="end" fill="#2a2a2a" stroke="#2a2a2a" stroke-width="0.1" transform="matrix(1 0 0 0.86 0 11.95)">4.0</text>
<text x="352.70" y="72.64" font-size="4.8" text-anchor="end" fill="#2a2a2a" stroke="#2a2a2a" stroke-width="0.1" transform="matrix(1 0 0 0.86 0 10.17)">4.5</text>
<text x="352.70" y="59.94" font-size="4.8" text-anchor="end" fill="#2a2a2a" stroke="#2a2a2a" stroke-width="0.1" transform="matrix(1 0 0 0.86 0 8.39)">5.0</text>
<text x="352.70" y="47.24" font-size="4.8" text-anchor="end" fill="#2a2a2a" stroke="#2a2a2a" stroke-width="0.1" transform="matrix(1 0 0 0.86 0 6.61)">5.5</text>
<text x="352.70" y="34.54" font-size="4.8" text-anchor="end" fill="#2a2a2a" stroke="#2a2a2a" stroke-width="0.1" transform="matrix(1 0 0 0.86 0 4.84)">6.0</text>
<text x="352.70" y="21.84" font-size="4.8" text-anchor="end" fill="#2a2a2a" stroke="#2a2a2a" stroke-width="0.1" transform="matrix(1 0 0 0.86 0 3.06)">6.5</text>
<path d="M354.70 134.70v1.5M372.97 134.70v1.5M391.23 134.70v1.5M409.50 134.70v1.5M427.77 134.70v1.5M446.03 134.70v1.5M464.30 134.70v1.5M354.70 134.70h-1.5M354.70 122.00h-1.5M354.70 109.30h-1.5M354.70 96.60h-1.5M354.70 83.90h-1.5M354.70 71.20h-1.5M354.70 58.50h-1.5M354.70 45.80h-1.5M354.70 33.10h-1.5M354.70 20.40h-1.5" stroke="#555" stroke-width="0.7"/>
<text x="409.50" y="18.40" font-size="6.3" text-anchor="middle" fill="#2a2a2a" stroke="#2a2a2a" stroke-width="0.08" textLength="32.7" lengthAdjust="spacingAndGlyphs">NH: GlOcean</text>
<text x="411.10" y="146.60" font-size="5.2" text-anchor="middle" fill="#2a2a2a" stroke="#2a2a2a" stroke-width="0.1" textLength="36.2" lengthAdjust="spacingAndGlyphs">ln(P) ln[mm/d]</text>
<text x="342.65" y="78.10" font-size="5.5" text-anchor="middle" fill="#2a2a2a" stroke="#2a2a2a" stroke-width="0.1" transform="rotate(-90 342.65 78.10)" textLength="44.2" lengthAdjust="spacingAndGlyphs">ln(Nd) [ln(cm<tspan dy="-1.8" font-size="3.8">−3</tspan><tspan dy="1.8">)]</tspan></text>
<text x="346.10" y="15.28" font-size="11.3" text-anchor="start" fill="#3a3a3a" stroke="#3a3a3a" stroke-width="0.08" textLength="12.0" lengthAdjust="spacingAndGlyphs">(c)</text>
<rect x="471.10" y="20.40" width="6.30" height="114.30" fill="url(#cbgc)"/>
<text x="479.60" y="136.14" font-size="4.8" text-anchor="start" fill="#2a2a2a" stroke="#2a2a2a" stroke-width="0.1" transform="matrix(1 0 0 0.86 0 19.06)">0</text>
<text x="479.60" y="121.85" font-size="4.8" text-anchor="start" fill="#2a2a2a" stroke="#2a2a2a" stroke-width="0.1" transform="matrix(1 0 0 0.86 0 17.06)">25</text>
<text x="479.60" y="107.56" font-size="4.8" text-anchor="start" fill="#2a2a2a" stroke="#2a2a2a" stroke-width="0.1" transform="matrix(1 0 0 0.86 0 15.06)">50</text>
<text x="479.60" y="93.28" font-size="4.8" text-anchor="start" fill="#2a2a2a" stroke="#2a2a2a" stroke-width="0.1" transform="matrix(1 0 0 0.86 0 13.06)">75</text>
<text x="479.60" y="78.99" font-size="4.8" text-anchor="start" fill="#2a2a2a" stroke="#2a2a2a" stroke-width="0.1" transform="matrix(1 0 0 0.86 0 11.06)">100</text>
<text x="479.60" y="64.70" font-size="4.8" text-anchor="start" fill="#2a2a2a" stroke="#2a2a2a" stroke-width="0.1" transform="matrix(1 0 0 0.86 0 9.06)">125</text>
<text x="479.60" y="50.41" font-size="4.8" text-anchor="start" fill="#2a2a2a" stroke="#2a2a2a" stroke-width="0.1" transform="matrix(1 0 0 0.86 0 7.06)">150</text>
<text x="479.60" y="36.13" font-size="4.8" text-anchor="start" fill="#2a2a2a" stroke="#2a2a2a" stroke-width="0.1" transform="matrix(1 0 0 0.86 0 5.06)">175</text>
<text x="479.60" y="21.84" font-size="4.8" text-anchor="start" fill="#2a2a2a" stroke="#2a2a2a" stroke-width="0.1" transform="matrix(1 0 0 0.86 0 3.06)">200</text>
<path d="M477.40 134.70h1.0M477.40 120.41h1.0M477.40 106.12h1.0M477.40 91.84h1.0M477.40 77.55h1.0M477.40 63.26h1.0M477.40 48.97h1.0M477.40 34.69h1.0M477.40 20.40h1.0" stroke="#777" stroke-width="0.5"/>
<text x="492.58" y="77.90" font-size="5.6" text-anchor="middle" fill="#2a2a2a" stroke="#2a2a2a" stroke-width="0.1" transform="rotate(-90 492.58 77.90)" textLength="30.3" lengthAdjust="spacingAndGlyphs">LWP [g/m<tspan dy="-1.8" font-size="3.9">2</tspan><tspan dy="1.8">]</tspan></text>
<rect x="23.40" y="168.40" width="110.00" height="114.50" fill="none" stroke="#666" stroke-width="0.8"/>
<text x="23.40" y="288.98" font-size="4.8" text-anchor="middle" fill="#2a2a2a" stroke="#2a2a2a" stroke-width="0.1" transform="matrix(1 0 0 0.86 0 40.46)">−3</text>
<text x="40.32" y="288.98" font-size="4.8" text-anchor="middle" fill="#2a2a2a" stroke="#2a2a2a" stroke-width="0.1" transform="matrix(1 0 0 0.86 0 40.46)">−2</text>
<text x="57.25" y="288.98" font-size="4.8" text-anchor="middle" fill="#2a2a2a" stroke="#2a2a2a" stroke-width="0.1" transform="matrix(1 0 0 0.86 0 40.46)">−1</text>
<text x="74.17" y="288.98" font-size="4.8" text-anchor="middle" fill="#2a2a2a" stroke="#2a2a2a" stroke-width="0.1" transform="matrix(1 0 0 0.86 0 40.46)">0</text>
<text x="91.09" y="288.98" font-size="4.8" text-anchor="middle" fill="#2a2a2a" stroke="#2a2a2a" stroke-width="0.1" transform="matrix(1 0 0 0.86 0 40.46)">1</text>
<text x="108.02" y="288.98" font-size="4.8" text-anchor="middle" fill="#2a2a2a" stroke="#2a2a2a" stroke-width="0.1" transform="matrix(1 0 0 0.86 0 40.46)">2</text>
<text x="124.94" y="288.98" font-size="4.8" text-anchor="middle" fill="#2a2a2a" stroke="#2a2a2a" stroke-width="0.1" transform="matrix(1 0 0 0.86 0 40.46)">3</text>
<text x="21.40" y="284.34" font-size="4.8" text-anchor="end" fill="#2a2a2a" stroke="#2a2a2a" stroke-width="0.1" transform="matrix(1 0 0 0.86 0 39.81)">3.5</text>
<text x="21.40" y="265.26" font-size="4.8" text-anchor="end" fill="#2a2a2a" stroke="#2a2a2a" stroke-width="0.1" transform="matrix(1 0 0 0.86 0 37.14)">4.0</text>
<text x="21.40" y="246.17" font-size="4.8" text-anchor="end" fill="#2a2a2a" stroke="#2a2a2a" stroke-width="0.1" transform="matrix(1 0 0 0.86 0 34.46)">4.5</text>
<text x="21.40" y="227.09" font-size="4.8" text-anchor="end" fill="#2a2a2a" stroke="#2a2a2a" stroke-width="0.1" transform="matrix(1 0 0 0.86 0 31.79)">5.0</text>
<text x="21.40" y="208.01" font-size="4.8" text-anchor="end" fill="#2a2a2a" stroke="#2a2a2a" stroke-width="0.1" transform="matrix(1 0 0 0.86 0 29.12)">5.5</text>
<text x="21.40" y="188.92" font-size="4.8" text-anchor="end" fill="#2a2a2a" stroke="#2a2a2a" stroke-width="0.1" transform="matrix(1 0 0 0.86 0 26.45)">6.0</text>
<text x="21.40" y="169.84" font-size="4.8" text-anchor="end" fill="#2a2a2a" stroke="#2a2a2a" stroke-width="0.1" transform="matrix(1 0 0 0.86 0 23.78)">6.5</text>
<path d="M23.40 282.90v1.5M40.32 282.90v1.5M57.25 282.90v1.5M74.17 282.90v1.5M91.09 282.90v1.5M108.02 282.90v1.5M124.94 282.90v1.5M23.40 282.90h-1.5M23.40 263.82h-1.5M23.40 244.73h-1.5M23.40 225.65h-1.5M23.40 206.57h-1.5M23.40 187.48h-1.5M23.40 168.40h-1.5" stroke="#555" stroke-width="0.7"/>
<text x="78.40" y="166.60" font-size="6.3" text-anchor="middle" fill="#2a2a2a" stroke="#2a2a2a" stroke-width="0.08" textLength="36.0" lengthAdjust="spacingAndGlyphs">East Asia: Obs</text>
<text x="80.50" y="294.60" font-size="5.2" text-anchor="middle" fill="#2a2a2a" stroke="#2a2a2a" stroke-width="0.1" textLength="37.0" lengthAdjust="spacingAndGlyphs">ln(P) ln[mm/d]</text>
<text x="12.15" y="226.00" font-size="5.5" text-anchor="middle" fill="#2a2a2a" stroke="#2a2a2a" stroke-width="0.1" transform="rotate(-90 12.15 226.00)" textLength="46.5" lengthAdjust="spacingAndGlyphs">ln(Nd) [ln(cm<tspan dy="-1.8" font-size="3.8">−3</tspan><tspan dy="1.8">)]</tspan></text>
<text x="4.50" y="159.58" font-size="11.3" text-anchor="start" fill="#3a3a3a" stroke="#3a3a3a" stroke-width="0.08" textLength="12.0" lengthAdjust="spacingAndGlyphs">(d)</text>
<rect x="140.00" y="168.40" width="6.00" height="114.50" fill="url(#cbgd)"/>
<text x="148.20" y="275.30" font-size="4.8" text-anchor="start" fill="#2a2a2a" stroke="#2a2a2a" stroke-width="0.1" transform="matrix(1 0 0 0.86 0 38.54)">25</text>
<text x="148.20" y="260.23" font-size="4.8" text-anchor="start" fill="#2a2a2a" stroke="#2a2a2a" stroke-width="0.1" transform="matrix(1 0 0 0.86 0 36.43)">50</text>
<text x="148.20" y="245.17" font-size="4.8" text-anchor="start" fill="#2a2a2a" stroke="#2a2a2a" stroke-width="0.1" transform="matrix(1 0 0 0.86 0 34.32)">75</text>
<text x="148.20" y="230.10" font-size="4.8" text-anchor="start" fill="#2a2a2a" stroke="#2a2a2a" stroke-width="0.1" transform="matrix(1 0 0 0.86 0 32.21)">100</text>
<text x="148.20" y="215.04" font-size="4.8" text-anchor="start" fill="#2a2a2a" stroke="#2a2a2a" stroke-width="0.1" transform="matrix(1 0 0 0.86 0 30.11)">125</text>
<text x="148.20" y="199.97" font-size="4.8" text-anchor="start" fill="#2a2a2a" stroke="#2a2a2a" stroke-width="0.1" transform="matrix(1 0 0 0.86 0 28.00)">150</text>
<text x="148.20" y="184.91" font-size="4.8" text-anchor="start" fill="#2a2a2a" stroke="#2a2a2a" stroke-width="0.1" transform="matrix(1 0 0 0.86 0 25.89)">175</text>
<text x="148.20" y="169.84" font-size="4.8" text-anchor="start" fill="#2a2a2a" stroke="#2a2a2a" stroke-width="0.1" transform="matrix(1 0 0 0.86 0 23.78)">200</text>
<path d="M146.00 273.86h1.0M146.00 258.79h1.0M146.00 243.73h1.0M146.00 228.66h1.0M146.00 213.60h1.0M146.00 198.53h1.0M146.00 183.47h1.0M146.00 168.40h1.0" stroke="#777" stroke-width="0.5"/>
<rect x="187.70" y="168.40" width="110.00" height="114.10" fill="none" stroke="#666" stroke-width="0.8"/>
<text x="187.70" y="288.58" font-size="4.8" text-anchor="middle" fill="#2a2a2a" stroke="#2a2a2a" stroke-width="0.1" transform="matrix(1 0 0 0.86 0 40.40)">−3</text>
<text x="204.62" y="288.58" font-size="4.8" text-anchor="middle" fill="#2a2a2a" stroke="#2a2a2a" stroke-width="0.1" transform="matrix(1 0 0 0.86 0 40.40)">−2</text>
<text x="221.55" y="288.58" font-size="4.8" text-anchor="middle" fill="#2a2a2a" stroke="#2a2a2a" stroke-width="0.1" transform="matrix(1 0 0 0.86 0 40.40)">−1</text>
<text x="238.47" y="288.58" font-size="4.8" text-anchor="middle" fill="#2a2a2a" stroke="#2a2a2a" stroke-width="0.1" transform="matrix(1 0 0 0.86 0 40.40)">0</text>
<text x="255.39" y="288.58" font-size="4.8" text-anchor="middle" fill="#2a2a2a" stroke="#2a2a2a" stroke-width="0.1" transform="matrix(1 0 0 0.86 0 40.40)">1</text>
<text x="272.32" y="288.58" font-size="4.8" text-anchor="middle" fill="#2a2a2a" stroke="#2a2a2a" stroke-width="0.1" transform="matrix(1 0 0 0.86 0 40.40)">2</text>
<text x="289.24" y="288.58" font-size="4.8" text-anchor="middle" fill="#2a2a2a" stroke="#2a2a2a" stroke-width="0.1" transform="matrix(1 0 0 0.86 0 40.40)">3</text>
<text x="185.70" y="283.94" font-size="4.8" text-anchor="end" fill="#2a2a2a" stroke="#2a2a2a" stroke-width="0.1" transform="matrix(1 0 0 0.86 0 39.75)">3.5</text>
<text x="185.70" y="264.92" font-size="4.8" text-anchor="end" fill="#2a2a2a" stroke="#2a2a2a" stroke-width="0.1" transform="matrix(1 0 0 0.86 0 37.09)">4.0</text>
<text x="185.70" y="245.91" font-size="4.8" text-anchor="end" fill="#2a2a2a" stroke="#2a2a2a" stroke-width="0.1" transform="matrix(1 0 0 0.86 0 34.43)">4.5</text>
<text x="185.70" y="226.89" font-size="4.8" text-anchor="end" fill="#2a2a2a" stroke="#2a2a2a" stroke-width="0.1" transform="matrix(1 0 0 0.86 0 31.76)">5.0</text>
<text x="185.70" y="207.87" font-size="4.8" text-anchor="end" fill="#2a2a2a" stroke="#2a2a2a" stroke-width="0.1" transform="matrix(1 0 0 0.86 0 29.10)">5.5</text>
<text x="185.70" y="188.86" font-size="4.8" text-anchor="end" fill="#2a2a2a" stroke="#2a2a2a" stroke-width="0.1" transform="matrix(1 0 0 0.86 0 26.44)">6.0</text>
<text x="185.70" y="169.84" font-size="4.8" text-anchor="end" fill="#2a2a2a" stroke="#2a2a2a" stroke-width="0.1" transform="matrix(1 0 0 0.86 0 23.78)">6.5</text>
<path d="M187.70 282.50v1.5M204.62 282.50v1.5M221.55 282.50v1.5M238.47 282.50v1.5M255.39 282.50v1.5M272.32 282.50v1.5M289.24 282.50v1.5M187.70 282.50h-1.5M187.70 263.48h-1.5M187.70 244.47h-1.5M187.70 225.45h-1.5M187.70 206.43h-1.5M187.70 187.42h-1.5M187.70 168.40h-1.5" stroke="#555" stroke-width="0.7"/>
<text x="242.70" y="166.70" font-size="6.3" text-anchor="middle" fill="#2a2a2a" stroke="#2a2a2a" stroke-width="0.08" textLength="50.0" lengthAdjust="spacingAndGlyphs">North America: Obs</text>
<text x="245.00" y="294.60" font-size="5.2" text-anchor="middle" fill="#2a2a2a" stroke="#2a2a2a" stroke-width="0.1" textLength="36.0" lengthAdjust="spacingAndGlyphs">ln(P) ln[mm/d]</text>
<text x="177.15" y="226.00" font-size="5.5" text-anchor="middle" fill="#2a2a2a" stroke="#2a2a2a" stroke-width="0.1" transform="rotate(-90 177.15 226.00)" textLength="46.5" lengthAdjust="spacingAndGlyphs">ln(Nd) [ln(cm<tspan dy="-1.8" font-size="3.8">−3</tspan><tspan dy="1.8">)]</tspan></text>
<text x="185.40" y="159.58" font-size="11.3" text-anchor="start" fill="#3a3a3a" stroke="#3a3a3a" stroke-width="0.08" textLength="12.0" lengthAdjust="spacingAndGlyphs">(e)</text>
<rect x="304.30" y="168.40" width="5.90" height="114.10" fill="url(#cbge)"/>
<text x="312.40" y="274.93" font-size="4.8" text-anchor="start" fill="#2a2a2a" stroke="#2a2a2a" stroke-width="0.1" transform="matrix(1 0 0 0.86 0 38.49)">25</text>
<text x="312.40" y="259.92" font-size="4.8" text-anchor="start" fill="#2a2a2a" stroke="#2a2a2a" stroke-width="0.1" transform="matrix(1 0 0 0.86 0 36.39)">50</text>
<text x="312.40" y="244.91" font-size="4.8" text-anchor="start" fill="#2a2a2a" stroke="#2a2a2a" stroke-width="0.1" transform="matrix(1 0 0 0.86 0 34.29)">75</text>
<text x="312.40" y="229.89" font-size="4.8" text-anchor="start" fill="#2a2a2a" stroke="#2a2a2a" stroke-width="0.1" transform="matrix(1 0 0 0.86 0 32.18)">100</text>
<text x="312.40" y="214.88" font-size="4.8" text-anchor="start" fill="#2a2a2a" stroke="#2a2a2a" stroke-width="0.1" transform="matrix(1 0 0 0.86 0 30.08)">125</text>
<text x="312.40" y="199.87" font-size="4.8" text-anchor="start" fill="#2a2a2a" stroke="#2a2a2a" stroke-width="0.1" transform="matrix(1 0 0 0.86 0 27.98)">150</text>
<text x="312.40" y="184.85" font-size="4.8" text-anchor="start" fill="#2a2a2a" stroke="#2a2a2a" stroke-width="0.1" transform="matrix(1 0 0 0.86 0 25.88)">175</text>
<text x="312.40" y="169.84" font-size="4.8" text-anchor="start" fill="#2a2a2a" stroke="#2a2a2a" stroke-width="0.1" transform="matrix(1 0 0 0.86 0 23.78)">200</text>
<path d="M310.20 273.49h1.0M310.20 258.48h1.0M310.20 243.47h1.0M310.20 228.45h1.0M310.20 213.44h1.0M310.20 198.43h1.0M310.20 183.41h1.0M310.20 168.40h1.0" stroke="#777" stroke-width="0.5"/>
<text x="326.28" y="225.70" font-size="5.6" text-anchor="middle" fill="#2a2a2a" stroke="#2a2a2a" stroke-width="0.1" transform="rotate(-90 326.28 225.70)" textLength="29.6" lengthAdjust="spacingAndGlyphs">LWP [g/m<tspan dy="-1.8" font-size="3.9">2</tspan><tspan dy="1.8">]</tspan></text>
<rect x="357.50" y="169.60" width="105.10" height="110.80" fill="none" stroke="#666" stroke-width="0.8"/>
<text x="357.50" y="286.99" font-size="5.4" text-anchor="middle" fill="#2a2a2a" stroke="#2a2a2a" stroke-width="0.1" transform="matrix(1 0 0 0.86 0 40.18)">−3</text>
<text x="373.67" y="286.99" font-size="5.4" text-anchor="middle" fill="#2a2a2a" stroke="#2a2a2a" stroke-width="0.1" transform="matrix(1 0 0 0.86 0 40.18)">−2</text>
<text x="389.84" y="286.99" font-size="5.4" text-anchor="middle" fill="#2a2a2a" stroke="#2a2a2a" stroke-width="0.1" transform="matrix(1 0 0 0.86 0 40.18)">−1</text>
<text x="406.01" y="286.99" font-size="5.4" text-anchor="middle" fill="#2a2a2a" stroke="#2a2a2a" stroke-width="0.1" transform="matrix(1 0 0 0.86 0 40.18)">0</text>
<text x="422.18" y="286.99" font-size="5.4" text-anchor="middle" fill="#2a2a2a" stroke="#2a2a2a" stroke-width="0.1" transform="matrix(1 0 0 0.86 0 40.18)">1</text>
<text x="438.35" y="286.99" font-size="5.4" text-anchor="middle" fill="#2a2a2a" stroke="#2a2a2a" stroke-width="0.1" transform="matrix(1 0 0 0.86 0 40.18)">2</text>
<text x="454.52" y="286.99" font-size="5.4" text-anchor="middle" fill="#2a2a2a" stroke="#2a2a2a" stroke-width="0.1" transform="matrix(1 0 0 0.86 0 40.18)">3</text>
<text x="355.50" y="282.02" font-size="5.4" text-anchor="end" fill="#2a2a2a" stroke="#2a2a2a" stroke-width="0.1" transform="matrix(1 0 0 0.86 0 39.48)">3.5</text>
<text x="355.50" y="263.55" font-size="5.4" text-anchor="end" fill="#2a2a2a" stroke="#2a2a2a" stroke-width="0.1" transform="matrix(1 0 0 0.86 0 36.90)">4.0</text>
<text x="355.50" y="245.09" font-size="5.4" text-anchor="end" fill="#2a2a2a" stroke="#2a2a2a" stroke-width="0.1" transform="matrix(1 0 0 0.86 0 34.31)">4.5</text>
<text x="355.50" y="226.62" font-size="5.4" text-anchor="end" fill="#2a2a2a" stroke="#2a2a2a" stroke-width="0.1" transform="matrix(1 0 0 0.86 0 31.73)">5.0</text>
<text x="355.50" y="208.15" font-size="5.4" text-anchor="end" fill="#2a2a2a" stroke="#2a2a2a" stroke-width="0.1" transform="matrix(1 0 0 0.86 0 29.14)">5.5</text>
<text x="355.50" y="189.69" font-size="5.4" text-anchor="end" fill="#2a2a2a" stroke="#2a2a2a" stroke-width="0.1" transform="matrix(1 0 0 0.86 0 26.56)">6.0</text>
<text x="355.50" y="171.22" font-size="5.4" text-anchor="end" fill="#2a2a2a" stroke="#2a2a2a" stroke-width="0.1" transform="matrix(1 0 0 0.86 0 23.97)">6.5</text>
<path d="M357.50 280.40v1.5M373.67 280.40v1.5M389.84 280.40v1.5M406.01 280.40v1.5M422.18 280.40v1.5M438.35 280.40v1.5M454.52 280.40v1.5M357.50 280.40h-1.5M357.50 261.93h-1.5M357.50 243.47h-1.5M357.50 225.00h-1.5M357.50 206.53h-1.5M357.50 188.07h-1.5M357.50 169.60h-1.5" stroke="#555" stroke-width="0.7"/>
<text x="410.05" y="167.40" font-size="6.7" text-anchor="middle" fill="#2a2a2a" stroke="#2a2a2a" stroke-width="0.08" textLength="23.6" lengthAdjust="spacingAndGlyphs">NH: Obs</text>
<text x="408.10" y="294.00" font-size="5.8" text-anchor="middle" fill="#2a2a2a" stroke="#2a2a2a" stroke-width="0.1" textLength="42.2" lengthAdjust="spacingAndGlyphs">ln(P) ln[mm/d]</text>
<text x="344.82" y="224.40" font-size="6.4" text-anchor="middle" fill="#2a2a2a" stroke="#2a2a2a" stroke-width="0.08" transform="rotate(-90 344.82 224.40)" textLength="52.5" lengthAdjust="spacingAndGlyphs">ln(Nd) [ln(cm<tspan dy="-1.8" font-size="4.5">−3</tspan><tspan dy="1.8">)]</tspan></text>
<text x="347.10" y="159.58" font-size="11.3" text-anchor="start" fill="#3a3a3a" stroke="#3a3a3a" stroke-width="0.08" textLength="10.4" lengthAdjust="spacingAndGlyphs">(f)</text>
<rect x="469.20" y="169.60" width="5.70" height="110.80" fill="url(#cbgf)"/>
<text x="477.10" y="273.27" font-size="5.4" text-anchor="start" fill="#2a2a2a" stroke="#2a2a2a" stroke-width="0.1" transform="matrix(1 0 0 0.86 0 38.26)">25</text>
<text x="477.10" y="258.69" font-size="5.4" text-anchor="start" fill="#2a2a2a" stroke="#2a2a2a" stroke-width="0.1" transform="matrix(1 0 0 0.86 0 36.22)">50</text>
<text x="477.10" y="244.11" font-size="5.4" text-anchor="start" fill="#2a2a2a" stroke="#2a2a2a" stroke-width="0.1" transform="matrix(1 0 0 0.86 0 34.18)">75</text>
<text x="477.10" y="229.54" font-size="5.4" text-anchor="start" fill="#2a2a2a" stroke="#2a2a2a" stroke-width="0.1" transform="matrix(1 0 0 0.86 0 32.14)">100</text>
<text x="477.10" y="214.96" font-size="5.4" text-anchor="start" fill="#2a2a2a" stroke="#2a2a2a" stroke-width="0.1" transform="matrix(1 0 0 0.86 0 30.09)">125</text>
<text x="477.10" y="200.38" font-size="5.4" text-anchor="start" fill="#2a2a2a" stroke="#2a2a2a" stroke-width="0.1" transform="matrix(1 0 0 0.86 0 28.05)">150</text>
<text x="477.10" y="185.80" font-size="5.4" text-anchor="start" fill="#2a2a2a" stroke="#2a2a2a" stroke-width="0.1" transform="matrix(1 0 0 0.86 0 26.01)">175</text>
<text x="477.10" y="171.22" font-size="5.4" text-anchor="start" fill="#2a2a2a" stroke="#2a2a2a" stroke-width="0.1" transform="matrix(1 0 0 0.86 0 23.97)">200</text>
<path d="M474.90 271.65h1.0M474.90 257.07h1.0M474.90 242.49h1.0M474.90 227.92h1.0M474.90 213.34h1.0M474.90 198.76h1.0M474.90 184.18h1.0M474.90 169.60h1.0" stroke="#777" stroke-width="0.5"/>
<text x="493.52" y="225.40" font-size="6.4" text-anchor="middle" fill="#2a2a2a" stroke="#2a2a2a" stroke-width="0.08" transform="rotate(-90 493.52 225.40)" textLength="35.3" lengthAdjust="spacingAndGlyphs">LWP [g/m<tspan dy="-1.8" font-size="4.5">2</tspan><tspan dy="1.8">]</tspan></text>
<path d="M334 9.8V297.2" stroke="#7a7a7a" stroke-width="1" stroke-dasharray="3.4,3.07"/>
</svg></body></html>
